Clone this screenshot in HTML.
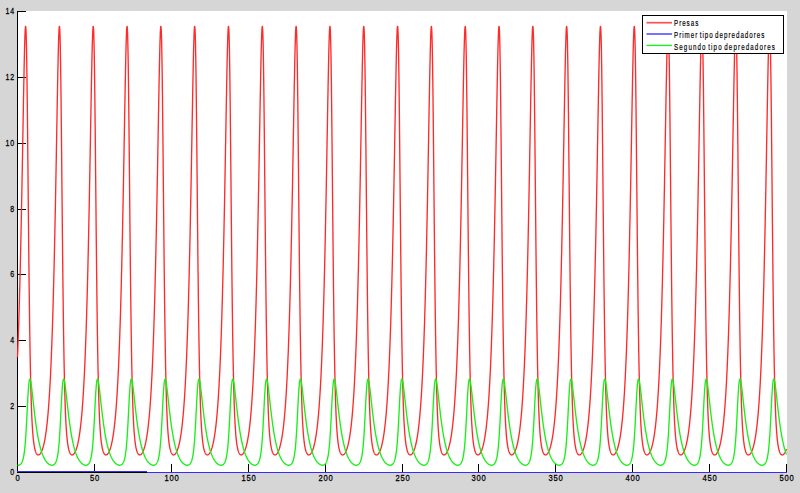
<!DOCTYPE html>
<html><head><meta charset="utf-8"><style>
html,body{margin:0;padding:0;}
body{width:800px;height:493px;background:#d6d6d6;position:relative;overflow:hidden;font-family:"Liberation Sans",sans-serif;}
svg{position:absolute;left:0;top:0;}
.lb{position:absolute;font-size:10px;line-height:10px;color:#000;white-space:nowrap;font-weight:bold;}
.yl{transform-origin:100% 50%;transform:translate(-0.2px,-1px) scale(0.7,0.95);text-align:right;width:30px;font-size:10px;font-weight:normal;letter-spacing:1px;-webkit-text-stroke:0.3px #000;}
.xl{transform-origin:50% 0;transform:translateY(-1.2px) scale(0.76,0.95);text-align:center;width:40px;font-size:10px;font-weight:normal;letter-spacing:1px;-webkit-text-stroke:0.3px #000;}
.lg{transform-origin:0 50%;transform:translateY(-0.8px) scale(0.62,0.92);letter-spacing:1.6px;word-spacing:-2px;font-weight:normal;-webkit-text-stroke:0.2px #000;}
</style></head><body>
<svg width="800" height="493" viewBox="0 0 800 493">
<rect x="17" y="11" width="770" height="461" fill="#fff"/>
<path d="M17.5,11 L17.5,473 M17,472.5 L787,472.5 M18,11.5 L26,11.5 M18,77.5 L26,77.5 M18,143.5 L26,143.5 M18,209.5 L26,209.5 M18,274.5 L26,274.5 M18,340.5 L26,340.5 M18,406.5 L26,406.5 M18,472.5 L26,472.5 M17.5,464 L17.5,472 M94.5,464 L94.5,472 M171.5,464 L171.5,472 M248.5,464 L248.5,472 M325.5,464 L325.5,472 M402.5,464 L402.5,472 M478.5,464 L478.5,472 M555.5,464 L555.5,472 M632.5,464 L632.5,472 M709.5,464 L709.5,472 M786.5,464 L786.5,472" fill="none" stroke="#000" stroke-width="1" shape-rendering="crispEdges"/>
<path d="M17.50,357.28 L17.63,354.13 L17.76,350.90 L17.88,347.58 L18.01,344.16 L18.14,340.66 L18.27,337.05 L18.40,333.35 L18.53,329.55 L18.65,325.65 L18.78,321.64 L18.91,317.52 L19.04,313.30 L19.17,308.97 L19.29,304.53 L19.42,299.98 L19.55,295.31 L19.68,290.52 L19.81,285.62 L19.94,280.60 L20.06,275.46 L20.19,270.20 L20.32,264.83 L20.45,259.32 L20.58,253.70 L20.70,247.96 L20.83,242.10 L20.96,236.12 L21.09,230.02 L21.22,223.80 L21.34,217.47 L21.47,211.04 L21.60,204.49 L21.73,197.84 L21.86,191.09 L21.99,184.26 L22.11,177.34 L22.24,170.34 L22.37,163.27 L22.50,156.15 L22.63,148.98 L22.75,141.77 L22.88,134.55 L23.01,127.33 L23.14,120.12 L23.27,112.95 L23.40,105.84 L23.52,98.81 L23.65,91.89 L23.78,85.10 L23.91,78.49 L24.04,72.07 L24.16,65.90 L24.29,60.00 L24.42,54.42 L24.55,49.21 L24.68,44.40 L24.81,40.05 L24.93,36.20 L25.06,32.91 L25.19,30.23 L25.32,28.21 L25.45,26.90 L25.57,26.35 L25.70,26.60 L25.83,27.69 L25.96,29.66 L26.09,32.55 L26.22,36.37 L26.34,41.13 L26.47,46.84 L26.60,53.50 L26.73,61.07 L26.86,69.53 L26.98,78.82 L27.11,88.91 L27.24,99.71 L27.37,111.15 L27.50,123.14 L27.63,135.59 L27.75,148.40 L27.88,161.47 L28.01,174.71 L28.14,188.01 L28.27,201.28 L28.39,214.43 L28.52,227.39 L28.65,240.08 L28.78,252.44 L28.91,264.43 L29.04,275.98 L29.16,287.08 L29.29,297.70 L29.42,307.82 L29.55,317.44 L29.68,326.54 L29.80,335.14 L29.93,343.25 L30.06,350.87 L30.19,358.02 L30.32,364.72 L30.44,370.99 L30.57,376.84 L30.70,382.31 L30.83,387.41 L30.96,392.16 L31.09,396.58 L31.21,400.70 L31.34,404.53 L31.47,408.10 L31.60,411.41 L31.73,414.50 L31.85,417.37 L31.98,420.04 L32.11,422.53 L32.24,424.84 L32.37,426.99 L32.50,429.00 L32.62,430.86 L32.75,432.60 L32.88,434.22 L33.01,435.73 L33.14,437.14 L33.26,438.46 L33.39,439.68 L33.52,440.83 L33.65,441.90 L33.78,442.90 L33.91,443.83 L34.03,444.70 L34.16,445.51 L34.29,446.27 L34.42,446.98 L34.55,447.65 L34.67,448.27 L34.80,448.85 L34.93,449.39 L35.06,449.89 L35.19,450.36 L35.32,450.80 L35.44,451.21 L35.57,451.59 L35.70,451.94 L35.83,452.27 L35.96,452.57 L36.08,452.85 L36.21,453.11 L36.34,453.35 L36.47,453.57 L36.60,453.77 L36.73,453.95 L36.85,454.11 L36.98,454.26 L37.11,454.39 L37.24,454.51 L37.37,454.61 L37.49,454.70 L37.62,454.78 L37.75,454.84 L37.88,454.88 L38.01,454.92 L38.13,454.94 L38.26,454.95 L38.39,454.95 L38.52,454.94 L38.65,454.92 L38.78,454.88 L38.90,454.83 L39.03,454.78 L39.16,454.71 L39.29,454.63 L39.42,454.54 L39.54,454.44 L39.67,454.33 L39.80,454.21 L39.93,454.08 L40.06,453.94 L40.19,453.78 L40.31,453.62 L40.44,453.45 L40.57,453.26 L40.70,453.07 L40.83,452.86 L40.95,452.64 L41.08,452.41 L41.21,452.17 L41.34,451.92 L41.47,451.65 L41.60,451.38 L41.72,451.09 L41.85,450.79 L41.98,450.48 L42.11,450.15 L42.24,449.81 L42.36,449.46 L42.49,449.10 L42.62,448.72 L42.75,448.32 L42.88,447.92 L43.01,447.49 L43.13,447.06 L43.26,446.60 L43.39,446.13 L43.52,445.65 L43.65,445.14 L43.77,444.62 L43.90,444.09 L44.03,443.53 L44.16,442.96 L44.29,442.36 L44.41,441.75 L44.54,441.12 L44.67,440.47 L44.80,439.79 L44.93,439.09 L45.06,438.38 L45.18,437.63 L45.31,436.87 L45.44,436.08 L45.57,435.27 L45.70,434.43 L45.82,433.56 L45.95,432.67 L46.08,431.75 L46.21,430.80 L46.34,429.82 L46.47,428.81 L46.59,427.77 L46.72,426.69 L46.85,425.59 L46.98,424.45 L47.11,423.27 L47.23,422.06 L47.36,420.81 L47.49,419.53 L47.62,418.20 L47.75,416.84 L47.88,415.43 L48.00,413.98 L48.13,412.49 L48.26,410.95 L48.39,409.37 L48.52,407.74 L48.64,406.06 L48.77,404.33 L48.90,402.54 L49.03,400.71 L49.16,398.82 L49.29,396.87 L49.41,394.87 L49.54,392.81 L49.67,390.69 L49.80,388.50 L49.93,386.25 L50.05,383.94 L50.18,381.56 L50.31,379.10 L50.44,376.58 L50.57,373.99 L50.70,371.32 L50.82,368.57 L50.95,365.75 L51.08,362.84 L51.21,359.85 L51.34,356.78 L51.46,353.62 L51.59,350.38 L51.72,347.04 L51.85,343.61 L51.98,340.09 L52.11,336.47 L52.23,332.75 L52.36,328.93 L52.49,325.01 L52.62,320.99 L52.75,316.86 L52.87,312.62 L53.00,308.27 L53.13,303.81 L53.26,299.24 L53.39,294.55 L53.51,289.75 L53.64,284.83 L53.77,279.79 L53.90,274.63 L54.03,269.36 L54.16,263.96 L54.28,258.44 L54.41,252.80 L54.54,247.04 L54.67,241.15 L54.80,235.15 L54.92,229.04 L55.05,222.80 L55.18,216.46 L55.31,210.00 L55.44,203.44 L55.57,196.77 L55.69,190.01 L55.82,183.16 L55.95,176.23 L56.08,169.22 L56.21,162.14 L56.33,155.01 L56.46,147.83 L56.59,140.62 L56.72,133.40 L56.85,126.18 L56.98,118.98 L57.10,111.82 L57.23,104.71 L57.36,97.70 L57.49,90.80 L57.62,84.04 L57.74,77.45 L57.87,71.07 L58.00,64.94 L58.13,59.09 L58.26,53.57 L58.39,48.41 L58.51,43.67 L58.64,39.40 L58.77,35.64 L58.90,32.45 L59.03,29.87 L59.15,27.96 L59.28,26.76 L59.41,26.33 L59.54,26.71 L59.67,27.94 L59.80,30.06 L59.92,33.10 L60.05,37.06 L60.18,41.98 L60.31,47.84 L60.44,54.64 L60.56,62.36 L60.69,70.95 L60.82,80.38 L60.95,90.58 L61.08,101.49 L61.20,113.02 L61.33,125.09 L61.46,137.61 L61.59,150.47 L61.72,163.57 L61.85,176.82 L61.97,190.12 L62.10,203.38 L62.23,216.51 L62.36,229.43 L62.49,242.07 L62.61,254.38 L62.74,266.30 L62.87,277.78 L63.00,288.81 L63.13,299.35 L63.26,309.39 L63.38,318.92 L63.51,327.95 L63.64,336.47 L63.77,344.49 L63.90,352.04 L64.02,359.12 L64.15,365.75 L64.28,371.95 L64.41,377.74 L64.54,383.15 L64.67,388.19 L64.79,392.88 L64.92,397.26 L65.05,401.33 L65.18,405.12 L65.31,408.64 L65.43,411.92 L65.56,414.97 L65.69,417.81 L65.82,420.45 L65.95,422.91 L66.08,425.19 L66.20,427.32 L66.33,429.30 L66.46,431.15 L66.59,432.87 L66.72,434.47 L66.84,435.97 L66.97,437.36 L67.10,438.66 L67.23,439.87 L67.36,441.00 L67.48,442.06 L67.61,443.05 L67.74,443.97 L67.87,444.83 L68.00,445.64 L68.13,446.39 L68.25,447.09 L68.38,447.75 L68.51,448.36 L68.64,448.93 L68.77,449.47 L68.89,449.97 L69.02,450.43 L69.15,450.87 L69.28,451.27 L69.41,451.65 L69.54,451.99 L69.66,452.32 L69.79,452.62 L69.92,452.89 L70.05,453.15 L70.18,453.39 L70.30,453.60 L70.43,453.80 L70.56,453.98 L70.69,454.14 L70.82,454.28 L70.95,454.41 L71.07,454.53 L71.20,454.63 L71.33,454.71 L71.46,454.79 L71.59,454.85 L71.71,454.89 L71.84,454.92 L71.97,454.95 L72.10,454.95 L72.23,454.95 L72.36,454.94 L72.48,454.91 L72.61,454.87 L72.74,454.83 L72.87,454.77 L73.00,454.70 L73.12,454.62 L73.25,454.53 L73.38,454.42 L73.51,454.31 L73.64,454.19 L73.77,454.06 L73.89,453.91 L74.02,453.76 L74.15,453.59 L74.28,453.42 L74.41,453.23 L74.53,453.03 L74.66,452.82 L74.79,452.60 L74.92,452.37 L75.05,452.13 L75.18,451.88 L75.30,451.61 L75.43,451.33 L75.56,451.04 L75.69,450.74 L75.82,450.43 L75.94,450.10 L76.07,449.76 L76.20,449.41 L76.33,449.04 L76.46,448.66 L76.58,448.26 L76.71,447.85 L76.84,447.42 L76.97,446.98 L77.10,446.53 L77.23,446.06 L77.35,445.57 L77.48,445.06 L77.61,444.54 L77.74,444.00 L77.87,443.44 L77.99,442.86 L78.12,442.27 L78.25,441.65 L78.38,441.02 L78.51,440.36 L78.64,439.68 L78.76,438.98 L78.89,438.26 L79.02,437.51 L79.15,436.75 L79.28,435.95 L79.40,435.13 L79.53,434.29 L79.66,433.42 L79.79,432.52 L79.92,431.60 L80.05,430.64 L80.17,429.66 L80.30,428.64 L80.43,427.60 L80.56,426.52 L80.69,425.41 L80.81,424.26 L80.94,423.08 L81.07,421.86 L81.20,420.61 L81.33,419.32 L81.46,417.99 L81.58,416.62 L81.71,415.20 L81.84,413.75 L81.97,412.25 L82.10,410.70 L82.22,409.11 L82.35,407.47 L82.48,405.78 L82.61,404.05 L82.74,402.26 L82.86,400.41 L82.99,398.51 L83.12,396.56 L83.25,394.55 L83.38,392.47 L83.51,390.34 L83.63,388.15 L83.76,385.89 L83.89,383.56 L84.02,381.17 L84.15,378.71 L84.27,376.17 L84.40,373.57 L84.53,370.88 L84.66,368.13 L84.79,365.29 L84.92,362.37 L85.04,359.37 L85.17,356.28 L85.30,353.11 L85.43,349.85 L85.56,346.50 L85.68,343.06 L85.81,339.52 L85.94,335.88 L86.07,332.15 L86.20,328.32 L86.33,324.38 L86.45,320.34 L86.58,316.19 L86.71,311.94 L86.84,307.57 L86.97,303.09 L87.09,298.50 L87.22,293.80 L87.35,288.98 L87.48,284.04 L87.61,278.98 L87.74,273.80 L87.86,268.51 L87.99,263.09 L88.12,257.55 L88.25,251.89 L88.38,246.11 L88.50,240.21 L88.63,234.19 L88.76,228.05 L88.89,221.80 L89.02,215.44 L89.15,208.96 L89.27,202.38 L89.40,195.70 L89.53,188.93 L89.66,182.06 L89.79,175.11 L89.91,168.09 L90.04,161.01 L90.17,153.87 L90.30,146.69 L90.43,139.48 L90.56,132.25 L90.68,125.03 L90.81,117.84 L90.94,110.68 L91.07,103.59 L91.20,96.59 L91.32,89.71 L91.45,82.98 L91.58,76.42 L91.71,70.08 L91.84,63.99 L91.96,58.19 L92.09,52.72 L92.22,47.63 L92.35,42.96 L92.48,38.77 L92.61,35.09 L92.73,31.99 L92.86,29.52 L92.99,27.72 L93.12,26.64 L93.25,26.34 L93.37,26.85 L93.50,28.22 L93.63,30.48 L93.76,33.66 L93.89,37.78 L94.02,42.85 L94.14,48.86 L94.27,55.81 L94.40,63.67 L94.53,72.40 L94.66,81.95 L94.78,92.27 L94.91,103.29 L95.04,114.91 L95.17,127.06 L95.30,139.63 L95.43,152.54 L95.55,165.67 L95.68,178.94 L95.81,192.24 L95.94,205.48 L96.07,218.58 L96.19,231.46 L96.32,244.06 L96.45,256.30 L96.58,268.15 L96.71,279.57 L96.84,290.52 L96.96,300.98 L97.09,310.94 L97.22,320.39 L97.35,329.34 L97.48,337.78 L97.60,345.73 L97.73,353.20 L97.86,360.20 L97.99,366.76 L98.12,372.90 L98.25,378.63 L98.37,383.97 L98.50,388.96 L98.63,393.60 L98.76,397.92 L98.89,401.95 L99.01,405.70 L99.14,409.18 L99.27,412.42 L99.40,415.44 L99.53,418.24 L99.65,420.85 L99.78,423.28 L99.91,425.54 L100.04,427.65 L100.17,429.61 L100.30,431.43 L100.42,433.13 L100.55,434.72 L100.68,436.19 L100.81,437.57 L100.94,438.86 L101.06,440.06 L101.19,441.18 L101.32,442.22 L101.45,443.20 L101.58,444.11 L101.71,444.97 L101.83,445.76 L101.96,446.51 L102.09,447.20 L102.22,447.85 L102.35,448.46 L102.47,449.02 L102.60,449.55 L102.73,450.04 L102.86,450.50 L102.99,450.93 L103.12,451.33 L103.24,451.70 L103.37,452.05 L103.50,452.37 L103.63,452.66 L103.76,452.94 L103.88,453.19 L104.01,453.42 L104.14,453.63 L104.27,453.83 L104.40,454.00 L104.53,454.16 L104.65,454.31 L104.78,454.43 L104.91,454.55 L105.04,454.64 L105.17,454.73 L105.29,454.80 L105.42,454.85 L105.55,454.90 L105.68,454.93 L105.81,454.95 L105.94,454.95 L106.06,454.95 L106.19,454.93 L106.32,454.91 L106.45,454.87 L106.58,454.82 L106.70,454.76 L106.83,454.69 L106.96,454.60 L107.09,454.51 L107.22,454.41 L107.34,454.29 L107.47,454.17 L107.60,454.03 L107.73,453.89 L107.86,453.73 L107.99,453.57 L108.11,453.39 L108.24,453.20 L108.37,453.00 L108.50,452.79 L108.63,452.57 L108.75,452.34 L108.88,452.09 L109.01,451.84 L109.14,451.57 L109.27,451.29 L109.40,451.00 L109.52,450.69 L109.65,450.38 L109.78,450.05 L109.91,449.70 L110.04,449.35 L110.16,448.98 L110.29,448.59 L110.42,448.20 L110.55,447.78 L110.68,447.36 L110.81,446.91 L110.93,446.45 L111.06,445.98 L111.19,445.49 L111.32,444.98 L111.45,444.45 L111.57,443.91 L111.70,443.35 L111.83,442.77 L111.96,442.17 L112.09,441.55 L112.22,440.91 L112.34,440.25 L112.47,439.57 L112.60,438.87 L112.73,438.14 L112.86,437.39 L112.98,436.62 L113.11,435.82 L113.24,435.00 L113.37,434.15 L113.50,433.28 L113.62,432.38 L113.75,431.45 L113.88,430.49 L114.01,429.50 L114.14,428.48 L114.27,427.43 L114.39,426.34 L114.52,425.23 L114.65,424.08 L114.78,422.89 L114.91,421.67 L115.03,420.41 L115.16,419.11 L115.29,417.77 L115.42,416.39 L115.55,414.97 L115.68,413.51 L115.80,412.00 L115.93,410.45 L116.06,408.85 L116.19,407.21 L116.32,405.51 L116.44,403.76 L116.57,401.97 L116.70,400.11 L116.83,398.21 L116.96,396.24 L117.09,394.22 L117.21,392.14 L117.34,390.00 L117.47,387.79 L117.60,385.52 L117.73,383.19 L117.85,380.78 L117.98,378.31 L118.11,375.76 L118.24,373.14 L118.37,370.45 L118.50,367.68 L118.62,364.83 L118.75,361.90 L118.88,358.88 L119.01,355.79 L119.14,352.60 L119.26,349.33 L119.39,345.96 L119.52,342.50 L119.65,338.95 L119.78,335.30 L119.91,331.55 L120.03,327.70 L120.16,323.74 L120.29,319.69 L120.42,315.52 L120.55,311.25 L120.67,306.87 L120.80,302.37 L120.93,297.76 L121.06,293.04 L121.19,288.20 L121.31,283.24 L121.44,278.16 L121.57,272.97 L121.70,267.65 L121.83,262.21 L121.96,256.66 L122.08,250.98 L122.21,245.18 L122.34,239.26 L122.47,233.22 L122.60,227.06 L122.72,220.79 L122.85,214.41 L122.98,207.92 L123.11,201.33 L123.24,194.63 L123.37,187.84 L123.49,180.96 L123.62,174.00 L123.75,166.97 L123.88,159.87 L124.01,152.73 L124.13,145.54 L124.26,138.33 L124.39,131.10 L124.52,123.88 L124.65,116.69 L124.78,109.55 L124.90,102.47 L125.03,95.49 L125.16,88.63 L125.29,81.92 L125.42,75.40 L125.54,69.09 L125.67,63.04 L125.80,57.29 L125.93,51.88 L126.06,46.86 L126.19,42.26 L126.31,38.15 L126.44,34.56 L126.57,31.56 L126.70,29.18 L126.83,27.49 L126.95,26.54 L127.08,26.36 L127.21,27.01 L127.34,28.52 L127.47,30.93 L127.60,34.26 L127.72,38.53 L127.85,43.74 L127.98,49.91 L128.11,57.00 L128.24,65.00 L128.36,73.86 L128.49,83.55 L128.62,93.98 L128.75,105.10 L128.88,116.81 L129.00,129.03 L129.13,141.67 L129.26,154.62 L129.39,167.78 L129.52,181.06 L129.65,194.35 L129.77,207.58 L129.90,220.65 L130.03,233.49 L130.16,246.03 L130.29,258.22 L130.41,270.00 L130.54,281.34 L130.67,292.22 L130.80,302.60 L130.93,312.48 L131.06,321.85 L131.18,330.71 L131.31,339.08 L131.44,346.95 L131.57,354.34 L131.70,361.27 L131.82,367.77 L131.95,373.83 L132.08,379.50 L132.21,384.79 L132.34,389.72 L132.47,394.31 L132.59,398.58 L132.72,402.56 L132.85,406.27 L132.98,409.71 L133.11,412.92 L133.23,415.90 L133.36,418.67 L133.49,421.25 L133.62,423.65 L133.75,425.89 L133.88,427.97 L134.00,429.90 L134.13,431.71 L134.26,433.39 L134.39,434.96 L134.52,436.42 L134.64,437.78 L134.77,439.05 L134.90,440.24 L135.03,441.35 L135.16,442.38 L135.29,443.35 L135.41,444.25 L135.54,445.10 L135.67,445.88 L135.80,446.62 L135.93,447.31 L136.05,447.95 L136.18,448.55 L136.31,449.11 L136.44,449.63 L136.57,450.12 L136.69,450.57 L136.82,451.00 L136.95,451.39 L137.08,451.76 L137.21,452.10 L137.34,452.42 L137.46,452.71 L137.59,452.98 L137.72,453.23 L137.85,453.46 L137.98,453.67 L138.10,453.86 L138.23,454.03 L138.36,454.19 L138.49,454.33 L138.62,454.45 L138.75,454.56 L138.87,454.66 L139.00,454.74 L139.13,454.81 L139.26,454.86 L139.39,454.90 L139.51,454.93 L139.64,454.95 L139.77,454.95 L139.90,454.95 L140.03,454.93 L140.16,454.90 L140.28,454.86 L140.41,454.81 L140.54,454.75 L140.67,454.67 L140.80,454.59 L140.92,454.50 L141.05,454.39 L141.18,454.27 L141.31,454.15 L141.44,454.01 L141.57,453.86 L141.69,453.71 L141.82,453.54 L141.95,453.36 L142.08,453.17 L142.21,452.97 L142.33,452.76 L142.46,452.53 L142.59,452.30 L142.72,452.05 L142.85,451.79 L142.98,451.52 L143.10,451.24 L143.23,450.95 L143.36,450.64 L143.49,450.32 L143.62,449.99 L143.74,449.65 L143.87,449.29 L144.00,448.92 L144.13,448.53 L144.26,448.13 L144.38,447.72 L144.51,447.29 L144.64,446.84 L144.77,446.38 L144.90,445.90 L145.03,445.41 L145.15,444.90 L145.28,444.37 L145.41,443.82 L145.54,443.26 L145.67,442.68 L145.79,442.07 L145.92,441.45 L146.05,440.81 L146.18,440.15 L146.31,439.46 L146.44,438.75 L146.56,438.03 L146.69,437.27 L146.82,436.50 L146.95,435.69 L147.08,434.87 L147.20,434.02 L147.33,433.14 L147.46,432.23 L147.59,431.30 L147.72,430.33 L147.85,429.34 L147.97,428.31 L148.10,427.26 L148.23,426.17 L148.36,425.05 L148.49,423.89 L148.61,422.70 L148.74,421.47 L148.87,420.20 L149.00,418.90 L149.13,417.55 L149.26,416.17 L149.38,414.74 L149.51,413.27 L149.64,411.76 L149.77,410.20 L149.90,408.59 L150.02,406.94 L150.15,405.24 L150.28,403.48 L150.41,401.67 L150.54,399.81 L150.67,397.90 L150.79,395.92 L150.92,393.89 L151.05,391.80 L151.18,389.65 L151.31,387.43 L151.43,385.15 L151.56,382.81 L151.69,380.39 L151.82,377.91 L151.95,375.35 L152.08,372.72 L152.20,370.01 L152.33,367.23 L152.46,364.37 L152.59,361.42 L152.72,358.40 L152.84,355.28 L152.97,352.08 L153.10,348.80 L153.23,345.42 L153.36,341.94 L153.48,338.37 L153.61,334.71 L153.74,330.94 L153.87,327.08 L154.00,323.11 L154.13,319.03 L154.25,314.85 L154.38,310.56 L154.51,306.16 L154.64,301.64 L154.77,297.02 L154.89,292.28 L155.02,287.42 L155.15,282.44 L155.28,277.34 L155.41,272.13 L155.54,266.79 L155.66,261.34 L155.79,255.76 L155.92,250.06 L156.05,244.24 L156.18,238.30 L156.30,232.25 L156.43,226.07 L156.56,219.79 L156.69,213.39 L156.82,206.88 L156.95,200.27 L157.07,193.56 L157.20,186.75 L157.33,179.86 L157.46,172.89 L157.59,165.84 L157.71,158.74 L157.84,151.58 L157.97,144.39 L158.10,137.18 L158.23,129.95 L158.36,122.74 L158.48,115.55 L158.61,108.41 L158.74,101.35 L158.87,94.39 L159.00,87.55 L159.12,80.87 L159.25,74.38 L159.38,68.11 L159.51,62.11 L159.64,56.41 L159.77,51.06 L159.89,46.09 L160.02,41.57 L160.15,37.54 L160.28,34.04 L160.41,31.13 L160.53,28.87 L160.66,27.29 L160.79,26.46 L160.92,26.41 L161.05,27.19 L161.17,28.84 L161.30,31.40 L161.43,34.87 L161.56,39.29 L161.69,44.66 L161.82,50.97 L161.94,58.21 L162.07,66.35 L162.20,75.35 L162.33,85.16 L162.46,95.71 L162.58,106.92 L162.71,118.73 L162.84,131.02 L162.97,143.71 L163.10,156.70 L163.23,169.89 L163.35,183.18 L163.48,196.47 L163.61,209.67 L163.74,222.71 L163.87,235.51 L163.99,248.00 L164.12,260.12 L164.25,271.84 L164.38,283.11 L164.51,293.90 L164.64,304.21 L164.76,314.00 L164.89,323.29 L165.02,332.08 L165.15,340.36 L165.28,348.16 L165.40,355.48 L165.53,362.34 L165.66,368.76 L165.79,374.76 L165.92,380.37 L166.05,385.60 L166.17,390.47 L166.30,395.01 L166.43,399.24 L166.56,403.17 L166.69,406.83 L166.81,410.24 L166.94,413.41 L167.07,416.35 L167.20,419.09 L167.33,421.64 L167.46,424.02 L167.58,426.23 L167.71,428.28 L167.84,430.20 L167.97,431.98 L168.10,433.65 L168.22,435.20 L168.35,436.64 L168.48,437.99 L168.61,439.25 L168.74,440.42 L168.86,441.52 L168.99,442.54 L169.12,443.50 L169.25,444.39 L169.38,445.22 L169.51,446.00 L169.63,446.73 L169.76,447.41 L169.89,448.05 L170.02,448.64 L170.15,449.19 L170.27,449.71 L170.40,450.19 L170.53,450.64 L170.66,451.06 L170.79,451.45 L170.92,451.82 L171.04,452.15 L171.17,452.46 L171.30,452.75 L171.43,453.02 L171.56,453.27 L171.68,453.49 L171.81,453.70 L171.94,453.89 L172.07,454.06 L172.20,454.21 L172.33,454.35 L172.45,454.47 L172.58,454.58 L172.71,454.67 L172.84,454.75 L172.97,454.82 L173.09,454.87 L173.22,454.91 L173.35,454.94 L173.48,454.95 L173.61,454.95 L173.74,454.95 L173.86,454.93 L173.99,454.89 L174.12,454.85 L174.25,454.80 L174.38,454.74 L174.50,454.66 L174.63,454.58 L174.76,454.48 L174.89,454.37 L175.02,454.26 L175.15,454.13 L175.27,453.99 L175.40,453.84 L175.53,453.68 L175.66,453.51 L175.79,453.33 L175.91,453.14 L176.04,452.93 L176.17,452.72 L176.30,452.50 L176.43,452.26 L176.55,452.01 L176.68,451.75 L176.81,451.48 L176.94,451.20 L177.07,450.90 L177.20,450.59 L177.32,450.27 L177.45,449.94 L177.58,449.59 L177.71,449.23 L177.84,448.86 L177.96,448.47 L178.09,448.07 L178.22,447.65 L178.35,447.22 L178.48,446.77 L178.61,446.30 L178.73,445.82 L178.86,445.33 L178.99,444.81 L179.12,444.28 L179.25,443.73 L179.37,443.17 L179.50,442.58 L179.63,441.98 L179.76,441.35 L179.89,440.71 L180.02,440.04 L180.14,439.35 L180.27,438.64 L180.40,437.91 L180.53,437.15 L180.66,436.37 L180.78,435.56 L180.91,434.73 L181.04,433.88 L181.17,432.99 L181.30,432.08 L181.43,431.14 L181.55,430.18 L181.68,429.18 L181.81,428.15 L181.94,427.09 L182.07,425.99 L182.19,424.86 L182.32,423.70 L182.45,422.50 L182.58,421.27 L182.71,420.00 L182.84,418.69 L182.96,417.34 L183.09,415.95 L183.22,414.51 L183.35,413.04 L183.48,411.51 L183.60,409.95 L183.73,408.33 L183.86,406.67 L183.99,404.96 L184.12,403.20 L184.24,401.38 L184.37,399.51 L184.50,397.59 L184.63,395.60 L184.76,393.56 L184.89,391.46 L185.01,389.30 L185.14,387.08 L185.27,384.79 L185.40,382.43 L185.53,380.00 L185.65,377.51 L185.78,374.94 L185.91,372.29 L186.04,369.58 L186.17,366.78 L186.30,363.91 L186.42,360.95 L186.55,357.91 L186.68,354.78 L186.81,351.57 L186.94,348.26 L187.06,344.87 L187.19,341.38 L187.32,337.80 L187.45,334.11 L187.58,330.33 L187.71,326.45 L187.83,322.46 L187.96,318.37 L188.09,314.17 L188.22,309.87 L188.35,305.45 L188.47,300.92 L188.60,296.27 L188.73,291.51 L188.86,286.63 L188.99,281.64 L189.12,276.52 L189.24,271.29 L189.37,265.93 L189.50,260.46 L189.63,254.86 L189.76,249.14 L189.88,243.30 L190.01,237.35 L190.14,231.27 L190.27,225.08 L190.40,218.77 L190.53,212.36 L190.65,205.83 L190.78,199.21 L190.91,192.48 L191.04,185.66 L191.17,178.75 L191.29,171.77 L191.42,164.72 L191.55,157.60 L191.68,150.44 L191.81,143.24 L191.93,136.03 L192.06,128.80 L192.19,121.59 L192.32,114.41 L192.45,107.28 L192.58,100.24 L192.70,93.29 L192.83,86.47 L192.96,79.82 L193.09,73.36 L193.22,67.14 L193.34,61.18 L193.47,55.53 L193.60,50.24 L193.73,45.34 L193.86,40.90 L193.99,36.94 L194.11,33.54 L194.24,30.73 L194.37,28.57 L194.50,27.11 L194.63,26.40 L194.75,26.48 L194.88,27.40 L195.01,29.19 L195.14,31.89 L195.27,35.51 L195.40,40.08 L195.52,45.60 L195.65,52.06 L195.78,59.45 L195.91,67.73 L196.04,76.86 L196.16,86.79 L196.29,97.45 L196.42,108.77 L196.55,120.65 L196.68,133.02 L196.81,145.76 L196.93,158.79 L197.06,172.00 L197.19,185.29 L197.32,198.58 L197.45,211.76 L197.57,224.77 L197.70,237.52 L197.83,249.95 L197.96,262.02 L198.09,273.66 L198.22,284.86 L198.34,295.58 L198.47,305.80 L198.60,315.52 L198.73,324.73 L198.86,333.43 L198.98,341.64 L199.11,349.35 L199.24,356.60 L199.37,363.39 L199.50,369.74 L199.62,375.68 L199.75,381.23 L199.88,386.40 L200.01,391.22 L200.14,395.70 L200.27,399.88 L200.39,403.77 L200.52,407.39 L200.65,410.76 L200.78,413.89 L200.91,416.80 L201.03,419.51 L201.16,422.03 L201.29,424.38 L201.42,426.57 L201.55,428.60 L201.68,430.49 L201.80,432.26 L201.93,433.90 L202.06,435.43 L202.19,436.86 L202.32,438.20 L202.44,439.44 L202.57,440.60 L202.70,441.69 L202.83,442.70 L202.96,443.64 L203.09,444.53 L203.21,445.35 L203.34,446.12 L203.47,446.84 L203.60,447.52 L203.73,448.14 L203.85,448.73 L203.98,449.28 L204.11,449.79 L204.24,450.27 L204.37,450.71 L204.50,451.13 L204.62,451.51 L204.75,451.87 L204.88,452.20 L205.01,452.51 L205.14,452.80 L205.26,453.06 L205.39,453.30 L205.52,453.52 L205.65,453.73 L205.78,453.91 L205.91,454.08 L206.03,454.23 L206.16,454.37 L206.29,454.49 L206.42,454.59 L206.55,454.68 L206.67,454.76 L206.80,454.83 L206.93,454.88 L207.06,454.91 L207.19,454.94 L207.31,454.95 L207.44,454.95 L207.57,454.94 L207.70,454.92 L207.83,454.89 L207.96,454.84 L208.08,454.79 L208.21,454.72 L208.34,454.65 L208.47,454.56 L208.60,454.46 L208.72,454.35 L208.85,454.24 L208.98,454.11 L209.11,453.97 L209.24,453.82 L209.37,453.65 L209.49,453.48 L209.62,453.30 L209.75,453.11 L209.88,452.90 L210.01,452.69 L210.13,452.46 L210.26,452.22 L210.39,451.97 L210.52,451.71 L210.65,451.44 L210.78,451.15 L210.90,450.85 L211.03,450.54 L211.16,450.22 L211.29,449.88 L211.42,449.54 L211.54,449.17 L211.67,448.80 L211.80,448.41 L211.93,448.00 L212.06,447.58 L212.19,447.15 L212.31,446.70 L212.44,446.23 L212.57,445.75 L212.70,445.25 L212.83,444.73 L212.95,444.20 L213.08,443.65 L213.21,443.08 L213.34,442.49 L213.47,441.88 L213.59,441.25 L213.72,440.60 L213.85,439.93 L213.98,439.24 L214.11,438.52 L214.24,437.79 L214.36,437.03 L214.49,436.24 L214.62,435.43 L214.75,434.60 L214.88,433.74 L215.00,432.85 L215.13,431.94 L215.26,430.99 L215.39,430.02 L215.52,429.01 L215.65,427.98 L215.77,426.91 L215.90,425.81 L216.03,424.68 L216.16,423.51 L216.29,422.31 L216.41,421.07 L216.54,419.79 L216.67,418.48 L216.80,417.12 L216.93,415.72 L217.06,414.28 L217.18,412.80 L217.31,411.27 L217.44,409.69 L217.57,408.07 L217.70,406.40 L217.82,404.68 L217.95,402.91 L218.08,401.09 L218.21,399.21 L218.34,397.28 L218.47,395.28 L218.59,393.23 L218.72,391.12 L218.85,388.95 L218.98,386.72 L219.11,384.41 L219.23,382.05 L219.36,379.61 L219.49,377.10 L219.62,374.52 L219.75,371.87 L219.88,369.14 L220.00,366.33 L220.13,363.44 L220.26,360.47 L220.39,357.42 L220.52,354.27 L220.64,351.05 L220.77,347.73 L220.90,344.32 L221.03,340.82 L221.16,337.22 L221.28,333.52 L221.41,329.72 L221.54,325.82 L221.67,321.82 L221.80,317.71 L221.93,313.49 L222.05,309.17 L222.18,304.73 L222.31,300.18 L222.44,295.52 L222.57,290.74 L222.69,285.84 L222.82,280.83 L222.95,275.70 L223.08,270.44 L223.21,265.07 L223.34,259.57 L223.46,253.96 L223.59,248.22 L223.72,242.36 L223.85,236.39 L223.98,230.29 L224.10,224.08 L224.23,217.76 L224.36,211.33 L224.49,204.78 L224.62,198.14 L224.75,191.40 L224.87,184.57 L225.00,177.65 L225.13,170.65 L225.26,163.59 L225.39,156.47 L225.51,149.30 L225.64,142.10 L225.77,134.88 L225.90,127.65 L226.03,120.45 L226.16,113.27 L226.28,106.16 L226.41,99.12 L226.54,92.19 L226.67,85.40 L226.80,78.78 L226.92,72.36 L227.05,66.17 L227.18,60.26 L227.31,54.66 L227.44,49.43 L227.57,44.60 L227.69,40.23 L227.82,36.36 L227.95,33.05 L228.08,30.34 L228.21,28.29 L228.33,26.94 L228.46,26.35 L228.59,26.57 L228.72,27.62 L228.85,29.56 L228.97,32.40 L229.10,36.18 L229.23,40.90 L229.36,46.57 L229.49,53.18 L229.62,60.71 L229.74,69.13 L229.87,78.39 L230.00,88.44 L230.13,99.21 L230.26,110.62 L230.38,122.59 L230.51,135.02 L230.64,147.82 L230.77,160.88 L230.90,174.11 L231.03,187.41 L231.15,200.69 L231.28,213.85 L231.41,226.82 L231.54,239.52 L231.67,251.90 L231.79,263.90 L231.92,275.48 L232.05,286.60 L232.18,297.24 L232.31,307.38 L232.44,317.02 L232.56,326.15 L232.69,334.77 L232.82,342.90 L232.95,350.54 L233.08,357.71 L233.20,364.43 L233.33,370.72 L233.46,376.59 L233.59,382.07 L233.72,387.19 L233.85,391.95 L233.97,396.39 L234.10,400.52 L234.23,404.37 L234.36,407.94 L234.49,411.27 L234.61,414.37 L234.74,417.25 L234.87,419.93 L235.00,422.42 L235.13,424.74 L235.26,426.90 L235.38,428.91 L235.51,430.78 L235.64,432.53 L235.77,434.15 L235.90,435.67 L236.02,437.08 L236.15,438.40 L236.28,439.63 L236.41,440.78 L236.54,441.85 L236.66,442.85 L236.79,443.79 L236.92,444.66 L237.05,445.48 L237.18,446.24 L237.31,446.95 L237.43,447.62 L237.56,448.24 L237.69,448.82 L237.82,449.36 L237.95,449.87 L238.07,450.34 L238.20,450.78 L238.33,451.19 L238.46,451.57 L238.59,451.93 L238.72,452.25 L238.84,452.56 L238.97,452.84 L239.10,453.10 L239.23,453.34 L239.36,453.56 L239.48,453.76 L239.61,453.94 L239.74,454.11 L239.87,454.26 L240.00,454.39 L240.13,454.51 L240.25,454.61 L240.38,454.70 L240.51,454.77 L240.64,454.83 L240.77,454.88 L240.89,454.92 L241.02,454.94 L241.15,454.95 L241.28,454.95 L241.41,454.94 L241.54,454.92 L241.66,454.88 L241.79,454.84 L241.92,454.78 L242.05,454.71 L242.18,454.63 L242.30,454.55 L242.43,454.45 L242.56,454.34 L242.69,454.22 L242.82,454.08 L242.95,453.94 L243.07,453.79 L243.20,453.63 L243.33,453.45 L243.46,453.27 L243.59,453.07 L243.71,452.87 L243.84,452.65 L243.97,452.42 L244.10,452.18 L244.23,451.93 L244.36,451.67 L244.48,451.39 L244.61,451.10 L244.74,450.80 L244.87,450.49 L245.00,450.17 L245.12,449.83 L245.25,449.48 L245.38,449.11 L245.51,448.73 L245.64,448.34 L245.76,447.93 L245.89,447.51 L246.02,447.08 L246.15,446.62 L246.28,446.15 L246.41,445.67 L246.53,445.17 L246.66,444.65 L246.79,444.11 L246.92,443.56 L247.05,442.98 L247.17,442.39 L247.30,441.78 L247.43,441.15 L247.56,440.50 L247.69,439.82 L247.82,439.13 L247.94,438.41 L248.07,437.67 L248.20,436.90 L248.33,436.12 L248.46,435.30 L248.58,434.46 L248.71,433.60 L248.84,432.71 L248.97,431.79 L249.10,430.84 L249.23,429.86 L249.35,428.85 L249.48,427.81 L249.61,426.74 L249.74,425.64 L249.87,424.50 L249.99,423.32 L250.12,422.12 L250.25,420.87 L250.38,419.58 L250.51,418.26 L250.64,416.90 L250.76,415.49 L250.89,414.05 L251.02,412.56 L251.15,411.02 L251.28,409.44 L251.40,407.81 L251.53,406.13 L251.66,404.40 L251.79,402.62 L251.92,400.79 L252.05,398.90 L252.17,396.96 L252.30,394.96 L252.43,392.90 L252.56,390.78 L252.69,388.60 L252.81,386.35 L252.94,384.04 L253.07,381.66 L253.20,379.21 L253.33,376.70 L253.45,374.10 L253.58,371.44 L253.71,368.69 L253.84,365.87 L253.97,362.97 L254.10,359.99 L254.22,356.92 L254.35,353.77 L254.48,350.52 L254.61,347.19 L254.74,343.77 L254.86,340.25 L254.99,336.63 L255.12,332.92 L255.25,329.11 L255.38,325.19 L255.51,321.17 L255.63,317.05 L255.76,312.81 L255.89,308.47 L256.02,304.02 L256.15,299.45 L256.27,294.77 L256.40,289.97 L256.53,285.05 L256.66,280.02 L256.79,274.87 L256.92,269.60 L257.04,264.20 L257.17,258.69 L257.30,253.05 L257.43,247.30 L257.56,241.42 L257.68,235.43 L257.81,229.31 L257.94,223.08 L258.07,216.74 L258.20,210.29 L258.33,203.73 L258.45,197.07 L258.58,190.32 L258.71,183.47 L258.84,176.54 L258.97,169.53 L259.09,162.46 L259.22,155.33 L259.35,148.15 L259.48,140.95 L259.61,133.73 L259.74,126.50 L259.86,119.30 L259.99,112.14 L260.12,105.03 L260.25,98.01 L260.38,91.10 L260.50,84.34 L260.63,77.74 L260.76,71.35 L260.89,65.21 L261.02,59.35 L261.14,53.81 L261.27,48.63 L261.40,43.88 L261.53,39.58 L261.66,35.80 L261.79,32.58 L261.91,29.97 L262.04,28.03 L262.17,26.80 L262.30,26.33 L262.43,26.68 L262.55,27.87 L262.68,29.95 L262.81,32.94 L262.94,36.87 L263.07,41.74 L263.20,47.56 L263.32,54.32 L263.45,61.99 L263.58,70.55 L263.71,79.94 L263.84,90.11 L263.96,100.99 L264.09,112.49 L264.22,124.54 L264.35,137.04 L264.48,149.88 L264.61,162.98 L264.73,176.23 L264.86,189.53 L264.99,202.79 L265.12,215.93 L265.25,228.86 L265.37,241.51 L265.50,253.84 L265.63,265.77 L265.76,277.28 L265.89,288.32 L266.02,298.89 L266.14,308.95 L266.27,318.50 L266.40,327.55 L266.53,336.10 L266.66,344.15 L266.78,351.71 L266.91,358.81 L267.04,365.46 L267.17,371.68 L267.30,377.49 L267.43,382.91 L267.55,387.97 L267.68,392.68 L267.81,397.07 L267.94,401.15 L268.07,404.95 L268.19,408.49 L268.32,411.78 L268.45,414.84 L268.58,417.69 L268.71,420.34 L268.83,422.80 L268.96,425.09 L269.09,427.23 L269.22,429.22 L269.35,431.07 L269.48,432.79 L269.60,434.40 L269.73,435.90 L269.86,437.30 L269.99,438.60 L270.12,439.82 L270.24,440.96 L270.37,442.02 L270.50,443.01 L270.63,443.93 L270.76,444.80 L270.89,445.60 L271.01,446.36 L271.14,447.06 L271.27,447.72 L271.40,448.34 L271.53,448.91 L271.65,449.45 L271.78,449.95 L271.91,450.41 L272.04,450.85 L272.17,451.25 L272.30,451.63 L272.42,451.98 L272.55,452.30 L272.68,452.60 L272.81,452.88 L272.94,453.14 L273.06,453.38 L273.19,453.59 L273.32,453.79 L273.45,453.97 L273.58,454.13 L273.71,454.28 L273.83,454.41 L273.96,454.52 L274.09,454.62 L274.22,454.71 L274.35,454.78 L274.47,454.84 L274.60,454.89 L274.73,454.92 L274.86,454.94 L274.99,454.95 L275.12,454.95 L275.24,454.94 L275.37,454.91 L275.50,454.88 L275.63,454.83 L275.76,454.77 L275.88,454.70 L276.01,454.62 L276.14,454.53 L276.27,454.43 L276.40,454.32 L276.52,454.20 L276.65,454.06 L276.78,453.92 L276.91,453.77 L277.04,453.60 L277.17,453.43 L277.29,453.24 L277.42,453.04 L277.55,452.83 L277.68,452.61 L277.81,452.38 L277.93,452.14 L278.06,451.89 L278.19,451.62 L278.32,451.35 L278.45,451.06 L278.58,450.76 L278.70,450.44 L278.83,450.11 L278.96,449.77 L279.09,449.42 L279.22,449.05 L279.34,448.67 L279.47,448.28 L279.60,447.87 L279.73,447.44 L279.86,447.00 L279.99,446.55 L280.11,446.08 L280.24,445.59 L280.37,445.08 L280.50,444.56 L280.63,444.02 L280.75,443.47 L280.88,442.89 L281.01,442.29 L281.14,441.68 L281.27,441.04 L281.40,440.39 L281.52,439.71 L281.65,439.01 L281.78,438.29 L281.91,437.55 L282.04,436.78 L282.16,435.99 L282.29,435.17 L282.42,434.33 L282.55,433.46 L282.68,432.56 L282.81,431.64 L282.93,430.68 L283.06,429.70 L283.19,428.69 L283.32,427.64 L283.45,426.57 L283.57,425.46 L283.70,424.31 L283.83,423.13 L283.96,421.92 L284.09,420.67 L284.21,419.38 L284.34,418.05 L284.47,416.68 L284.60,415.27 L284.73,413.81 L284.86,412.31 L284.98,410.77 L285.11,409.18 L285.24,407.55 L285.37,405.86 L285.50,404.12 L285.62,402.34 L285.75,400.50 L285.88,398.60 L286.01,396.65 L286.14,394.64 L286.27,392.57 L286.39,390.44 L286.52,388.25 L286.65,385.99 L286.78,383.67 L286.91,381.28 L287.03,378.82 L287.16,376.29 L287.29,373.68 L287.42,371.01 L287.55,368.25 L287.68,365.42 L287.80,362.50 L287.93,359.51 L288.06,356.42 L288.19,353.26 L288.32,350.00 L288.44,346.65 L288.57,343.21 L288.70,339.68 L288.83,336.05 L288.96,332.32 L289.09,328.49 L289.21,324.56 L289.34,320.52 L289.47,316.38 L289.60,312.13 L289.73,307.77 L289.85,303.30 L289.98,298.71 L290.11,294.01 L290.24,289.19 L290.37,284.26 L290.50,279.21 L290.62,274.04 L290.75,268.74 L290.88,263.33 L291.01,257.80 L291.14,252.14 L291.26,246.37 L291.39,240.47 L291.52,234.46 L291.65,228.33 L291.78,222.08 L291.90,215.72 L292.03,209.25 L292.16,202.68 L292.29,196.00 L292.42,189.23 L292.55,182.37 L292.67,175.43 L292.80,168.41 L292.93,161.33 L293.06,154.19 L293.19,147.01 L293.31,139.80 L293.44,132.58 L293.57,125.36 L293.70,118.16 L293.83,111.00 L293.96,103.91 L294.08,96.90 L294.21,90.02 L294.34,83.27 L294.47,76.71 L294.60,70.36 L294.72,64.26 L294.85,58.44 L294.98,52.96 L295.11,47.85 L295.24,43.16 L295.37,38.94 L295.49,35.25 L295.62,32.12 L295.75,29.61 L295.88,27.78 L296.01,26.67 L296.13,26.33 L296.26,26.81 L296.39,28.14 L296.52,30.36 L296.65,33.50 L296.78,37.58 L296.90,42.60 L297.03,48.57 L297.16,55.48 L297.29,63.30 L297.42,71.99 L297.54,81.51 L297.67,91.80 L297.80,102.78 L297.93,114.38 L298.06,126.50 L298.19,139.06 L298.31,151.96 L298.44,165.08 L298.57,178.34 L298.70,191.64 L298.83,204.89 L298.95,218.00 L299.08,230.89 L299.21,243.50 L299.34,255.76 L299.47,267.63 L299.59,279.07 L299.72,290.04 L299.85,300.52 L299.98,310.50 L300.11,319.98 L300.24,328.95 L300.36,337.41 L300.49,345.38 L300.62,352.87 L300.75,359.90 L300.88,366.48 L301.00,372.63 L301.13,378.38 L301.26,383.74 L301.39,388.74 L301.52,393.40 L301.65,397.74 L301.77,401.78 L301.90,405.53 L302.03,409.03 L302.16,412.28 L302.29,415.31 L302.41,418.12 L302.54,420.74 L302.67,423.18 L302.80,425.44 L302.93,427.55 L303.06,429.52 L303.18,431.35 L303.31,433.06 L303.44,434.65 L303.57,436.13 L303.70,437.51 L303.82,438.80 L303.95,440.01 L304.08,441.13 L304.21,442.18 L304.34,443.16 L304.47,444.07 L304.59,444.93 L304.72,445.73 L304.85,446.47 L304.98,447.17 L305.11,447.82 L305.23,448.43 L305.36,449.00 L305.49,449.53 L305.62,450.02 L305.75,450.48 L305.88,450.91 L306.00,451.31 L306.13,451.69 L306.26,452.03 L306.39,452.35 L306.52,452.65 L306.64,452.93 L306.77,453.18 L306.90,453.41 L307.03,453.62 L307.16,453.82 L307.28,454.00 L307.41,454.16 L307.54,454.30 L307.67,454.43 L307.80,454.54 L307.93,454.64 L308.05,454.72 L308.18,454.79 L308.31,454.85 L308.44,454.90 L308.57,454.93 L308.69,454.95 L308.82,454.95 L308.95,454.95 L309.08,454.93 L309.21,454.91 L309.34,454.87 L309.46,454.82 L309.59,454.76 L309.72,454.69 L309.85,454.61 L309.98,454.52 L310.10,454.41 L310.23,454.30 L310.36,454.18 L310.49,454.04 L310.62,453.90 L310.75,453.74 L310.87,453.57 L311.00,453.40 L311.13,453.21 L311.26,453.01 L311.39,452.80 L311.51,452.58 L311.64,452.35 L311.77,452.10 L311.90,451.85 L312.03,451.58 L312.16,451.30 L312.28,451.01 L312.41,450.71 L312.54,450.39 L312.67,450.06 L312.80,449.72 L312.92,449.36 L313.05,448.99 L313.18,448.61 L313.31,448.21 L313.44,447.80 L313.56,447.37 L313.69,446.93 L313.82,446.47 L313.95,446.00 L314.08,445.51 L314.21,445.00 L314.33,444.48 L314.46,443.94 L314.59,443.38 L314.72,442.80 L314.85,442.20 L314.97,441.58 L315.10,440.94 L315.23,440.28 L315.36,439.60 L315.49,438.90 L315.62,438.18 L315.74,437.43 L315.87,436.66 L316.00,435.86 L316.13,435.04 L316.26,434.19 L316.38,433.32 L316.51,432.42 L316.64,431.49 L316.77,430.53 L316.90,429.54 L317.03,428.52 L317.15,427.47 L317.28,426.39 L317.41,425.28 L317.54,424.13 L317.67,422.94 L317.79,421.72 L317.92,420.46 L318.05,419.17 L318.18,417.83 L318.31,416.46 L318.44,415.04 L318.56,413.58 L318.69,412.07 L318.82,410.52 L318.95,408.93 L319.08,407.28 L319.20,405.59 L319.33,403.84 L319.46,402.05 L319.59,400.20 L319.72,398.29 L319.85,396.33 L319.97,394.31 L320.10,392.23 L320.23,390.09 L320.36,387.89 L320.49,385.63 L320.61,383.29 L320.74,380.89 L320.87,378.42 L321.00,375.88 L321.13,373.26 L321.25,370.57 L321.38,367.81 L321.51,364.96 L321.64,362.03 L321.77,359.02 L321.90,355.93 L322.02,352.74 L322.15,349.47 L322.28,346.11 L322.41,342.66 L322.54,339.11 L322.66,335.46 L322.79,331.72 L322.92,327.87 L323.05,323.92 L323.18,319.87 L323.31,315.71 L323.43,311.44 L323.56,307.06 L323.69,302.57 L323.82,297.97 L323.95,293.25 L324.07,288.42 L324.20,283.46 L324.33,278.39 L324.46,273.20 L324.59,267.89 L324.72,262.46 L324.84,256.91 L324.97,251.23 L325.10,245.44 L325.23,239.52 L325.36,233.49 L325.48,227.34 L325.61,221.08 L325.74,214.70 L325.87,208.21 L326.00,201.62 L326.13,194.93 L326.25,188.15 L326.38,181.27 L326.51,174.31 L326.64,167.29 L326.77,160.19 L326.89,153.05 L327.02,145.86 L327.15,138.65 L327.28,131.43 L327.41,124.21 L327.54,117.01 L327.66,109.87 L327.79,102.79 L327.92,95.80 L328.05,88.93 L328.18,82.22 L328.30,75.68 L328.43,69.37 L328.56,63.31 L328.69,57.54 L328.82,52.12 L328.94,47.07 L329.07,42.46 L329.20,38.32 L329.33,34.71 L329.46,31.68 L329.59,29.28 L329.71,27.55 L329.84,26.57 L329.97,26.35 L330.10,26.96 L330.23,28.43 L330.35,30.80 L330.48,34.09 L330.61,38.31 L330.74,43.49 L330.87,49.61 L331.00,56.66 L331.12,64.62 L331.25,73.45 L331.38,83.10 L331.51,93.50 L331.64,104.59 L331.76,116.28 L331.89,128.48 L332.02,141.09 L332.15,154.03 L332.28,167.19 L332.41,180.46 L332.53,193.76 L332.66,206.99 L332.79,220.07 L332.92,232.92 L333.05,245.48 L333.17,257.68 L333.30,269.48 L333.43,280.85 L333.56,291.74 L333.69,302.14 L333.82,312.05 L333.94,321.44 L334.07,330.33 L334.20,338.71 L334.33,346.61 L334.46,354.02 L334.58,360.97 L334.71,367.48 L334.84,373.57 L334.97,379.26 L335.10,384.56 L335.23,389.50 L335.35,394.11 L335.48,398.40 L335.61,402.39 L335.74,406.11 L335.87,409.56 L335.99,412.78 L336.12,415.77 L336.25,418.55 L336.38,421.14 L336.51,423.55 L336.63,425.79 L336.76,427.88 L336.89,429.82 L337.02,431.63 L337.15,433.32 L337.28,434.89 L337.40,436.36 L337.53,437.72 L337.66,439.00 L337.79,440.19 L337.92,441.30 L338.04,442.34 L338.17,443.31 L338.30,444.21 L338.43,445.06 L338.56,445.85 L338.69,446.59 L338.81,447.28 L338.94,447.92 L339.07,448.52 L339.20,449.08 L339.33,449.61 L339.45,450.10 L339.58,450.55 L339.71,450.98 L339.84,451.38 L339.97,451.74 L340.10,452.09 L340.22,452.40 L340.35,452.70 L340.48,452.97 L340.61,453.22 L340.74,453.45 L340.86,453.66 L340.99,453.85 L341.12,454.02 L341.25,454.18 L341.38,454.32 L341.51,454.45 L341.63,454.56 L341.76,454.65 L341.89,454.74 L342.02,454.80 L342.15,454.86 L342.27,454.90 L342.40,454.93 L342.53,454.95 L342.66,454.95 L342.79,454.95 L342.92,454.93 L343.04,454.90 L343.17,454.86 L343.30,454.81 L343.43,454.75 L343.56,454.68 L343.68,454.59 L343.81,454.50 L343.94,454.40 L344.07,454.28 L344.20,454.15 L344.32,454.02 L344.45,453.87 L344.58,453.71 L344.71,453.55 L344.84,453.37 L344.97,453.18 L345.09,452.98 L345.22,452.77 L345.35,452.54 L345.48,452.31 L345.61,452.06 L345.73,451.81 L345.86,451.54 L345.99,451.26 L346.12,450.96 L346.25,450.66 L346.38,450.34 L346.50,450.01 L346.63,449.66 L346.76,449.31 L346.89,448.93 L347.02,448.55 L347.14,448.15 L347.27,447.73 L347.40,447.31 L347.53,446.86 L347.66,446.40 L347.79,445.92 L347.91,445.43 L348.04,444.92 L348.17,444.39 L348.30,443.85 L348.43,443.28 L348.55,442.70 L348.68,442.10 L348.81,441.48 L348.94,440.84 L349.07,440.18 L349.20,439.49 L349.32,438.79 L349.45,438.06 L349.58,437.31 L349.71,436.53 L349.84,435.73 L349.96,434.91 L350.09,434.05 L350.22,433.18 L350.35,432.27 L350.48,431.34 L350.61,430.38 L350.73,429.38 L350.86,428.36 L350.99,427.30 L351.12,426.22 L351.25,425.10 L351.37,423.94 L351.50,422.75 L351.63,421.52 L351.76,420.26 L351.89,418.96 L352.01,417.62 L352.14,416.23 L352.27,414.81 L352.40,413.34 L352.53,411.83 L352.66,410.27 L352.78,408.67 L352.91,407.01 L353.04,405.31 L353.17,403.56 L353.30,401.76 L353.42,399.90 L353.55,397.98 L353.68,396.01 L353.81,393.99 L353.94,391.90 L354.07,389.75 L354.19,387.54 L354.32,385.26 L354.45,382.91 L354.58,380.50 L354.71,378.02 L354.83,375.47 L354.96,372.84 L355.09,370.14 L355.22,367.36 L355.35,364.50 L355.48,361.56 L355.60,358.53 L355.73,355.43 L355.86,352.23 L355.99,348.94 L356.12,345.57 L356.24,342.10 L356.37,338.53 L356.50,334.87 L356.63,331.11 L356.76,327.25 L356.89,323.29 L357.01,319.22 L357.14,315.04 L357.27,310.75 L357.40,306.36 L357.53,301.85 L357.65,297.23 L357.78,292.49 L357.91,287.64 L358.04,282.66 L358.17,277.57 L358.30,272.36 L358.42,267.03 L358.55,261.58 L358.68,256.01 L358.81,250.32 L358.94,244.50 L359.06,238.57 L359.19,232.52 L359.32,226.35 L359.45,220.07 L359.58,213.68 L359.70,207.17 L359.83,200.57 L359.96,193.86 L360.09,187.06 L360.22,180.17 L360.35,173.20 L360.47,166.16 L360.60,159.06 L360.73,151.91 L360.86,144.71 L360.99,137.50 L361.11,130.28 L361.24,123.06 L361.37,115.87 L361.50,108.73 L361.63,101.67 L361.76,94.70 L361.88,87.85 L362.01,81.16 L362.14,74.66 L362.27,68.39 L362.40,62.37 L362.52,56.66 L362.65,51.29 L362.78,46.31 L362.91,41.76 L363.04,37.71 L363.17,34.19 L363.29,31.25 L363.42,28.95 L363.55,27.35 L363.68,26.48 L363.81,26.39 L363.93,27.14 L364.06,28.75 L364.19,31.26 L364.32,34.70 L364.45,39.07 L364.58,44.40 L364.70,50.67 L364.83,57.87 L364.96,65.97 L365.09,74.93 L365.22,84.70 L365.34,95.22 L365.47,106.41 L365.60,118.19 L365.73,130.46 L365.86,143.14 L365.99,156.11 L366.11,169.30 L366.24,182.58 L366.37,195.87 L366.50,209.08 L366.63,222.13 L366.75,234.94 L366.88,247.44 L367.01,259.59 L367.14,271.32 L367.27,282.61 L367.39,293.43 L367.52,303.75 L367.65,313.58 L367.78,322.89 L367.91,331.70 L368.04,340.00 L368.16,347.82 L368.29,355.16 L368.42,362.04 L368.55,368.48 L368.68,374.50 L368.80,380.13 L368.93,385.37 L369.06,390.26 L369.19,394.81 L369.32,399.05 L369.45,403.00 L369.57,406.67 L369.70,410.09 L369.83,413.27 L369.96,416.23 L370.09,418.98 L370.21,421.53 L370.34,423.92 L370.47,426.13 L370.60,428.20 L370.73,430.12 L370.86,431.91 L370.98,433.58 L371.11,435.13 L371.24,436.58 L371.37,437.93 L371.50,439.19 L371.62,440.37 L371.75,441.47 L371.88,442.50 L372.01,443.46 L372.14,444.35 L372.27,445.19 L372.39,445.97 L372.52,446.70 L372.65,447.38 L372.78,448.02 L372.91,448.61 L373.03,449.17 L373.16,449.69 L373.29,450.17 L373.42,450.62 L373.55,451.04 L373.68,451.44 L373.80,451.80 L373.93,452.14 L374.06,452.45 L374.19,452.74 L374.32,453.01 L374.44,453.25 L374.57,453.48 L374.70,453.69 L374.83,453.88 L374.96,454.05 L375.08,454.20 L375.21,454.34 L375.34,454.47 L375.47,454.57 L375.60,454.67 L375.73,454.75 L375.85,454.81 L375.98,454.87 L376.11,454.91 L376.24,454.93 L376.37,454.95 L376.49,454.95 L376.62,454.95 L376.75,454.93 L376.88,454.90 L377.01,454.85 L377.14,454.80 L377.26,454.74 L377.39,454.66 L377.52,454.58 L377.65,454.48 L377.78,454.38 L377.90,454.26 L378.03,454.13 L378.16,454.00 L378.29,453.85 L378.42,453.69 L378.55,453.52 L378.67,453.34 L378.80,453.15 L378.93,452.94 L379.06,452.73 L379.19,452.51 L379.31,452.27 L379.44,452.02 L379.57,451.76 L379.70,451.49 L379.83,451.21 L379.96,450.91 L380.08,450.61 L380.21,450.29 L380.34,449.95 L380.47,449.61 L380.60,449.25 L380.72,448.87 L380.85,448.49 L380.98,448.08 L381.11,447.67 L381.24,447.24 L381.37,446.79 L381.49,446.33 L381.62,445.85 L381.75,445.35 L381.88,444.84 L382.01,444.31 L382.13,443.76 L382.26,443.19 L382.39,442.61 L382.52,442.00 L382.65,441.38 L382.78,440.73 L382.90,440.07 L383.03,439.38 L383.16,438.67 L383.29,437.94 L383.42,437.18 L383.54,436.41 L383.67,435.60 L383.80,434.77 L383.93,433.92 L384.06,433.03 L384.18,432.12 L384.31,431.19 L384.44,430.22 L384.57,429.22 L384.70,428.19 L384.83,427.13 L384.95,426.04 L385.08,424.92 L385.21,423.75 L385.34,422.56 L385.47,421.33 L385.59,420.06 L385.72,418.75 L385.85,417.40 L385.98,416.01 L386.11,414.58 L386.24,413.10 L386.36,411.58 L386.49,410.02 L386.62,408.41 L386.75,406.75 L386.88,405.04 L387.00,403.28 L387.13,401.46 L387.26,399.60 L387.39,397.67 L387.52,395.69 L387.65,393.66 L387.77,391.56 L387.90,389.40 L388.03,387.18 L388.16,384.89 L388.29,382.54 L388.41,380.11 L388.54,377.62 L388.67,375.05 L388.80,372.41 L388.93,369.70 L389.06,366.91 L389.18,364.04 L389.31,361.08 L389.44,358.04 L389.57,354.92 L389.70,351.71 L389.82,348.41 L389.95,345.02 L390.08,341.54 L390.21,337.96 L390.34,334.28 L390.47,330.50 L390.59,326.63 L390.72,322.64 L390.85,318.56 L390.98,314.36 L391.11,310.06 L391.23,305.65 L391.36,301.12 L391.49,296.48 L391.62,291.72 L391.75,286.85 L391.87,281.86 L392.00,276.75 L392.13,271.52 L392.26,266.17 L392.39,260.70 L392.52,255.11 L392.64,249.40 L392.77,243.57 L392.90,237.62 L393.03,231.55 L393.16,225.36 L393.28,219.06 L393.41,212.65 L393.54,206.13 L393.67,199.50 L393.80,192.78 L393.93,185.97 L394.05,179.06 L394.18,172.08 L394.31,165.03 L394.44,157.92 L394.57,150.76 L394.69,143.57 L394.82,136.35 L394.95,129.13 L395.08,121.91 L395.21,114.73 L395.34,107.60 L395.46,100.55 L395.59,93.60 L395.72,86.78 L395.85,80.11 L395.98,73.65 L396.10,67.41 L396.23,61.44 L396.36,55.78 L396.49,50.47 L396.62,45.55 L396.75,41.08 L396.87,37.11 L397.00,33.68 L397.13,30.84 L397.26,28.65 L397.39,27.16 L397.51,26.41 L397.64,26.46 L397.77,27.34 L397.90,29.09 L398.03,31.75 L398.16,35.33 L398.28,39.86 L398.41,45.34 L398.54,51.76 L398.67,59.10 L398.80,67.34 L398.92,76.44 L399.05,86.33 L399.18,96.96 L399.31,108.25 L399.44,120.11 L399.56,132.45 L399.69,145.18 L399.82,158.20 L399.95,171.41 L400.08,184.70 L400.21,197.98 L400.33,211.18 L400.46,224.19 L400.59,236.95 L400.72,249.40 L400.85,261.48 L400.97,273.15 L401.10,284.37 L401.23,295.11 L401.36,305.35 L401.49,315.09 L401.62,324.33 L401.74,333.05 L401.87,341.28 L402.00,349.02 L402.13,356.28 L402.26,363.09 L402.38,369.47 L402.51,375.42 L402.64,380.99 L402.77,386.17 L402.90,391.01 L403.03,395.51 L403.15,399.70 L403.28,403.60 L403.41,407.23 L403.54,410.61 L403.67,413.75 L403.79,416.68 L403.92,419.40 L404.05,421.93 L404.18,424.28 L404.31,426.47 L404.44,428.51 L404.56,430.41 L404.69,432.18 L404.82,433.83 L404.95,435.37 L405.08,436.80 L405.20,438.14 L405.33,439.39 L405.46,440.55 L405.59,441.64 L405.72,442.65 L405.85,443.60 L405.97,444.49 L406.10,445.32 L406.23,446.09 L406.36,446.81 L406.49,447.49 L406.61,448.12 L406.74,448.71 L406.87,449.26 L407.00,449.77 L407.13,450.25 L407.25,450.69 L407.38,451.11 L407.51,451.50 L407.64,451.86 L407.77,452.19 L407.90,452.50 L408.02,452.78 L408.15,453.05 L408.28,453.29 L408.41,453.52 L408.54,453.72 L408.66,453.91 L408.79,454.07 L408.92,454.23 L409.05,454.36 L409.18,454.48 L409.31,454.59 L409.43,454.68 L409.56,454.76 L409.69,454.82 L409.82,454.87 L409.95,454.91 L410.07,454.94 L410.20,454.95 L410.33,454.95 L410.46,454.94 L410.59,454.92 L410.72,454.89 L410.84,454.85 L410.97,454.79 L411.10,454.73 L411.23,454.65 L411.36,454.56 L411.48,454.47 L411.61,454.36 L411.74,454.24 L411.87,454.11 L412.00,453.97 L412.13,453.82 L412.25,453.66 L412.38,453.49 L412.51,453.31 L412.64,453.11 L412.77,452.91 L412.89,452.70 L413.02,452.47 L413.15,452.23 L413.28,451.98 L413.41,451.72 L413.54,451.45 L413.66,451.16 L413.79,450.87 L413.92,450.56 L414.05,450.23 L414.18,449.90 L414.30,449.55 L414.43,449.19 L414.56,448.81 L414.69,448.42 L414.82,448.02 L414.94,447.60 L415.07,447.17 L415.20,446.72 L415.33,446.25 L415.46,445.77 L415.59,445.27 L415.71,444.75 L415.84,444.22 L415.97,443.67 L416.10,443.10 L416.23,442.51 L416.35,441.91 L416.48,441.28 L416.61,440.63 L416.74,439.96 L416.87,439.27 L417.00,438.56 L417.12,437.82 L417.25,437.06 L417.38,436.28 L417.51,435.47 L417.64,434.64 L417.76,433.78 L417.89,432.89 L418.02,431.98 L418.15,431.03 L418.28,430.06 L418.41,429.06 L418.53,428.03 L418.66,426.96 L418.79,425.86 L418.92,424.73 L419.05,423.57 L419.17,422.36 L419.30,421.13 L419.43,419.85 L419.56,418.53 L419.69,417.18 L419.82,415.78 L419.94,414.35 L420.07,412.86 L420.20,411.34 L420.33,409.77 L420.46,408.15 L420.58,406.48 L420.71,404.76 L420.84,402.99 L420.97,401.17 L421.10,399.29 L421.23,397.36 L421.35,395.37 L421.48,393.33 L421.61,391.22 L421.74,389.05 L421.87,386.82 L421.99,384.52 L422.12,382.15 L422.25,379.72 L422.38,377.22 L422.51,374.64 L422.63,371.99 L422.76,369.26 L422.89,366.46 L423.02,363.57 L423.15,360.60 L423.28,357.55 L423.40,354.42 L423.53,351.19 L423.66,347.88 L423.79,344.47 L423.92,340.97 L424.04,337.38 L424.17,333.69 L424.30,329.89 L424.43,326.00 L424.56,322.00 L424.69,317.90 L424.81,313.69 L424.94,309.37 L425.07,304.93 L425.20,300.39 L425.33,295.73 L425.45,290.96 L425.58,286.07 L425.71,281.06 L425.84,275.93 L425.97,270.68 L426.10,265.31 L426.22,259.82 L426.35,254.21 L426.48,248.48 L426.61,242.63 L426.74,236.66 L426.86,230.57 L426.99,224.36 L427.12,218.05 L427.25,211.62 L427.38,205.08 L427.51,198.44 L427.63,191.70 L427.76,184.87 L427.89,177.96 L428.02,170.97 L428.15,163.90 L428.27,156.79 L428.40,149.62 L428.53,142.42 L428.66,135.20 L428.79,127.98 L428.92,120.77 L429.04,113.59 L429.17,106.47 L429.30,99.43 L429.43,92.50 L429.56,85.70 L429.68,79.07 L429.81,72.64 L429.94,66.44 L430.07,60.52 L430.20,54.91 L430.32,49.66 L430.45,44.81 L430.58,40.42 L430.71,36.53 L430.84,33.19 L430.97,30.45 L431.09,28.37 L431.22,26.99 L431.35,26.36 L431.48,26.54 L431.61,27.56 L431.73,29.45 L431.86,32.25 L431.99,35.99 L432.12,40.67 L432.25,46.30 L432.38,52.86 L432.50,60.35 L432.63,68.73 L432.76,77.96 L432.89,87.97 L433.02,98.71 L433.14,110.10 L433.27,122.04 L433.40,134.46 L433.53,147.24 L433.66,160.29 L433.79,173.52 L433.91,186.82 L434.04,200.09 L434.17,213.26 L434.30,226.24 L434.43,238.96 L434.55,251.35 L434.68,263.37 L434.81,274.97 L434.94,286.11 L435.07,296.77 L435.20,306.94 L435.32,316.60 L435.45,325.75 L435.58,334.39 L435.71,342.54 L435.84,350.21 L435.96,357.40 L436.09,364.14 L436.22,370.44 L436.35,376.34 L436.48,381.84 L436.61,386.96 L436.73,391.75 L436.86,396.20 L436.99,400.34 L437.12,404.20 L437.25,407.79 L437.37,411.13 L437.50,414.23 L437.63,417.12 L437.76,419.81 L437.89,422.31 L438.01,424.64 L438.14,426.81 L438.27,428.82 L438.40,430.70 L438.53,432.45 L438.66,434.08 L438.78,435.60 L438.91,437.02 L439.04,438.34 L439.17,439.58 L439.30,440.73 L439.42,441.81 L439.55,442.81 L439.68,443.75 L439.81,444.62 L439.94,445.44 L440.07,446.21 L440.19,446.92 L440.32,447.59 L440.45,448.21 L440.58,448.80 L440.71,449.34 L440.83,449.85 L440.96,450.32 L441.09,450.76 L441.22,451.17 L441.35,451.55 L441.48,451.91 L441.60,452.24 L441.73,452.55 L441.86,452.83 L441.99,453.09 L442.12,453.33 L442.24,453.55 L442.37,453.75 L442.50,453.93 L442.63,454.10 L442.76,454.25 L442.89,454.38 L443.01,454.50 L443.14,454.61 L443.27,454.69 L443.40,454.77 L443.53,454.83 L443.65,454.88 L443.78,454.92 L443.91,454.94 L444.04,454.95 L444.17,454.95 L444.30,454.94 L444.42,454.92 L444.55,454.88 L444.68,454.84 L444.81,454.78 L444.94,454.72 L445.06,454.64 L445.19,454.55 L445.32,454.45 L445.45,454.34 L445.58,454.22 L445.70,454.09 L445.83,453.95 L445.96,453.80 L446.09,453.64 L446.22,453.46 L446.35,453.28 L446.47,453.08 L446.60,452.88 L446.73,452.66 L446.86,452.43 L446.99,452.19 L447.11,451.94 L447.24,451.68 L447.37,451.40 L447.50,451.12 L447.63,450.82 L447.76,450.51 L447.88,450.18 L448.01,449.85 L448.14,449.49 L448.27,449.13 L448.40,448.75 L448.52,448.36 L448.65,447.95 L448.78,447.53 L448.91,447.10 L449.04,446.64 L449.17,446.17 L449.29,445.69 L449.42,445.19 L449.55,444.67 L449.68,444.14 L449.81,443.58 L449.93,443.01 L450.06,442.42 L450.19,441.81 L450.32,441.18 L450.45,440.52 L450.58,439.85 L450.70,439.16 L450.83,438.44 L450.96,437.70 L451.09,436.94 L451.22,436.15 L451.34,435.34 L451.47,434.50 L451.60,433.64 L451.73,432.75 L451.86,431.83 L451.99,430.88 L452.11,429.90 L452.24,428.90 L452.37,427.86 L452.50,426.79 L452.63,425.69 L452.75,424.55 L452.88,423.38 L453.01,422.17 L453.14,420.93 L453.27,419.64 L453.39,418.32 L453.52,416.96 L453.65,415.56 L453.78,414.11 L453.91,412.62 L454.04,411.09 L454.16,409.51 L454.29,407.88 L454.42,406.21 L454.55,404.48 L454.68,402.71 L454.80,400.88 L454.93,398.99 L455.06,397.05 L455.19,395.05 L455.32,393.00 L455.45,390.88 L455.57,388.70 L455.70,386.46 L455.83,384.15 L455.96,381.77 L456.09,379.33 L456.21,376.81 L456.34,374.22 L456.47,371.56 L456.60,368.82 L456.73,366.00 L456.86,363.10 L456.98,360.12 L457.11,357.06 L457.24,353.91 L457.37,350.67 L457.50,347.34 L457.62,343.92 L457.75,340.41 L457.88,336.80 L458.01,333.09 L458.14,329.28 L458.27,325.37 L458.39,321.35 L458.52,317.23 L458.65,313.01 L458.78,308.67 L458.91,304.22 L459.03,299.66 L459.16,294.98 L459.29,290.19 L459.42,285.28 L459.55,280.25 L459.68,275.10 L459.80,269.83 L459.93,264.45 L460.06,258.94 L460.19,253.31 L460.32,247.56 L460.44,241.69 L460.57,235.70 L460.70,229.59 L460.83,223.37 L460.96,217.03 L461.08,210.58 L461.21,204.03 L461.34,197.37 L461.47,190.62 L461.60,183.78 L461.73,176.85 L461.85,169.85 L461.98,162.77 L462.11,155.65 L462.24,148.47 L462.37,141.27 L462.49,134.05 L462.62,126.83 L462.75,119.62 L462.88,112.45 L463.01,105.35 L463.14,98.32 L463.26,91.41 L463.39,84.64 L463.52,78.03 L463.65,71.63 L463.78,65.48 L463.90,59.60 L464.03,54.05 L464.16,48.86 L464.29,44.08 L464.42,39.76 L464.55,35.96 L464.67,32.71 L464.80,30.07 L464.93,28.10 L465.06,26.84 L465.19,26.34 L465.31,26.64 L465.44,27.80 L465.57,29.84 L465.70,32.79 L465.83,36.67 L465.96,41.50 L466.08,47.28 L466.21,53.99 L466.34,61.63 L466.47,70.15 L466.60,79.50 L466.72,89.64 L466.85,100.49 L466.98,111.97 L467.11,123.99 L467.24,136.47 L467.37,149.30 L467.49,162.39 L467.62,175.63 L467.75,188.93 L467.88,202.20 L468.01,215.34 L468.13,228.28 L468.26,240.95 L468.39,253.29 L468.52,265.25 L468.65,276.77 L468.77,287.84 L468.90,298.42 L469.03,308.51 L469.16,318.09 L469.29,327.16 L469.42,335.72 L469.54,343.80 L469.67,351.38 L469.80,358.50 L469.93,365.17 L470.06,371.41 L470.18,377.24 L470.31,382.68 L470.44,387.75 L470.57,392.48 L470.70,396.88 L470.83,400.98 L470.95,404.79 L471.08,408.34 L471.21,411.64 L471.34,414.71 L471.47,417.56 L471.59,420.22 L471.72,422.69 L471.85,424.99 L471.98,427.14 L472.11,429.13 L472.24,430.99 L472.36,432.72 L472.49,434.33 L472.62,435.84 L472.75,437.24 L472.88,438.55 L473.00,439.77 L473.13,440.91 L473.26,441.97 L473.39,442.96 L473.52,443.89 L473.65,444.76 L473.77,445.57 L473.90,446.32 L474.03,447.03 L474.16,447.69 L474.29,448.31 L474.41,448.89 L474.54,449.42 L474.67,449.92 L474.80,450.39 L474.93,450.83 L475.06,451.24 L475.18,451.61 L475.31,451.96 L475.44,452.29 L475.57,452.59 L475.70,452.87 L475.82,453.13 L475.95,453.37 L476.08,453.58 L476.21,453.78 L476.34,453.96 L476.46,454.13 L476.59,454.27 L476.72,454.40 L476.85,454.52 L476.98,454.62 L477.11,454.71 L477.23,454.78 L477.36,454.84 L477.49,454.89 L477.62,454.92 L477.75,454.94 L477.87,454.95 L478.00,454.95 L478.13,454.94 L478.26,454.91 L478.39,454.88 L478.52,454.83 L478.64,454.77 L478.77,454.70 L478.90,454.62 L479.03,454.53 L479.16,454.43 L479.28,454.32 L479.41,454.20 L479.54,454.07 L479.67,453.93 L479.80,453.77 L479.93,453.61 L480.05,453.43 L480.18,453.25 L480.31,453.05 L480.44,452.84 L480.57,452.62 L480.69,452.39 L480.82,452.15 L480.95,451.90 L481.08,451.64 L481.21,451.36 L481.34,451.07 L481.46,450.77 L481.59,450.46 L481.72,450.13 L481.85,449.79 L481.98,449.44 L482.10,449.07 L482.23,448.69 L482.36,448.30 L482.49,447.89 L482.62,447.46 L482.75,447.02 L482.87,446.57 L483.00,446.10 L483.13,445.61 L483.26,445.11 L483.39,444.59 L483.51,444.05 L483.64,443.49 L483.77,442.92 L483.90,442.32 L484.03,441.71 L484.15,441.07 L484.28,440.42 L484.41,439.74 L484.54,439.05 L484.67,438.33 L484.80,437.58 L484.92,436.82 L485.05,436.02 L485.18,435.21 L485.31,434.37 L485.44,433.50 L485.56,432.60 L485.69,431.68 L485.82,430.73 L485.95,429.75 L486.08,428.73 L486.21,427.69 L486.33,426.62 L486.46,425.51 L486.59,424.37 L486.72,423.19 L486.85,421.97 L486.97,420.72 L487.10,419.44 L487.23,418.11 L487.36,416.74 L487.49,415.33 L487.62,413.88 L487.74,412.38 L487.87,410.84 L488.00,409.26 L488.13,407.62 L488.26,405.94 L488.38,404.20 L488.51,402.42 L488.64,400.58 L488.77,398.69 L488.90,396.74 L489.03,394.73 L489.15,392.66 L489.28,390.54 L489.41,388.35 L489.54,386.09 L489.67,383.77 L489.79,381.39 L489.92,378.93 L490.05,376.40 L490.18,373.80 L490.31,371.13 L490.44,368.38 L490.56,365.55 L490.69,362.64 L490.82,359.64 L490.95,356.56 L491.08,353.40 L491.20,350.15 L491.33,346.81 L491.46,343.37 L491.59,339.84 L491.72,336.21 L491.84,332.49 L491.97,328.66 L492.10,324.74 L492.23,320.71 L492.36,316.57 L492.49,312.32 L492.61,307.97 L492.74,303.50 L492.87,298.92 L493.00,294.22 L493.13,289.41 L493.25,284.48 L493.38,279.44 L493.51,274.27 L493.64,268.98 L493.77,263.58 L493.90,258.05 L494.02,252.40 L494.15,246.63 L494.28,240.74 L494.41,234.73 L494.54,228.61 L494.66,222.36 L494.79,216.01 L494.92,209.55 L495.05,202.98 L495.18,196.31 L495.31,189.54 L495.43,182.68 L495.56,175.74 L495.69,168.72 L495.82,161.64 L495.95,154.51 L496.07,147.33 L496.20,140.12 L496.33,132.90 L496.46,125.68 L496.59,118.48 L496.72,111.32 L496.84,104.22 L496.97,97.21 L497.10,90.32 L497.23,83.57 L497.36,77.00 L497.48,70.64 L497.61,64.52 L497.74,58.69 L497.87,53.19 L498.00,48.07 L498.12,43.36 L498.25,39.12 L498.38,35.40 L498.51,32.25 L498.64,29.71 L498.77,27.85 L498.89,26.71 L499.02,26.33 L499.15,26.77 L499.28,28.06 L499.41,30.24 L499.53,33.34 L499.66,37.38 L499.79,42.36 L499.92,48.29 L500.05,55.15 L500.18,62.93 L500.30,71.58 L500.43,81.07 L500.56,91.32 L500.69,102.27 L500.82,113.85 L500.94,125.95 L501.07,138.49 L501.20,151.37 L501.33,164.49 L501.46,177.75 L501.59,191.05 L501.71,204.30 L501.84,217.42 L501.97,230.32 L502.10,242.94 L502.23,255.22 L502.35,267.11 L502.48,278.57 L502.61,289.56 L502.74,300.06 L502.87,310.07 L503.00,319.57 L503.12,328.56 L503.25,337.04 L503.38,345.04 L503.51,352.55 L503.64,359.59 L503.76,366.19 L503.89,372.36 L504.02,378.13 L504.15,383.51 L504.28,388.52 L504.41,393.20 L504.53,397.55 L504.66,401.60 L504.79,405.37 L504.92,408.88 L505.05,412.14 L505.17,415.18 L505.30,418.00 L505.43,420.63 L505.56,423.07 L505.69,425.35 L505.81,427.46 L505.94,429.44 L506.07,431.27 L506.20,432.98 L506.33,434.58 L506.46,436.07 L506.58,437.45 L506.71,438.75 L506.84,439.95 L506.97,441.08 L507.10,442.13 L507.22,443.12 L507.35,444.03 L507.48,444.89 L507.61,445.69 L507.74,446.44 L507.87,447.14 L507.99,447.79 L508.12,448.40 L508.25,448.97 L508.38,449.51 L508.51,450.00 L508.63,450.46 L508.76,450.90 L508.89,451.30 L509.02,451.67 L509.15,452.02 L509.28,452.34 L509.40,452.64 L509.53,452.91 L509.66,453.17 L509.79,453.40 L509.92,453.62 L510.04,453.81 L510.17,453.99 L510.30,454.15 L510.43,454.29 L510.56,454.42 L510.69,454.54 L510.81,454.64 L510.94,454.72 L511.07,454.79 L511.20,454.85 L511.33,454.89 L511.45,454.93 L511.58,454.95 L511.71,454.95 L511.84,454.95 L511.97,454.94 L512.10,454.91 L512.22,454.87 L512.35,454.82 L512.48,454.76 L512.61,454.69 L512.74,454.61 L512.86,454.52 L512.99,454.42 L513.12,454.30 L513.25,454.18 L513.38,454.05 L513.50,453.90 L513.63,453.75 L513.76,453.58 L513.89,453.40 L514.02,453.22 L514.15,453.02 L514.27,452.81 L514.40,452.59 L514.53,452.36 L514.66,452.11 L514.79,451.86 L514.91,451.59 L515.04,451.31 L515.17,451.02 L515.30,450.72 L515.43,450.40 L515.56,450.08 L515.68,449.73 L515.81,449.38 L515.94,449.01 L516.07,448.63 L516.20,448.23 L516.32,447.82 L516.45,447.39 L516.58,446.95 L516.71,446.50 L516.84,446.02 L516.97,445.53 L517.09,445.03 L517.22,444.50 L517.35,443.96 L517.48,443.40 L517.61,442.82 L517.73,442.23 L517.86,441.61 L517.99,440.97 L518.12,440.31 L518.25,439.63 L518.38,438.93 L518.50,438.21 L518.63,437.46 L518.76,436.69 L518.89,435.90 L519.02,435.08 L519.14,434.23 L519.27,433.36 L519.40,432.46 L519.53,431.53 L519.66,430.57 L519.79,429.59 L519.91,428.57 L520.04,427.52 L520.17,426.44 L520.30,425.33 L520.43,424.18 L520.55,423.00 L520.68,421.78 L520.81,420.52 L520.94,419.23 L521.07,417.89 L521.19,416.52 L521.32,415.10 L521.45,413.64 L521.58,412.14 L521.71,410.59 L521.84,409.00 L521.96,407.36 L522.09,405.66 L522.22,403.92 L522.35,402.13 L522.48,400.28 L522.60,398.38 L522.73,396.42 L522.86,394.40 L522.99,392.33 L523.12,390.19 L523.25,387.99 L523.37,385.73 L523.50,383.40 L523.63,381.00 L523.76,378.53 L523.89,375.99 L524.01,373.38 L524.14,370.69 L524.27,367.93 L524.40,365.09 L524.53,362.16 L524.66,359.16 L524.78,356.07 L524.91,352.89 L525.04,349.62 L525.17,346.26 L525.30,342.81 L525.42,339.27 L525.55,335.63 L525.68,331.89 L525.81,328.05 L525.94,324.10 L526.07,320.05 L526.19,315.90 L526.32,311.64 L526.45,307.26 L526.58,302.78 L526.71,298.18 L526.83,293.47 L526.96,288.64 L527.09,283.69 L527.22,278.62 L527.35,273.44 L527.48,268.13 L527.60,262.71 L527.73,257.16 L527.86,251.49 L527.99,245.70 L528.12,239.79 L528.24,233.76 L528.37,227.62 L528.50,221.36 L528.63,214.99 L528.76,208.51 L528.88,201.92 L529.01,195.23 L529.14,188.45 L529.27,181.58 L529.40,174.63 L529.53,167.60 L529.65,160.51 L529.78,153.37 L529.91,146.18 L530.04,138.97 L530.17,131.75 L530.29,124.53 L530.42,117.33 L530.55,110.18 L530.68,103.10 L530.81,96.11 L530.94,89.24 L531.06,82.51 L531.19,75.97 L531.32,69.65 L531.45,63.57 L531.58,57.80 L531.70,52.35 L531.83,47.29 L531.96,42.65 L532.09,38.49 L532.22,34.86 L532.35,31.80 L532.47,29.37 L532.60,27.62 L532.73,26.59 L532.86,26.35 L532.99,26.92 L533.11,28.35 L533.24,30.67 L533.37,33.92 L533.50,38.10 L533.63,43.24 L533.76,49.32 L533.88,56.33 L534.01,64.25 L534.14,73.04 L534.27,82.65 L534.40,93.02 L534.52,104.08 L534.65,115.74 L534.78,127.92 L534.91,140.52 L535.04,153.45 L535.17,166.59 L535.29,179.87 L535.42,193.17 L535.55,206.40 L535.68,219.49 L535.81,232.35 L535.93,244.92 L536.06,257.14 L536.19,268.96 L536.32,280.35 L536.45,291.26 L536.58,301.69 L536.70,311.61 L536.83,321.03 L536.96,329.94 L537.09,338.35 L537.22,346.26 L537.34,353.70 L537.47,360.67 L537.60,367.20 L537.73,373.31 L537.86,379.01 L537.98,384.33 L538.11,389.29 L538.24,393.91 L538.37,398.21 L538.50,402.22 L538.63,405.95 L538.75,409.41 L538.88,412.64 L539.01,415.64 L539.14,418.43 L539.27,421.03 L539.39,423.44 L539.52,425.69 L539.65,427.79 L539.78,429.74 L539.91,431.55 L540.04,433.25 L540.16,434.82 L540.29,436.29 L540.42,437.66 L540.55,438.94 L540.68,440.14 L540.80,441.25 L540.93,442.29 L541.06,443.27 L541.19,444.17 L541.32,445.02 L541.45,445.81 L541.57,446.56 L541.70,447.25 L541.83,447.89 L541.96,448.50 L542.09,449.06 L542.21,449.59 L542.34,450.08 L542.47,450.53 L542.60,450.96 L542.73,451.36 L542.86,451.73 L542.98,452.07 L543.11,452.39 L543.24,452.68 L543.37,452.96 L543.50,453.21 L543.62,453.44 L543.75,453.65 L543.88,453.84 L544.01,454.02 L544.14,454.17 L544.26,454.32 L544.39,454.44 L544.52,454.55 L544.65,454.65 L544.78,454.73 L544.91,454.80 L545.03,454.86 L545.16,454.90 L545.29,454.93 L545.42,454.95 L545.55,454.95 L545.67,454.95 L545.80,454.93 L545.93,454.90 L546.06,454.86 L546.19,454.81 L546.32,454.75 L546.44,454.68 L546.57,454.60 L546.70,454.50 L546.83,454.40 L546.96,454.29 L547.08,454.16 L547.21,454.02 L547.34,453.88 L547.47,453.72 L547.60,453.55 L547.73,453.38 L547.85,453.19 L547.98,452.99 L548.11,452.78 L548.24,452.55 L548.37,452.32 L548.49,452.07 L548.62,451.82 L548.75,451.55 L548.88,451.27 L549.01,450.98 L549.14,450.67 L549.26,450.35 L549.39,450.02 L549.52,449.68 L549.65,449.32 L549.78,448.95 L549.90,448.57 L550.03,448.17 L550.16,447.75 L550.29,447.33 L550.42,446.88 L550.55,446.42 L550.67,445.95 L550.80,445.45 L550.93,444.94 L551.06,444.42 L551.19,443.87 L551.31,443.31 L551.44,442.73 L551.57,442.13 L551.70,441.51 L551.83,440.87 L551.96,440.21 L552.08,439.52 L552.21,438.82 L552.34,438.09 L552.47,437.34 L552.60,436.57 L552.72,435.77 L552.85,434.94 L552.98,434.09 L553.11,433.22 L553.24,432.31 L553.36,431.38 L553.49,430.42 L553.62,429.43 L553.75,428.41 L553.88,427.35 L554.01,426.27 L554.13,425.15 L554.26,423.99 L554.39,422.81 L554.52,421.58 L554.65,420.32 L554.77,419.02 L554.90,417.68 L555.03,416.30 L555.16,414.87 L555.29,413.41 L555.42,411.90 L555.54,410.34 L555.67,408.74 L555.80,407.09 L555.93,405.39 L556.06,403.64 L556.18,401.84 L556.31,399.98 L556.44,398.07 L556.57,396.10 L556.70,394.08 L556.83,391.99 L556.95,389.85 L557.08,387.64 L557.21,385.36 L557.34,383.02 L557.47,380.61 L557.59,378.13 L557.72,375.58 L557.85,372.96 L557.98,370.26 L558.11,367.48 L558.24,364.63 L558.36,361.69 L558.49,358.67 L558.62,355.57 L558.75,352.37 L558.88,349.09 L559.00,345.72 L559.13,342.26 L559.26,338.70 L559.39,335.04 L559.52,331.28 L559.64,327.43 L559.77,323.47 L559.90,319.40 L560.03,315.23 L560.16,310.95 L560.29,306.56 L560.41,302.05 L560.54,297.44 L560.67,292.70 L560.80,287.86 L560.93,282.89 L561.05,277.81 L561.18,272.60 L561.31,267.28 L561.44,261.83 L561.57,256.26 L561.70,250.58 L561.82,244.77 L561.95,238.84 L562.08,232.79 L562.21,226.63 L562.34,220.35 L562.46,213.96 L562.59,207.47 L562.72,200.86 L562.85,194.16 L562.98,187.36 L563.11,180.48 L563.23,173.51 L563.36,166.48 L563.49,159.38 L563.62,152.23 L563.75,145.04 L563.87,137.82 L564.00,130.60 L564.13,123.38 L564.26,116.19 L564.39,109.05 L564.52,101.98 L564.64,95.01 L564.77,88.16 L564.90,81.46 L565.03,74.95 L565.16,68.66 L565.28,62.63 L565.41,56.91 L565.54,51.52 L565.67,46.52 L565.80,41.96 L565.93,37.88 L566.05,34.33 L566.18,31.37 L566.31,29.04 L566.44,27.40 L566.57,26.50 L566.69,26.38 L566.82,27.09 L566.95,28.66 L567.08,31.13 L567.21,34.52 L567.34,38.86 L567.46,44.14 L567.59,50.37 L567.72,57.53 L567.85,65.59 L567.98,74.51 L568.10,84.25 L568.23,94.73 L568.36,105.90 L568.49,117.65 L568.62,129.90 L568.74,142.56 L568.87,155.53 L569.00,168.70 L569.13,181.98 L569.26,195.28 L569.39,208.50 L569.51,221.55 L569.64,234.37 L569.77,246.89 L569.90,259.05 L570.03,270.81 L570.15,282.12 L570.28,292.96 L570.41,303.30 L570.54,313.15 L570.67,322.48 L570.80,331.31 L570.92,339.64 L571.05,347.48 L571.18,354.84 L571.31,361.74 L571.44,368.20 L571.56,374.24 L571.69,379.88 L571.82,385.14 L571.95,390.05 L572.08,394.62 L572.21,398.87 L572.33,402.83 L572.46,406.52 L572.59,409.94 L572.72,413.13 L572.85,416.10 L572.97,418.86 L573.10,421.42 L573.23,423.81 L573.36,426.04 L573.49,428.11 L573.62,430.03 L573.74,431.83 L573.87,433.50 L574.00,435.06 L574.13,436.52 L574.26,437.87 L574.38,439.14 L574.51,440.32 L574.64,441.42 L574.77,442.45 L574.90,443.42 L575.02,444.31 L575.15,445.15 L575.28,445.94 L575.41,446.67 L575.54,447.35 L575.67,447.99 L575.79,448.59 L575.92,449.15 L576.05,449.67 L576.18,450.15 L576.31,450.60 L576.43,451.03 L576.56,451.42 L576.69,451.78 L576.82,452.12 L576.95,452.44 L577.08,452.73 L577.20,453.00 L577.33,453.24 L577.46,453.47 L577.59,453.68 L577.72,453.87 L577.84,454.04 L577.97,454.20 L578.10,454.34 L578.23,454.46 L578.36,454.57 L578.49,454.66 L578.61,454.74 L578.74,454.81 L578.87,454.86 L579.00,454.91 L579.13,454.93 L579.25,454.95 L579.38,454.95 L579.51,454.95 L579.64,454.93 L579.77,454.90 L579.90,454.86 L580.02,454.80 L580.15,454.74 L580.28,454.67 L580.41,454.58 L580.54,454.49 L580.66,454.38 L580.79,454.27 L580.92,454.14 L581.05,454.00 L581.18,453.85 L581.31,453.70 L581.43,453.53 L581.56,453.35 L581.69,453.16 L581.82,452.95 L581.95,452.74 L582.07,452.52 L582.20,452.28 L582.33,452.03 L582.46,451.78 L582.59,451.51 L582.72,451.22 L582.84,450.93 L582.97,450.62 L583.10,450.30 L583.23,449.97 L583.36,449.62 L583.48,449.26 L583.61,448.89 L583.74,448.50 L583.87,448.10 L584.00,447.69 L584.12,447.26 L584.25,446.81 L584.38,446.35 L584.51,445.87 L584.64,445.37 L584.77,444.86 L584.89,444.33 L585.02,443.78 L585.15,443.22 L585.28,442.63 L585.41,442.03 L585.53,441.41 L585.66,440.76 L585.79,440.10 L585.92,439.41 L586.05,438.70 L586.18,437.97 L586.30,437.22 L586.43,436.44 L586.56,435.64 L586.69,434.81 L586.82,433.96 L586.94,433.07 L587.07,432.17 L587.20,431.23 L587.33,430.26 L587.46,429.27 L587.59,428.24 L587.71,427.18 L587.84,426.09 L587.97,424.97 L588.10,423.81 L588.23,422.61 L588.35,421.38 L588.48,420.11 L588.61,418.81 L588.74,417.46 L588.87,416.07 L589.00,414.64 L589.12,413.17 L589.25,411.65 L589.38,410.09 L589.51,408.48 L589.64,406.82 L589.76,405.12 L589.89,403.36 L590.02,401.55 L590.15,399.68 L590.28,397.76 L590.40,395.78 L590.53,393.75 L590.66,391.65 L590.79,389.50 L590.92,387.28 L591.05,384.99 L591.17,382.64 L591.30,380.22 L591.43,377.73 L591.56,375.17 L591.69,372.53 L591.81,369.82 L591.94,367.03 L592.07,364.17 L592.20,361.22 L592.33,358.18 L592.46,355.06 L592.58,351.86 L592.71,348.56 L592.84,345.18 L592.97,341.70 L593.10,338.12 L593.22,334.45 L593.35,330.68 L593.48,326.80 L593.61,322.82 L593.74,318.74 L593.87,314.55 L593.99,310.26 L594.12,305.85 L594.25,301.33 L594.38,296.69 L594.51,291.94 L594.63,287.07 L594.76,282.09 L594.89,276.98 L595.02,271.76 L595.15,266.42 L595.28,260.95 L595.40,255.37 L595.53,249.66 L595.66,243.83 L595.79,237.89 L595.92,231.82 L596.04,225.64 L596.17,219.34 L596.30,212.94 L596.43,206.42 L596.56,199.80 L596.69,193.08 L596.81,186.27 L596.94,179.37 L597.07,172.40 L597.20,165.35 L597.33,158.24 L597.45,151.08 L597.58,143.89 L597.71,136.67 L597.84,129.45 L597.97,122.24 L598.10,115.05 L598.22,107.92 L598.35,100.86 L598.48,93.91 L598.61,87.08 L598.74,80.41 L598.86,73.93 L598.99,67.68 L599.12,61.70 L599.25,56.02 L599.38,50.70 L599.50,45.76 L599.63,41.27 L599.76,37.28 L599.89,33.82 L600.02,30.95 L600.15,28.73 L600.27,27.21 L600.40,26.43 L600.53,26.44 L600.66,27.28 L600.79,28.99 L600.91,31.61 L601.04,35.15 L601.17,39.64 L601.30,45.07 L601.43,51.45 L601.56,58.75 L601.68,66.95 L601.81,76.01 L601.94,85.87 L602.07,96.47 L602.20,107.73 L602.32,119.57 L602.45,131.89 L602.58,144.61 L602.71,157.61 L602.84,170.81 L602.97,184.10 L603.09,197.39 L603.22,210.59 L603.35,223.61 L603.48,236.39 L603.61,248.85 L603.73,260.95 L603.86,272.64 L603.99,283.87 L604.12,294.64 L604.25,304.90 L604.38,314.67 L604.50,323.92 L604.63,332.67 L604.76,340.92 L604.89,348.68 L605.02,355.97 L605.14,362.80 L605.27,369.19 L605.40,375.17 L605.53,380.74 L605.66,385.95 L605.78,390.80 L605.91,395.32 L606.04,399.52 L606.17,403.44 L606.30,407.08 L606.43,410.47 L606.55,413.62 L606.68,416.55 L606.81,419.28 L606.94,421.82 L607.07,424.18 L607.19,426.38 L607.32,428.42 L607.45,430.33 L607.58,432.10 L607.71,433.76 L607.84,435.30 L607.96,436.74 L608.09,438.08 L608.22,439.33 L608.35,440.50 L608.48,441.59 L608.60,442.61 L608.73,443.56 L608.86,444.45 L608.99,445.28 L609.12,446.06 L609.25,446.78 L609.37,447.46 L609.50,448.09 L609.63,448.68 L609.76,449.23 L609.89,449.75 L610.01,450.23 L610.14,450.67 L610.27,451.09 L610.40,451.48 L610.53,451.84 L610.66,452.17 L610.78,452.48 L610.91,452.77 L611.04,453.04 L611.17,453.28 L611.30,453.51 L611.42,453.71 L611.55,453.90 L611.68,454.07 L611.81,454.22 L611.94,454.36 L612.07,454.48 L612.19,454.59 L612.32,454.68 L612.45,454.76 L612.58,454.82 L612.71,454.87 L612.83,454.91 L612.96,454.94 L613.09,454.95 L613.22,454.95 L613.35,454.94 L613.48,454.92 L613.60,454.89 L613.73,454.85 L613.86,454.80 L613.99,454.73 L614.12,454.65 L614.24,454.57 L614.37,454.47 L614.50,454.36 L614.63,454.25 L614.76,454.12 L614.88,453.98 L615.01,453.83 L615.14,453.67 L615.27,453.50 L615.40,453.32 L615.53,453.12 L615.65,452.92 L615.78,452.71 L615.91,452.48 L616.04,452.24 L616.17,451.99 L616.29,451.73 L616.42,451.46 L616.55,451.18 L616.68,450.88 L616.81,450.57 L616.94,450.25 L617.06,449.91 L617.19,449.57 L617.32,449.21 L617.45,448.83 L617.58,448.44 L617.70,448.04 L617.83,447.62 L617.96,447.19 L618.09,446.74 L618.22,446.27 L618.35,445.79 L618.47,445.29 L618.60,444.78 L618.73,444.25 L618.86,443.70 L618.99,443.13 L619.11,442.54 L619.24,441.93 L619.37,441.31 L619.50,440.66 L619.63,439.99 L619.76,439.30 L619.88,438.59 L620.01,437.86 L620.14,437.10 L620.27,436.31 L620.40,435.51 L620.52,434.68 L620.65,433.82 L620.78,432.93 L620.91,432.02 L621.04,431.08 L621.16,430.11 L621.29,429.11 L621.42,428.07 L621.55,427.01 L621.68,425.91 L621.81,424.78 L621.93,423.62 L622.06,422.42 L622.19,421.18 L622.32,419.91 L622.45,418.59 L622.57,417.24 L622.70,415.85 L622.83,414.41 L622.96,412.93 L623.09,411.41 L623.22,409.84 L623.34,408.22 L623.47,406.55 L623.60,404.84 L623.73,403.07 L623.86,401.25 L623.98,399.38 L624.11,397.45 L624.24,395.46 L624.37,393.42 L624.50,391.32 L624.63,389.15 L624.75,386.92 L624.88,384.62 L625.01,382.26 L625.14,379.83 L625.27,377.33 L625.39,374.76 L625.52,372.11 L625.65,369.38 L625.78,366.58 L625.91,363.70 L626.04,360.74 L626.16,357.69 L626.29,354.56 L626.42,351.34 L626.55,348.03 L626.68,344.63 L626.80,341.13 L626.93,337.54 L627.06,333.85 L627.19,330.07 L627.32,326.18 L627.45,322.18 L627.57,318.08 L627.70,313.88 L627.83,309.56 L627.96,305.13 L628.09,300.60 L628.21,295.94 L628.34,291.17 L628.47,286.29 L628.60,281.28 L628.73,276.16 L628.86,270.92 L628.98,265.55 L629.11,260.07 L629.24,254.47 L629.37,248.74 L629.50,242.89 L629.62,236.93 L629.75,230.84 L629.88,224.64 L630.01,218.33 L630.14,211.91 L630.26,205.37 L630.39,198.74 L630.52,192.01 L630.65,185.18 L630.78,178.27 L630.91,171.28 L631.03,164.22 L631.16,157.11 L631.29,149.94 L631.42,142.74 L631.55,135.52 L631.67,128.30 L631.80,121.09 L631.93,113.91 L632.06,106.79 L632.19,99.75 L632.32,92.81 L632.44,86.00 L632.57,79.36 L632.70,72.92 L632.83,66.71 L632.96,60.78 L633.08,55.15 L633.21,49.88 L633.34,45.02 L633.47,40.60 L633.60,36.69 L633.73,33.32 L633.85,30.56 L633.98,28.44 L634.11,27.03 L634.24,26.38 L634.37,26.51 L634.49,27.49 L634.62,29.35 L634.75,32.11 L634.88,35.80 L635.01,40.44 L635.14,46.02 L635.26,52.55 L635.39,60.00 L635.52,68.34 L635.65,77.53 L635.78,87.51 L635.90,98.22 L636.03,109.58 L636.16,121.50 L636.29,133.89 L636.42,146.66 L636.54,159.71 L636.67,172.92 L636.80,186.22 L636.93,199.50 L637.06,212.67 L637.19,225.66 L637.31,238.40 L637.44,250.81 L637.57,262.84 L637.70,274.46 L637.83,285.62 L637.95,296.30 L638.08,306.49 L638.21,316.18 L638.34,325.35 L638.47,334.02 L638.60,342.19 L638.72,349.87 L638.85,357.09 L638.98,363.85 L639.11,370.17 L639.24,376.08 L639.36,381.60 L639.49,386.74 L639.62,391.54 L639.75,396.01 L639.88,400.16 L640.01,404.03 L640.13,407.63 L640.26,410.98 L640.39,414.10 L640.52,417.00 L640.65,419.69 L640.77,422.20 L640.90,424.54 L641.03,426.71 L641.16,428.74 L641.29,430.62 L641.42,432.38 L641.54,434.01 L641.67,435.54 L641.80,436.96 L641.93,438.29 L642.06,439.53 L642.18,440.68 L642.31,441.76 L642.44,442.77 L642.57,443.71 L642.70,444.59 L642.83,445.41 L642.95,446.17 L643.08,446.89 L643.21,447.56 L643.34,448.19 L643.47,448.77 L643.59,449.32 L643.72,449.83 L643.85,450.30 L643.98,450.74 L644.11,451.15 L644.24,451.54 L644.36,451.89 L644.49,452.23 L644.62,452.53 L644.75,452.82 L644.88,453.08 L645.00,453.32 L645.13,453.54 L645.26,453.74 L645.39,453.93 L645.52,454.09 L645.64,454.24 L645.77,454.38 L645.90,454.50 L646.03,454.60 L646.16,454.69 L646.29,454.77 L646.41,454.83 L646.54,454.88 L646.67,454.92 L646.80,454.94 L646.93,454.95 L647.05,454.95 L647.18,454.94 L647.31,454.92 L647.44,454.89 L647.57,454.84 L647.70,454.79 L647.82,454.72 L647.95,454.64 L648.08,454.55 L648.21,454.46 L648.34,454.35 L648.46,454.23 L648.59,454.10 L648.72,453.96 L648.85,453.80 L648.98,453.64 L649.11,453.47 L649.23,453.29 L649.36,453.09 L649.49,452.89 L649.62,452.67 L649.75,452.44 L649.87,452.20 L650.00,451.95 L650.13,451.69 L650.26,451.42 L650.39,451.13 L650.52,450.83 L650.64,450.52 L650.77,450.20 L650.90,449.86 L651.03,449.51 L651.16,449.15 L651.28,448.77 L651.41,448.38 L651.54,447.97 L651.67,447.55 L651.80,447.11 L651.93,446.66 L652.05,446.20 L652.18,445.71 L652.31,445.21 L652.44,444.69 L652.57,444.16 L652.69,443.61 L652.82,443.04 L652.95,442.44 L653.08,441.83 L653.21,441.20 L653.33,440.55 L653.46,439.88 L653.59,439.19 L653.72,438.47 L653.85,437.74 L653.98,436.97 L654.10,436.19 L654.23,435.38 L654.36,434.54 L654.49,433.68 L654.62,432.79 L654.74,431.87 L654.87,430.92 L655.00,429.95 L655.13,428.94 L655.26,427.91 L655.39,426.84 L655.51,425.74 L655.64,424.60 L655.77,423.43 L655.90,422.22 L656.03,420.98 L656.15,419.70 L656.28,418.38 L656.41,417.02 L656.54,415.62 L656.67,414.18 L656.80,412.69 L656.92,411.16 L657.05,409.58 L657.18,407.96 L657.31,406.28 L657.44,404.56 L657.56,402.79 L657.69,400.96 L657.82,399.08 L657.95,397.14 L658.08,395.14 L658.21,393.09 L658.33,390.97 L658.46,388.80 L658.59,386.56 L658.72,384.25 L658.85,381.88 L658.97,379.44 L659.10,376.92 L659.23,374.34 L659.36,371.68 L659.49,368.94 L659.62,366.13 L659.74,363.24 L659.87,360.26 L660.00,357.20 L660.13,354.05 L660.26,350.82 L660.38,347.49 L660.51,344.08 L660.64,340.57 L660.77,336.96 L660.90,333.26 L661.02,329.45 L661.15,325.55 L661.28,321.54 L661.41,317.42 L661.54,313.20 L661.67,308.86 L661.79,304.42 L661.92,299.86 L662.05,295.19 L662.18,290.40 L662.31,285.50 L662.43,280.48 L662.56,275.33 L662.69,270.07 L662.82,264.69 L662.95,259.19 L663.08,253.56 L663.20,247.82 L663.33,241.95 L663.46,235.97 L663.59,229.86 L663.72,223.65 L663.84,217.32 L663.97,210.87 L664.10,204.33 L664.23,197.67 L664.36,190.93 L664.49,184.09 L664.61,177.16 L664.74,170.16 L664.87,163.09 L665.00,155.97 L665.13,148.80 L665.25,141.59 L665.38,134.37 L665.51,127.15 L665.64,119.94 L665.77,112.77 L665.90,105.66 L666.02,98.64 L666.15,91.72 L666.28,84.94 L666.41,78.32 L666.54,71.92 L666.66,65.75 L666.79,59.86 L666.92,54.29 L667.05,49.08 L667.18,44.28 L667.31,39.95 L667.43,36.11 L667.56,32.84 L667.69,30.18 L667.82,28.17 L667.95,26.88 L668.07,26.34 L668.20,26.61 L668.33,27.73 L668.46,29.73 L668.59,32.63 L668.71,36.48 L668.84,41.26 L668.97,47.00 L669.10,53.67 L669.23,61.27 L669.36,69.75 L669.48,79.07 L669.61,89.17 L669.74,99.99 L669.87,111.44 L670.00,123.44 L670.12,135.90 L670.25,148.72 L670.38,161.80 L670.51,175.04 L670.64,188.34 L670.77,201.61 L670.89,214.76 L671.02,227.71 L671.15,240.39 L671.28,252.75 L671.41,264.72 L671.53,276.27 L671.66,287.35 L671.79,297.96 L671.92,308.07 L672.05,317.67 L672.18,326.76 L672.30,335.35 L672.43,343.44 L672.56,351.05 L672.69,358.19 L672.82,364.88 L672.94,371.14 L673.07,376.98 L673.20,382.44 L673.33,387.53 L673.46,392.27 L673.59,396.69 L673.71,400.80 L673.84,404.62 L673.97,408.18 L674.10,411.49 L674.23,414.57 L674.35,417.44 L674.48,420.11 L674.61,422.59 L674.74,424.89 L674.87,427.04 L675.00,429.04 L675.12,430.91 L675.25,432.64 L675.38,434.26 L675.51,435.77 L675.64,437.18 L675.76,438.49 L675.89,439.71 L676.02,440.86 L676.15,441.92 L676.28,442.92 L676.40,443.85 L676.53,444.72 L676.66,445.53 L676.79,446.29 L676.92,447.00 L677.05,447.66 L677.17,448.28 L677.30,448.86 L677.43,449.40 L677.56,449.90 L677.69,450.37 L677.81,450.81 L677.94,451.22 L678.07,451.60 L678.20,451.95 L678.33,452.28 L678.46,452.58 L678.58,452.86 L678.71,453.12 L678.84,453.36 L678.97,453.57 L679.10,453.77 L679.22,453.95 L679.35,454.12 L679.48,454.27 L679.61,454.40 L679.74,454.51 L679.87,454.62 L679.99,454.70 L680.12,454.78 L680.25,454.84 L680.38,454.89 L680.51,454.92 L680.63,454.94 L680.76,454.95 L680.89,454.95 L681.02,454.94 L681.15,454.92 L681.28,454.88 L681.40,454.83 L681.53,454.78 L681.66,454.71 L681.79,454.63 L681.92,454.54 L682.04,454.44 L682.17,454.33 L682.30,454.21 L682.43,454.08 L682.56,453.93 L682.69,453.78 L682.81,453.62 L682.94,453.44 L683.07,453.26 L683.20,453.06 L683.33,452.85 L683.45,452.63 L683.58,452.41 L683.71,452.16 L683.84,451.91 L683.97,451.65 L684.09,451.37 L684.22,451.08 L684.35,450.78 L684.48,450.47 L684.61,450.14 L684.74,449.81 L684.86,449.45 L684.99,449.09 L685.12,448.71 L685.25,448.31 L685.38,447.91 L685.50,447.48 L685.63,447.04 L685.76,446.59 L685.89,446.12 L686.02,445.63 L686.15,445.13 L686.27,444.61 L686.40,444.07 L686.53,443.52 L686.66,442.94 L686.79,442.35 L686.91,441.74 L687.04,441.10 L687.17,440.45 L687.30,439.77 L687.43,439.08 L687.56,438.36 L687.68,437.62 L687.81,436.85 L687.94,436.06 L688.07,435.25 L688.20,434.41 L688.32,433.54 L688.45,432.64 L688.58,431.72 L688.71,430.77 L688.84,429.79 L688.97,428.78 L689.09,427.74 L689.22,426.66 L689.35,425.56 L689.48,424.42 L689.61,423.24 L689.73,422.03 L689.86,420.78 L689.99,419.49 L690.12,418.17 L690.25,416.80 L690.38,415.39 L690.50,413.94 L690.63,412.45 L690.76,410.91 L690.89,409.33 L691.02,407.69 L691.14,406.01 L691.27,404.28 L691.40,402.50 L691.53,400.66 L691.66,398.77 L691.78,396.82 L691.91,394.82 L692.04,392.76 L692.17,390.63 L692.30,388.45 L692.43,386.20 L692.55,383.88 L692.68,381.49 L692.81,379.04 L692.94,376.52 L693.07,373.92 L693.19,371.25 L693.32,368.50 L693.45,365.67 L693.58,362.77 L693.71,359.78 L693.84,356.70 L693.96,353.54 L694.09,350.30 L694.22,346.96 L694.35,343.53 L694.48,340.00 L694.60,336.38 L694.73,332.66 L694.86,328.84 L694.99,324.92 L695.12,320.89 L695.25,316.76 L695.37,312.51 L695.50,308.16 L695.63,303.70 L695.76,299.13 L695.89,294.44 L696.01,289.63 L696.14,284.71 L696.27,279.67 L696.40,274.50 L696.53,269.22 L696.66,263.82 L696.78,258.30 L696.91,252.66 L697.04,246.89 L697.17,241.01 L697.30,235.00 L697.42,228.88 L697.55,222.65 L697.68,216.30 L697.81,209.84 L697.94,203.27 L698.07,196.61 L698.19,189.84 L698.32,182.99 L698.45,176.05 L698.58,169.04 L698.71,161.96 L698.83,154.83 L698.96,147.65 L699.09,140.44 L699.22,133.22 L699.35,126.00 L699.47,118.80 L699.60,111.64 L699.73,104.54 L699.86,97.53 L699.99,90.63 L700.12,83.87 L700.24,77.29 L700.37,70.92 L700.50,64.79 L700.63,58.95 L700.76,53.43 L700.88,48.29 L701.01,43.56 L701.14,39.30 L701.27,35.55 L701.40,32.37 L701.53,29.81 L701.65,27.92 L701.78,26.74 L701.91,26.33 L702.04,26.73 L702.17,27.99 L702.29,30.13 L702.42,33.18 L702.55,37.17 L702.68,42.11 L702.81,48.00 L702.94,54.82 L703.06,62.56 L703.19,71.18 L703.32,80.62 L703.45,90.84 L703.58,101.77 L703.70,113.32 L703.83,125.40 L703.96,137.92 L704.09,150.79 L704.22,163.90 L704.35,177.15 L704.47,190.45 L704.60,203.71 L704.73,216.83 L704.86,229.75 L704.99,242.38 L705.11,254.68 L705.24,266.59 L705.37,278.06 L705.50,289.08 L705.63,299.60 L705.75,309.63 L705.88,319.15 L706.01,328.16 L706.14,336.67 L706.27,344.69 L706.40,352.22 L706.52,359.29 L706.65,365.91 L706.78,372.10 L706.91,377.88 L707.04,383.28 L707.16,388.31 L707.29,393.00 L707.42,397.36 L707.55,401.43 L707.68,405.21 L707.81,408.73 L707.93,412.00 L708.06,415.04 L708.19,417.88 L708.32,420.51 L708.45,422.96 L708.57,425.25 L708.70,427.37 L708.83,429.35 L708.96,431.19 L709.09,432.91 L709.22,434.51 L709.34,436.00 L709.47,437.39 L709.60,438.69 L709.73,439.90 L709.86,441.03 L709.98,442.09 L710.11,443.07 L710.24,443.99 L710.37,444.85 L710.50,445.66 L710.63,446.41 L710.75,447.11 L710.88,447.76 L711.01,448.38 L711.14,448.95 L711.27,449.48 L711.39,449.98 L711.52,450.44 L711.65,450.88 L711.78,451.28 L711.91,451.65 L712.04,452.00 L712.16,452.33 L712.29,452.62 L712.42,452.90 L712.55,453.16 L712.68,453.39 L712.80,453.61 L712.93,453.80 L713.06,453.98 L713.19,454.14 L713.32,454.29 L713.45,454.42 L713.57,454.53 L713.70,454.63 L713.83,454.72 L713.96,454.79 L714.09,454.85 L714.21,454.89 L714.34,454.92 L714.47,454.95 L714.60,454.95 L714.73,454.95 L714.85,454.94 L714.98,454.91 L715.11,454.87 L715.24,454.82 L715.37,454.77 L715.50,454.70 L715.62,454.62 L715.75,454.52 L715.88,454.42 L716.01,454.31 L716.14,454.19 L716.26,454.05 L716.39,453.91 L716.52,453.75 L716.65,453.59 L716.78,453.41 L716.91,453.23 L717.03,453.03 L717.16,452.82 L717.29,452.60 L717.42,452.37 L717.55,452.13 L717.67,451.87 L717.80,451.60 L717.93,451.33 L718.06,451.04 L718.19,450.73 L718.32,450.42 L718.44,450.09 L718.57,449.75 L718.70,449.40 L718.83,449.03 L718.96,448.65 L719.08,448.25 L719.21,447.84 L719.34,447.41 L719.47,446.97 L719.60,446.52 L719.73,446.04 L719.85,445.55 L719.98,445.05 L720.11,444.53 L720.24,443.99 L720.37,443.43 L720.49,442.85 L720.62,442.25 L720.75,441.64 L720.88,441.00 L721.01,440.34 L721.13,439.66 L721.26,438.96 L721.39,438.24 L721.52,437.50 L721.65,436.73 L721.78,435.93 L721.90,435.11 L722.03,434.27 L722.16,433.40 L722.29,432.50 L722.42,431.57 L722.54,430.62 L722.67,429.63 L722.80,428.62 L722.93,427.57 L723.06,426.49 L723.19,425.38 L723.31,424.23 L723.44,423.05 L723.57,421.83 L723.70,420.58 L723.83,419.29 L723.95,417.95 L724.08,416.58 L724.21,415.17 L724.34,413.71 L724.47,412.21 L724.60,410.66 L724.72,409.07 L724.85,407.43 L724.98,405.74 L725.11,404.00 L725.24,402.21 L725.36,400.36 L725.49,398.47 L725.62,396.51 L725.75,394.50 L725.88,392.42 L726.01,390.29 L726.13,388.09 L726.26,385.83 L726.39,383.50 L726.52,381.11 L726.65,378.64 L726.77,376.11 L726.90,373.50 L727.03,370.82 L727.16,368.06 L727.29,365.22 L727.42,362.30 L727.54,359.29 L727.67,356.21 L727.80,353.03 L727.93,349.77 L728.06,346.42 L728.18,342.97 L728.31,339.43 L728.44,335.79 L728.57,332.06 L728.70,328.22 L728.83,324.28 L728.95,320.24 L729.08,316.09 L729.21,311.83 L729.34,307.46 L729.47,302.98 L729.59,298.39 L729.72,293.68 L729.85,288.85 L729.98,283.91 L730.11,278.85 L730.23,273.67 L730.36,268.37 L730.49,262.95 L730.62,257.41 L730.75,251.75 L730.88,245.96 L731.00,240.06 L731.13,234.04 L731.26,227.90 L731.39,221.64 L731.52,215.28 L731.64,208.80 L731.77,202.22 L731.90,195.54 L732.03,188.76 L732.16,181.89 L732.29,174.94 L732.41,167.92 L732.54,160.83 L732.67,153.69 L732.80,146.51 L732.93,139.30 L733.05,132.07 L733.18,124.85 L733.31,117.66 L733.44,110.50 L733.57,103.42 L733.70,96.42 L733.82,89.54 L733.95,82.81 L734.08,76.26 L734.21,69.92 L734.34,63.84 L734.46,58.05 L734.59,52.59 L734.72,47.51 L734.85,42.85 L734.98,38.67 L735.11,35.01 L735.23,31.92 L735.36,29.46 L735.49,27.68 L735.62,26.62 L735.75,26.34 L735.87,26.87 L736.00,28.27 L736.13,30.55 L736.26,33.76 L736.39,37.90 L736.51,42.99 L736.64,49.02 L736.77,55.99 L736.90,63.87 L737.03,72.63 L737.16,82.20 L737.28,92.54 L737.41,103.57 L737.54,115.21 L737.67,127.37 L737.80,139.95 L737.92,152.86 L738.05,166.00 L738.18,179.27 L738.31,192.57 L738.44,205.81 L738.57,218.91 L738.69,231.78 L738.82,244.37 L738.95,256.60 L739.08,268.44 L739.21,279.85 L739.33,290.78 L739.46,301.23 L739.59,311.18 L739.72,320.62 L739.85,329.55 L739.98,337.98 L740.10,345.92 L740.23,353.38 L740.36,360.37 L740.49,366.92 L740.62,373.04 L740.74,378.76 L740.87,384.10 L741.00,389.08 L741.13,393.71 L741.26,398.03 L741.39,402.05 L741.51,405.79 L741.64,409.26 L741.77,412.50 L741.90,415.51 L742.03,418.31 L742.15,420.91 L742.28,423.34 L742.41,425.60 L742.54,427.70 L742.67,429.65 L742.80,431.47 L742.92,433.17 L743.05,434.75 L743.18,436.23 L743.31,437.61 L743.44,438.89 L743.56,440.09 L743.69,441.21 L743.82,442.25 L743.95,443.22 L744.08,444.13 L744.21,444.99 L744.33,445.78 L744.46,446.52 L744.59,447.22 L744.72,447.87 L744.85,448.47 L744.97,449.04 L745.10,449.56 L745.23,450.06 L745.36,450.52 L745.49,450.94 L745.61,451.34 L745.74,451.71 L745.87,452.06 L746.00,452.37 L746.13,452.67 L746.26,452.94 L746.38,453.20 L746.51,453.43 L746.64,453.64 L746.77,453.83 L746.90,454.01 L747.02,454.17 L747.15,454.31 L747.28,454.44 L747.41,454.55 L747.54,454.65 L747.67,454.73 L747.79,454.80 L747.92,454.85 L748.05,454.90 L748.18,454.93 L748.31,454.95 L748.43,454.95 L748.56,454.95 L748.69,454.93 L748.82,454.90 L748.95,454.87 L749.08,454.82 L749.20,454.76 L749.33,454.68 L749.46,454.60 L749.59,454.51 L749.72,454.40 L749.84,454.29 L749.97,454.17 L750.10,454.03 L750.23,453.89 L750.36,453.73 L750.49,453.56 L750.61,453.38 L750.74,453.20 L750.87,453.00 L751.00,452.78 L751.13,452.56 L751.25,452.33 L751.38,452.09 L751.51,451.83 L751.64,451.56 L751.77,451.28 L751.89,450.99 L752.02,450.69 L752.15,450.37 L752.28,450.04 L752.41,449.69 L752.54,449.34 L752.66,448.97 L752.79,448.58 L752.92,448.19 L753.05,447.77 L753.18,447.34 L753.30,446.90 L753.43,446.44 L753.56,445.97 L753.69,445.48 L753.82,444.97 L753.95,444.44 L754.07,443.90 L754.20,443.34 L754.33,442.76 L754.46,442.16 L754.59,441.54 L754.71,440.90 L754.84,440.24 L754.97,439.55 L755.10,438.85 L755.23,438.12 L755.36,437.38 L755.48,436.60 L755.61,435.80 L755.74,434.98 L755.87,434.13 L756.00,433.26 L756.12,432.35 L756.25,431.42 L756.38,430.46 L756.51,429.47 L756.64,428.45 L756.77,427.40 L756.89,426.32 L757.02,425.20 L757.15,424.05 L757.28,422.86 L757.41,421.64 L757.53,420.38 L757.66,419.08 L757.79,417.74 L757.92,416.36 L758.05,414.94 L758.18,413.47 L758.30,411.97 L758.43,410.41 L758.56,408.81 L758.69,407.16 L758.82,405.47 L758.94,403.72 L759.07,401.92 L759.20,400.07 L759.33,398.16 L759.46,396.19 L759.59,394.17 L759.71,392.09 L759.84,389.94 L759.97,387.74 L760.10,385.46 L760.23,383.13 L760.35,380.72 L760.48,378.25 L760.61,375.70 L760.74,373.08 L760.87,370.38 L760.99,367.61 L761.12,364.76 L761.25,361.82 L761.38,358.81 L761.51,355.71 L761.64,352.52 L761.76,349.24 L761.89,345.87 L762.02,342.41 L762.15,338.86 L762.28,335.20 L762.40,331.45 L762.53,327.60 L762.66,323.64 L762.79,319.58 L762.92,315.42 L763.05,311.14 L763.17,306.75 L763.30,302.26 L763.43,297.65 L763.56,292.92 L763.69,288.08 L763.81,283.11 L763.94,278.04 L764.07,272.84 L764.20,267.52 L764.33,262.08 L764.46,256.52 L764.58,250.83 L764.71,245.03 L764.84,239.11 L764.97,233.07 L765.10,226.91 L765.22,220.64 L765.35,214.25 L765.48,207.76 L765.61,201.16 L765.74,194.46 L765.87,187.67 L765.99,180.79 L766.12,173.83 L766.25,166.79 L766.38,159.70 L766.51,152.55 L766.63,145.36 L766.76,138.15 L766.89,130.92 L767.02,123.71 L767.15,116.51 L767.27,109.37 L767.40,102.29 L767.53,95.32 L767.66,88.46 L767.79,81.75 L767.92,75.24 L768.04,68.94 L768.17,62.90 L768.30,57.15 L768.43,51.75 L768.56,46.74 L768.68,42.15 L768.81,38.05 L768.94,34.48 L769.07,31.49 L769.20,29.13 L769.33,27.46 L769.45,26.52 L769.58,26.37 L769.71,27.04 L769.84,28.57 L769.97,31.00 L770.09,34.35 L770.22,38.64 L770.35,43.89 L770.48,50.07 L770.61,57.19 L770.74,65.21 L770.86,74.10 L770.99,83.80 L771.12,94.25 L771.25,105.38 L771.38,117.11 L771.50,129.34 L771.63,141.99 L771.76,154.94 L771.89,168.11 L772.02,181.39 L772.15,194.68 L772.27,207.91 L772.40,220.97 L772.53,233.81 L772.66,246.34 L772.79,258.52 L772.91,270.29 L773.04,281.62 L773.17,292.48 L773.30,302.85 L773.43,312.72 L773.56,322.08 L773.68,330.93 L773.81,339.28 L773.94,347.14 L774.07,354.52 L774.20,361.44 L774.32,367.92 L774.45,373.98 L774.58,379.64 L774.71,384.92 L774.84,389.84 L774.97,394.42 L775.09,398.69 L775.22,402.66 L775.35,406.36 L775.48,409.79 L775.61,412.99 L775.73,415.97 L775.86,418.74 L775.99,421.31 L776.12,423.71 L776.25,425.94 L776.37,428.02 L776.50,429.95 L776.63,431.75 L776.76,433.43 L776.89,435.00 L777.02,436.46 L777.14,437.82 L777.27,439.09 L777.40,440.27 L777.53,441.38 L777.66,442.41 L777.78,443.37 L777.91,444.27 L778.04,445.12 L778.17,445.90 L778.30,446.64 L778.43,447.32 L778.55,447.96 L778.68,448.56 L778.81,449.12 L778.94,449.64 L779.07,450.13 L779.19,450.59 L779.32,451.01 L779.45,451.40 L779.58,451.77 L779.71,452.11 L779.84,452.42 L779.96,452.72 L780.09,452.98 L780.22,453.23 L780.35,453.46 L780.48,453.67 L780.60,453.86 L780.73,454.03 L780.86,454.19 L780.99,454.33 L781.12,454.46 L781.25,454.56 L781.37,454.66 L781.50,454.74 L781.63,454.81 L781.76,454.86 L781.89,454.90 L782.01,454.93 L782.14,454.95 L782.27,454.95 L782.40,454.95 L782.53,454.93 L782.65,454.90 L782.78,454.86 L782.91,454.81 L783.04,454.74 L783.17,454.67 L783.30,454.59 L783.42,454.49 L783.55,454.39 L783.68,454.27 L783.81,454.15 L783.94,454.01 L784.06,453.86 L784.19,453.70 L784.32,453.53 L784.45,453.35 L784.58,453.16 L784.71,452.96 L784.83,452.75 L784.96,452.53 L785.09,452.29 L785.22,452.05 L785.35,451.79 L785.47,451.52 L785.60,451.24 L785.73,450.94 L785.86,450.64 L785.99,450.32 L786.12,449.98 L786.24,449.64 L786.37,449.28 L786.50,448.91" fill="none" stroke="#ff2a2a" stroke-width="1.35" stroke-linejoin="round"/>
<path d="M17,471.5 L147,471.5 M147,472.5 L787,472.5" fill="none" stroke="#3a2aff" stroke-width="1" shape-rendering="crispEdges"/>
<path d="M17.50,465.18 L17.63,465.20 L17.76,465.22 L17.88,465.23 L18.01,465.24 L18.14,465.24 L18.27,465.24 L18.40,465.23 L18.53,465.22 L18.65,465.21 L18.78,465.19 L18.91,465.16 L19.04,465.13 L19.17,465.09 L19.29,465.05 L19.42,465.00 L19.55,464.95 L19.68,464.89 L19.81,464.82 L19.94,464.75 L20.06,464.67 L20.19,464.58 L20.32,464.48 L20.45,464.37 L20.58,464.26 L20.70,464.13 L20.83,464.00 L20.96,463.85 L21.09,463.69 L21.22,463.52 L21.34,463.34 L21.47,463.15 L21.60,462.93 L21.73,462.71 L21.86,462.46 L21.99,462.20 L22.11,461.92 L22.24,461.62 L22.37,461.30 L22.50,460.95 L22.63,460.58 L22.75,460.18 L22.88,459.75 L23.01,459.30 L23.14,458.80 L23.27,458.28 L23.40,457.71 L23.52,457.11 L23.65,456.46 L23.78,455.76 L23.91,455.02 L24.04,454.22 L24.16,453.36 L24.29,452.44 L24.42,451.46 L24.55,450.41 L24.68,449.29 L24.81,448.09 L24.93,446.82 L25.06,445.46 L25.19,444.01 L25.32,442.48 L25.45,440.85 L25.57,439.13 L25.70,437.31 L25.83,435.40 L25.96,433.40 L26.09,431.31 L26.22,429.12 L26.34,426.86 L26.47,424.52 L26.60,422.11 L26.73,419.65 L26.86,417.14 L26.98,414.59 L27.11,412.03 L27.24,409.47 L27.37,406.92 L27.50,404.41 L27.63,401.94 L27.75,399.54 L27.88,397.22 L28.01,395.01 L28.14,392.90 L28.27,390.92 L28.39,389.08 L28.52,387.39 L28.65,385.85 L28.78,384.46 L28.91,383.24 L29.04,382.18 L29.16,381.29 L29.29,380.55 L29.42,379.97 L29.55,379.54 L29.68,379.26 L29.80,379.12 L29.93,379.10 L30.06,379.21 L30.19,379.44 L30.32,379.78 L30.44,380.21 L30.57,380.74 L30.70,381.35 L30.83,382.04 L30.96,382.79 L31.09,383.61 L31.21,384.49 L31.34,385.42 L31.47,386.38 L31.60,387.39 L31.73,388.43 L31.85,389.51 L31.98,390.60 L32.11,391.72 L32.24,392.85 L32.37,394.00 L32.50,395.15 L32.62,396.32 L32.75,397.49 L32.88,398.66 L33.01,399.84 L33.14,401.01 L33.26,402.18 L33.39,403.35 L33.52,404.51 L33.65,405.66 L33.78,406.81 L33.91,407.94 L34.03,409.07 L34.16,410.19 L34.29,411.29 L34.42,412.38 L34.55,413.46 L34.67,414.53 L34.80,415.58 L34.93,416.62 L35.06,417.64 L35.19,418.65 L35.32,419.65 L35.44,420.63 L35.57,421.60 L35.70,422.55 L35.83,423.48 L35.96,424.41 L36.08,425.31 L36.21,426.20 L36.34,427.08 L36.47,427.94 L36.60,428.79 L36.73,429.62 L36.85,430.44 L36.98,431.24 L37.11,432.03 L37.24,432.80 L37.37,433.56 L37.49,434.31 L37.62,435.04 L37.75,435.76 L37.88,436.47 L38.01,437.16 L38.13,437.84 L38.26,438.50 L38.39,439.16 L38.52,439.80 L38.65,440.43 L38.78,441.04 L38.90,441.65 L39.03,442.24 L39.16,442.82 L39.29,443.39 L39.42,443.95 L39.54,444.49 L39.67,445.03 L39.80,445.55 L39.93,446.07 L40.06,446.57 L40.19,447.06 L40.31,447.55 L40.44,448.02 L40.57,448.49 L40.70,448.94 L40.83,449.39 L40.95,449.82 L41.08,450.25 L41.21,450.67 L41.34,451.07 L41.47,451.47 L41.60,451.87 L41.72,452.25 L41.85,452.63 L41.98,452.99 L42.11,453.35 L42.24,453.71 L42.36,454.05 L42.49,454.39 L42.62,454.72 L42.75,455.04 L42.88,455.36 L43.01,455.67 L43.13,455.97 L43.26,456.26 L43.39,456.55 L43.52,456.83 L43.65,457.11 L43.77,457.38 L43.90,457.64 L44.03,457.90 L44.16,458.15 L44.29,458.40 L44.41,458.64 L44.54,458.88 L44.67,459.11 L44.80,459.33 L44.93,459.55 L45.06,459.76 L45.18,459.97 L45.31,460.18 L45.44,460.38 L45.57,460.57 L45.70,460.76 L45.82,460.95 L45.95,461.13 L46.08,461.30 L46.21,461.47 L46.34,461.64 L46.47,461.80 L46.59,461.96 L46.72,462.11 L46.85,462.26 L46.98,462.41 L47.11,462.55 L47.23,462.69 L47.36,462.82 L47.49,462.95 L47.62,463.08 L47.75,463.20 L47.88,463.32 L48.00,463.44 L48.13,463.55 L48.26,463.65 L48.39,463.76 L48.52,463.86 L48.64,463.96 L48.77,464.05 L48.90,464.14 L49.03,464.23 L49.16,464.31 L49.29,464.39 L49.41,464.46 L49.54,464.54 L49.67,464.61 L49.80,464.67 L49.93,464.73 L50.05,464.79 L50.18,464.85 L50.31,464.90 L50.44,464.95 L50.57,464.99 L50.70,465.04 L50.82,465.07 L50.95,465.11 L51.08,465.14 L51.21,465.16 L51.34,465.19 L51.46,465.21 L51.59,465.22 L51.72,465.23 L51.85,465.24 L51.98,465.24 L52.11,465.24 L52.23,465.23 L52.36,465.22 L52.49,465.20 L52.62,465.18 L52.75,465.16 L52.87,465.12 L53.00,465.09 L53.13,465.04 L53.26,465.00 L53.39,464.94 L53.51,464.88 L53.64,464.81 L53.77,464.74 L53.90,464.65 L54.03,464.56 L54.16,464.46 L54.28,464.36 L54.41,464.24 L54.54,464.11 L54.67,463.98 L54.80,463.83 L54.92,463.67 L55.05,463.50 L55.18,463.31 L55.31,463.11 L55.44,462.90 L55.57,462.67 L55.69,462.42 L55.82,462.16 L55.95,461.87 L56.08,461.57 L56.21,461.24 L56.33,460.89 L56.46,460.52 L56.59,460.12 L56.72,459.68 L56.85,459.22 L56.98,458.72 L57.10,458.19 L57.23,457.62 L57.36,457.01 L57.49,456.35 L57.62,455.65 L57.74,454.89 L57.87,454.08 L58.00,453.22 L58.13,452.29 L58.26,451.30 L58.39,450.24 L58.51,449.11 L58.64,447.90 L58.77,446.61 L58.90,445.23 L59.03,443.77 L59.15,442.22 L59.28,440.58 L59.41,438.85 L59.54,437.02 L59.67,435.09 L59.80,433.07 L59.92,430.96 L60.05,428.77 L60.18,426.49 L60.31,424.14 L60.44,421.72 L60.56,419.25 L60.69,416.73 L60.82,414.19 L60.95,411.62 L61.08,409.06 L61.20,406.52 L61.33,404.01 L61.46,401.55 L61.59,399.17 L61.72,396.86 L61.85,394.66 L61.97,392.58 L62.10,390.62 L62.23,388.80 L62.36,387.13 L62.49,385.62 L62.61,384.26 L62.74,383.06 L62.87,382.03 L63.00,381.16 L63.13,380.45 L63.26,379.89 L63.38,379.49 L63.51,379.23 L63.64,379.11 L63.77,379.11 L63.90,379.24 L64.02,379.49 L64.15,379.84 L64.28,380.29 L64.41,380.83 L64.54,381.45 L64.67,382.15 L64.79,382.92 L64.92,383.75 L65.05,384.63 L65.18,385.57 L65.31,386.54 L65.43,387.56 L65.56,388.60 L65.69,389.68 L65.82,390.78 L65.95,391.90 L66.08,393.03 L66.20,394.18 L66.33,395.34 L66.46,396.51 L66.59,397.68 L66.72,398.85 L66.84,400.02 L66.97,401.20 L67.10,402.37 L67.23,403.53 L67.36,404.69 L67.48,405.84 L67.61,406.99 L67.74,408.12 L67.87,409.25 L68.00,410.36 L68.13,411.46 L68.25,412.55 L68.38,413.63 L68.51,414.69 L68.64,415.75 L68.77,416.78 L68.89,417.80 L69.02,418.81 L69.15,419.81 L69.28,420.78 L69.41,421.75 L69.54,422.70 L69.66,423.63 L69.79,424.55 L69.92,425.45 L70.05,426.34 L70.18,427.22 L70.30,428.08 L70.43,428.92 L70.56,429.75 L70.69,430.57 L70.82,431.37 L70.95,432.15 L71.07,432.93 L71.20,433.68 L71.33,434.43 L71.46,435.16 L71.59,435.87 L71.71,436.58 L71.84,437.27 L71.97,437.95 L72.10,438.61 L72.23,439.26 L72.36,439.90 L72.48,440.53 L72.61,441.14 L72.74,441.74 L72.87,442.33 L73.00,442.91 L73.12,443.48 L73.25,444.03 L73.38,444.58 L73.51,445.11 L73.64,445.64 L73.77,446.15 L73.89,446.65 L74.02,447.14 L74.15,447.62 L74.28,448.10 L74.41,448.56 L74.53,449.01 L74.66,449.46 L74.79,449.89 L74.92,450.31 L75.05,450.73 L75.18,451.14 L75.30,451.54 L75.43,451.93 L75.56,452.31 L75.69,452.69 L75.82,453.05 L75.94,453.41 L76.07,453.76 L76.20,454.10 L76.33,454.44 L76.46,454.77 L76.58,455.09 L76.71,455.41 L76.84,455.71 L76.97,456.01 L77.10,456.31 L77.23,456.60 L77.35,456.88 L77.48,457.15 L77.61,457.42 L77.74,457.69 L77.87,457.94 L77.99,458.19 L78.12,458.44 L78.25,458.68 L78.38,458.91 L78.51,459.14 L78.64,459.37 L78.76,459.59 L78.89,459.80 L79.02,460.01 L79.15,460.21 L79.28,460.41 L79.40,460.60 L79.53,460.79 L79.66,460.97 L79.79,461.15 L79.92,461.33 L80.05,461.50 L80.17,461.67 L80.30,461.83 L80.43,461.98 L80.56,462.14 L80.69,462.29 L80.81,462.43 L80.94,462.57 L81.07,462.71 L81.20,462.84 L81.33,462.97 L81.46,463.10 L81.58,463.22 L81.71,463.34 L81.84,463.45 L81.97,463.56 L82.10,463.67 L82.22,463.78 L82.35,463.87 L82.48,463.97 L82.61,464.06 L82.74,464.15 L82.86,464.24 L82.99,464.32 L83.12,464.40 L83.25,464.48 L83.38,464.55 L83.51,464.62 L83.63,464.68 L83.76,464.74 L83.89,464.80 L84.02,464.86 L84.15,464.91 L84.27,464.96 L84.40,465.00 L84.53,465.04 L84.66,465.08 L84.79,465.11 L84.92,465.14 L85.04,465.17 L85.17,465.19 L85.30,465.21 L85.43,465.22 L85.56,465.23 L85.68,465.24 L85.81,465.24 L85.94,465.24 L86.07,465.23 L86.20,465.22 L86.33,465.20 L86.45,465.18 L86.58,465.15 L86.71,465.12 L86.84,465.08 L86.97,465.04 L87.09,464.99 L87.22,464.93 L87.35,464.87 L87.48,464.80 L87.61,464.72 L87.74,464.64 L87.86,464.55 L87.99,464.45 L88.12,464.34 L88.25,464.22 L88.38,464.09 L88.50,463.95 L88.63,463.80 L88.76,463.64 L88.89,463.47 L89.02,463.28 L89.15,463.08 L89.27,462.86 L89.40,462.63 L89.53,462.38 L89.66,462.11 L89.79,461.83 L89.91,461.52 L90.04,461.19 L90.17,460.84 L90.30,460.46 L90.43,460.05 L90.56,459.61 L90.68,459.14 L90.81,458.64 L90.94,458.10 L91.07,457.52 L91.20,456.91 L91.32,456.24 L91.45,455.53 L91.58,454.77 L91.71,453.95 L91.84,453.07 L91.96,452.14 L92.09,451.14 L92.22,450.06 L92.35,448.92 L92.48,447.70 L92.61,446.39 L92.73,445.01 L92.86,443.53 L92.99,441.97 L93.12,440.31 L93.25,438.56 L93.37,436.72 L93.50,434.78 L93.63,432.74 L93.76,430.62 L93.89,428.41 L94.02,426.12 L94.14,423.76 L94.27,421.33 L94.40,418.85 L94.53,416.33 L94.66,413.78 L94.78,411.22 L94.91,408.66 L95.04,406.12 L95.17,403.62 L95.30,401.17 L95.43,398.79 L95.55,396.51 L95.68,394.32 L95.81,392.26 L95.94,390.32 L96.07,388.53 L96.19,386.88 L96.32,385.39 L96.45,384.06 L96.58,382.89 L96.71,381.88 L96.84,381.04 L96.96,380.35 L97.09,379.82 L97.22,379.44 L97.35,379.20 L97.48,379.10 L97.60,379.13 L97.73,379.27 L97.86,379.54 L97.99,379.90 L98.12,380.37 L98.25,380.92 L98.37,381.56 L98.50,382.27 L98.63,383.05 L98.76,383.89 L98.89,384.78 L99.01,385.72 L99.14,386.70 L99.27,387.72 L99.40,388.77 L99.53,389.85 L99.65,390.95 L99.78,392.08 L99.91,393.21 L100.04,394.36 L100.17,395.52 L100.30,396.69 L100.42,397.86 L100.55,399.04 L100.68,400.21 L100.81,401.38 L100.94,402.55 L101.06,403.72 L101.19,404.88 L101.32,406.03 L101.45,407.17 L101.58,408.30 L101.71,409.43 L101.83,410.54 L101.96,411.64 L102.09,412.73 L102.22,413.80 L102.35,414.86 L102.47,415.91 L102.60,416.95 L102.73,417.97 L102.86,418.97 L102.99,419.96 L103.12,420.94 L103.24,421.90 L103.37,422.85 L103.50,423.78 L103.63,424.70 L103.76,425.60 L103.88,426.48 L104.01,427.36 L104.14,428.21 L104.27,429.05 L104.40,429.88 L104.53,430.69 L104.65,431.49 L104.78,432.28 L104.91,433.05 L105.04,433.80 L105.17,434.54 L105.29,435.27 L105.42,435.99 L105.55,436.69 L105.68,437.38 L105.81,438.05 L105.94,438.71 L106.06,439.36 L106.19,440.00 L106.32,440.62 L106.45,441.24 L106.58,441.84 L106.70,442.42 L106.83,443.00 L106.96,443.57 L107.09,444.12 L107.22,444.66 L107.34,445.20 L107.47,445.72 L107.60,446.23 L107.73,446.73 L107.86,447.22 L107.99,447.70 L108.11,448.17 L108.24,448.63 L108.37,449.08 L108.50,449.52 L108.63,449.96 L108.75,450.38 L108.88,450.80 L109.01,451.20 L109.14,451.60 L109.27,451.99 L109.40,452.37 L109.52,452.74 L109.65,453.11 L109.78,453.47 L109.91,453.82 L110.04,454.16 L110.16,454.49 L110.29,454.82 L110.42,455.14 L110.55,455.46 L110.68,455.76 L110.81,456.06 L110.93,456.36 L111.06,456.64 L111.19,456.92 L111.32,457.20 L111.45,457.47 L111.57,457.73 L111.70,457.98 L111.83,458.23 L111.96,458.48 L112.09,458.72 L112.22,458.95 L112.34,459.18 L112.47,459.40 L112.60,459.62 L112.73,459.83 L112.86,460.04 L112.98,460.24 L113.11,460.44 L113.24,460.63 L113.37,460.82 L113.50,461.00 L113.62,461.18 L113.75,461.36 L113.88,461.53 L114.01,461.69 L114.14,461.85 L114.27,462.01 L114.39,462.16 L114.52,462.31 L114.65,462.46 L114.78,462.60 L114.91,462.73 L115.03,462.86 L115.16,462.99 L115.29,463.12 L115.42,463.24 L115.55,463.36 L115.68,463.47 L115.80,463.58 L115.93,463.69 L116.06,463.79 L116.19,463.89 L116.32,463.99 L116.44,464.08 L116.57,464.17 L116.70,464.25 L116.83,464.34 L116.96,464.41 L117.09,464.49 L117.21,464.56 L117.34,464.63 L117.47,464.69 L117.60,464.75 L117.73,464.81 L117.85,464.87 L117.98,464.92 L118.11,464.96 L118.24,465.01 L118.37,465.05 L118.50,465.08 L118.62,465.12 L118.75,465.15 L118.88,465.17 L119.01,465.19 L119.14,465.21 L119.26,465.22 L119.39,465.23 L119.52,465.24 L119.65,465.24 L119.78,465.24 L119.91,465.23 L120.03,465.21 L120.16,465.20 L120.29,465.17 L120.42,465.15 L120.55,465.11 L120.67,465.07 L120.80,465.03 L120.93,464.98 L121.06,464.92 L121.19,464.86 L121.31,464.79 L121.44,464.71 L121.57,464.63 L121.70,464.53 L121.83,464.43 L121.96,464.32 L122.08,464.20 L122.21,464.07 L122.34,463.93 L122.47,463.78 L122.60,463.62 L122.72,463.44 L122.85,463.25 L122.98,463.05 L123.11,462.83 L123.24,462.59 L123.37,462.34 L123.49,462.07 L123.62,461.78 L123.75,461.47 L123.88,461.13 L124.01,460.78 L124.13,460.39 L124.26,459.98 L124.39,459.54 L124.52,459.07 L124.65,458.56 L124.78,458.01 L124.90,457.43 L125.03,456.80 L125.16,456.13 L125.29,455.41 L125.42,454.64 L125.54,453.81 L125.67,452.93 L125.80,451.98 L125.93,450.97 L126.06,449.89 L126.19,448.73 L126.31,447.49 L126.44,446.18 L126.57,444.78 L126.70,443.29 L126.83,441.71 L126.95,440.04 L127.08,438.27 L127.21,436.41 L127.34,434.46 L127.47,432.41 L127.60,430.27 L127.72,428.05 L127.85,425.75 L127.98,423.38 L128.11,420.94 L128.24,418.45 L128.36,415.92 L128.49,413.37 L128.62,410.81 L128.75,408.25 L128.88,405.72 L129.00,403.22 L129.13,400.79 L129.26,398.42 L129.39,396.15 L129.52,393.99 L129.65,391.94 L129.77,390.03 L129.90,388.25 L130.03,386.63 L130.16,385.17 L130.29,383.86 L130.41,382.72 L130.54,381.74 L130.67,380.92 L130.80,380.26 L130.93,379.75 L131.06,379.39 L131.18,379.17 L131.31,379.09 L131.44,379.14 L131.57,379.31 L131.70,379.59 L131.82,379.97 L131.95,380.45 L132.08,381.02 L132.21,381.67 L132.34,382.39 L132.47,383.18 L132.59,384.03 L132.72,384.93 L132.85,385.87 L132.98,386.86 L133.11,387.89 L133.23,388.94 L133.36,390.03 L133.49,391.13 L133.62,392.26 L133.75,393.40 L133.88,394.55 L134.00,395.71 L134.13,396.88 L134.26,398.05 L134.39,399.22 L134.52,400.40 L134.64,401.57 L134.77,402.74 L134.90,403.90 L135.03,405.06 L135.16,406.21 L135.29,407.35 L135.41,408.48 L135.54,409.60 L135.67,410.71 L135.80,411.81 L135.93,412.90 L136.05,413.97 L136.18,415.03 L136.31,416.08 L136.44,417.11 L136.57,418.13 L136.69,419.13 L136.82,420.12 L136.95,421.09 L137.08,422.05 L137.21,423.00 L137.34,423.93 L137.46,424.84 L137.59,425.74 L137.72,426.62 L137.85,427.49 L137.98,428.35 L138.10,429.19 L138.23,430.01 L138.36,430.82 L138.49,431.62 L138.62,432.40 L138.75,433.17 L138.87,433.92 L139.00,434.66 L139.13,435.39 L139.26,436.10 L139.39,436.80 L139.51,437.49 L139.64,438.16 L139.77,438.82 L139.90,439.47 L140.03,440.10 L140.16,440.72 L140.28,441.33 L140.41,441.93 L140.54,442.52 L140.67,443.09 L140.80,443.66 L140.92,444.21 L141.05,444.75 L141.18,445.28 L141.31,445.80 L141.44,446.31 L141.57,446.81 L141.69,447.30 L141.82,447.78 L141.95,448.24 L142.08,448.70 L142.21,449.15 L142.33,449.59 L142.46,450.03 L142.59,450.45 L142.72,450.86 L142.85,451.27 L142.98,451.66 L143.10,452.05 L143.23,452.43 L143.36,452.80 L143.49,453.17 L143.62,453.52 L143.74,453.87 L143.87,454.21 L144.00,454.55 L144.13,454.87 L144.26,455.19 L144.38,455.50 L144.51,455.81 L144.64,456.11 L144.77,456.40 L144.90,456.69 L145.03,456.97 L145.15,457.24 L145.28,457.51 L145.41,457.77 L145.54,458.02 L145.67,458.27 L145.79,458.52 L145.92,458.76 L146.05,458.99 L146.18,459.21 L146.31,459.44 L146.44,459.65 L146.56,459.87 L146.69,460.07 L146.82,460.27 L146.95,460.47 L147.08,460.66 L147.20,460.85 L147.33,461.03 L147.46,461.21 L147.59,461.38 L147.72,461.55 L147.85,461.72 L147.97,461.88 L148.10,462.03 L148.23,462.19 L148.36,462.33 L148.49,462.48 L148.61,462.62 L148.74,462.75 L148.87,462.89 L149.00,463.01 L149.13,463.14 L149.26,463.26 L149.38,463.38 L149.51,463.49 L149.64,463.60 L149.77,463.70 L149.90,463.81 L150.02,463.91 L150.15,464.00 L150.28,464.09 L150.41,464.18 L150.54,464.27 L150.67,464.35 L150.79,464.43 L150.92,464.50 L151.05,464.57 L151.18,464.64 L151.31,464.70 L151.43,464.76 L151.56,464.82 L151.69,464.87 L151.82,464.92 L151.95,464.97 L152.08,465.01 L152.20,465.05 L152.33,465.09 L152.46,465.12 L152.59,465.15 L152.72,465.17 L152.84,465.20 L152.97,465.21 L153.10,465.23 L153.23,465.23 L153.36,465.24 L153.48,465.24 L153.61,465.23 L153.74,465.23 L153.87,465.21 L154.00,465.19 L154.13,465.17 L154.25,465.14 L154.38,465.11 L154.51,465.07 L154.64,465.02 L154.77,464.97 L154.89,464.91 L155.02,464.85 L155.15,464.78 L155.28,464.70 L155.41,464.61 L155.54,464.52 L155.66,464.41 L155.79,464.30 L155.92,464.18 L156.05,464.05 L156.18,463.91 L156.30,463.75 L156.43,463.59 L156.56,463.41 L156.69,463.22 L156.82,463.01 L156.95,462.79 L157.07,462.55 L157.20,462.30 L157.33,462.03 L157.46,461.73 L157.59,461.42 L157.71,461.08 L157.84,460.72 L157.97,460.33 L158.10,459.91 L158.23,459.47 L158.36,458.99 L158.48,458.47 L158.61,457.92 L158.74,457.33 L158.87,456.70 L159.00,456.02 L159.12,455.29 L159.25,454.51 L159.38,453.68 L159.51,452.78 L159.64,451.83 L159.77,450.80 L159.89,449.71 L160.02,448.54 L160.15,447.29 L160.28,445.96 L160.41,444.55 L160.53,443.04 L160.66,441.45 L160.79,439.76 L160.92,437.98 L161.05,436.11 L161.17,434.14 L161.30,432.08 L161.43,429.93 L161.56,427.69 L161.69,425.38 L161.82,422.99 L161.94,420.55 L162.07,418.05 L162.20,415.52 L162.33,412.96 L162.46,410.40 L162.58,407.85 L162.71,405.32 L162.84,402.83 L162.97,400.40 L163.10,398.05 L163.23,395.80 L163.35,393.65 L163.48,391.63 L163.61,389.73 L163.74,387.99 L163.87,386.39 L163.99,384.95 L164.12,383.67 L164.25,382.55 L164.38,381.59 L164.51,380.80 L164.64,380.16 L164.76,379.68 L164.89,379.35 L165.02,379.15 L165.15,379.09 L165.28,379.16 L165.40,379.35 L165.53,379.64 L165.66,380.04 L165.79,380.54 L165.92,381.12 L166.05,381.78 L166.17,382.51 L166.30,383.31 L166.43,384.17 L166.56,385.07 L166.69,386.03 L166.81,387.02 L166.94,388.05 L167.07,389.11 L167.20,390.20 L167.33,391.31 L167.46,392.44 L167.58,393.58 L167.71,394.73 L167.84,395.90 L167.97,397.06 L168.10,398.24 L168.22,399.41 L168.35,400.59 L168.48,401.76 L168.61,402.92 L168.74,404.09 L168.86,405.24 L168.99,406.39 L169.12,407.53 L169.25,408.66 L169.38,409.78 L169.51,410.89 L169.63,411.99 L169.76,413.07 L169.89,414.14 L170.02,415.20 L170.15,416.24 L170.27,417.27 L170.40,418.29 L170.53,419.29 L170.66,420.28 L170.79,421.25 L170.92,422.20 L171.04,423.15 L171.17,424.07 L171.30,424.98 L171.43,425.88 L171.56,426.76 L171.68,427.63 L171.81,428.48 L171.94,429.32 L172.07,430.14 L172.20,430.95 L172.33,431.74 L172.45,432.52 L172.58,433.29 L172.71,434.04 L172.84,434.78 L172.97,435.50 L173.09,436.21 L173.22,436.91 L173.35,437.59 L173.48,438.26 L173.61,438.92 L173.74,439.57 L173.86,440.20 L173.99,440.82 L174.12,441.43 L174.25,442.03 L174.38,442.61 L174.50,443.18 L174.63,443.74 L174.76,444.30 L174.89,444.83 L175.02,445.36 L175.15,445.88 L175.27,446.39 L175.40,446.89 L175.53,447.37 L175.66,447.85 L175.79,448.32 L175.91,448.78 L176.04,449.22 L176.17,449.66 L176.30,450.09 L176.43,450.51 L176.55,450.93 L176.68,451.33 L176.81,451.73 L176.94,452.11 L177.07,452.49 L177.20,452.86 L177.32,453.22 L177.45,453.58 L177.58,453.93 L177.71,454.27 L177.84,454.60 L177.96,454.92 L178.09,455.24 L178.22,455.55 L178.35,455.86 L178.48,456.16 L178.61,456.45 L178.73,456.73 L178.86,457.01 L178.99,457.28 L179.12,457.55 L179.25,457.81 L179.37,458.06 L179.50,458.31 L179.63,458.56 L179.76,458.79 L179.89,459.02 L180.02,459.25 L180.14,459.47 L180.27,459.69 L180.40,459.90 L180.53,460.10 L180.66,460.30 L180.78,460.50 L180.91,460.69 L181.04,460.88 L181.17,461.06 L181.30,461.24 L181.43,461.41 L181.55,461.58 L181.68,461.74 L181.81,461.90 L181.94,462.06 L182.07,462.21 L182.19,462.36 L182.32,462.50 L182.45,462.64 L182.58,462.77 L182.71,462.91 L182.84,463.03 L182.96,463.16 L183.09,463.28 L183.22,463.39 L183.35,463.51 L183.48,463.62 L183.60,463.72 L183.73,463.82 L183.86,463.92 L183.99,464.02 L184.12,464.11 L184.24,464.20 L184.37,464.28 L184.50,464.36 L184.63,464.44 L184.76,464.51 L184.89,464.58 L185.01,464.65 L185.14,464.71 L185.27,464.77 L185.40,464.83 L185.53,464.88 L185.65,464.93 L185.78,464.98 L185.91,465.02 L186.04,465.06 L186.17,465.10 L186.30,465.13 L186.42,465.15 L186.55,465.18 L186.68,465.20 L186.81,465.21 L186.94,465.23 L187.06,465.24 L187.19,465.24 L187.32,465.24 L187.45,465.23 L187.58,465.22 L187.71,465.21 L187.83,465.19 L187.96,465.17 L188.09,465.14 L188.22,465.10 L188.35,465.06 L188.47,465.01 L188.60,464.96 L188.73,464.90 L188.86,464.84 L188.99,464.76 L189.12,464.68 L189.24,464.60 L189.37,464.50 L189.50,464.40 L189.63,464.28 L189.76,464.16 L189.88,464.03 L190.01,463.88 L190.14,463.73 L190.27,463.56 L190.40,463.38 L190.53,463.19 L190.65,462.98 L190.78,462.75 L190.91,462.51 L191.04,462.26 L191.17,461.98 L191.29,461.68 L191.42,461.37 L191.55,461.02 L191.68,460.66 L191.81,460.26 L191.93,459.84 L192.06,459.39 L192.19,458.91 L192.32,458.39 L192.45,457.83 L192.58,457.23 L192.70,456.59 L192.83,455.91 L192.96,455.17 L193.09,454.38 L193.22,453.54 L193.34,452.64 L193.47,451.67 L193.60,450.63 L193.73,449.53 L193.86,448.34 L193.99,447.08 L194.11,445.74 L194.24,444.31 L194.37,442.80 L194.50,441.19 L194.63,439.49 L194.75,437.69 L194.88,435.80 L195.01,433.82 L195.14,431.74 L195.27,429.58 L195.40,427.33 L195.52,425.00 L195.65,422.61 L195.78,420.15 L195.91,417.65 L196.04,415.11 L196.16,412.56 L196.29,409.99 L196.42,407.44 L196.55,404.92 L196.68,402.44 L196.81,400.02 L196.93,397.69 L197.06,395.45 L197.19,393.32 L197.32,391.32 L197.45,389.45 L197.57,387.72 L197.70,386.15 L197.83,384.73 L197.96,383.48 L198.09,382.39 L198.22,381.46 L198.34,380.69 L198.47,380.08 L198.60,379.62 L198.73,379.31 L198.86,379.13 L198.98,379.10 L199.11,379.18 L199.24,379.39 L199.37,379.70 L199.50,380.12 L199.62,380.62 L199.75,381.22 L199.88,381.89 L200.01,382.63 L200.14,383.44 L200.27,384.31 L200.39,385.22 L200.52,386.18 L200.65,387.18 L200.78,388.22 L200.91,389.28 L201.03,390.38 L201.16,391.49 L201.29,392.62 L201.42,393.76 L201.55,394.92 L201.68,396.08 L201.80,397.25 L201.93,398.42 L202.06,399.60 L202.19,400.77 L202.32,401.94 L202.44,403.11 L202.57,404.27 L202.70,405.43 L202.83,406.57 L202.96,407.71 L203.09,408.84 L203.21,409.96 L203.34,411.06 L203.47,412.16 L203.60,413.24 L203.73,414.31 L203.85,415.37 L203.98,416.41 L204.11,417.43 L204.24,418.45 L204.37,419.45 L204.50,420.43 L204.62,421.40 L204.75,422.35 L204.88,423.29 L205.01,424.22 L205.14,425.13 L205.26,426.02 L205.39,426.90 L205.52,427.77 L205.65,428.62 L205.78,429.45 L205.91,430.27 L206.03,431.08 L206.16,431.87 L206.29,432.65 L206.42,433.41 L206.55,434.16 L206.67,434.89 L206.80,435.62 L206.93,436.32 L207.06,437.02 L207.19,437.70 L207.31,438.37 L207.44,439.03 L207.57,439.67 L207.70,440.30 L207.83,440.92 L207.96,441.52 L208.08,442.12 L208.21,442.70 L208.34,443.27 L208.47,443.83 L208.60,444.38 L208.72,444.92 L208.85,445.45 L208.98,445.96 L209.11,446.47 L209.24,446.96 L209.37,447.45 L209.49,447.93 L209.62,448.39 L209.75,448.85 L209.88,449.30 L210.01,449.73 L210.13,450.16 L210.26,450.58 L210.39,450.99 L210.52,451.39 L210.65,451.79 L210.78,452.17 L210.90,452.55 L211.03,452.92 L211.16,453.28 L211.29,453.63 L211.42,453.98 L211.54,454.32 L211.67,454.65 L211.80,454.98 L211.93,455.29 L212.06,455.60 L212.19,455.91 L212.31,456.20 L212.44,456.49 L212.57,456.78 L212.70,457.05 L212.83,457.33 L212.95,457.59 L213.08,457.85 L213.21,458.10 L213.34,458.35 L213.47,458.59 L213.59,458.83 L213.72,459.06 L213.85,459.29 L213.98,459.51 L214.11,459.72 L214.24,459.93 L214.36,460.14 L214.49,460.34 L214.62,460.53 L214.75,460.72 L214.88,460.91 L215.00,461.09 L215.13,461.27 L215.26,461.44 L215.39,461.61 L215.52,461.77 L215.65,461.93 L215.77,462.08 L215.90,462.23 L216.03,462.38 L216.16,462.52 L216.29,462.66 L216.41,462.80 L216.54,462.93 L216.67,463.05 L216.80,463.18 L216.93,463.30 L217.06,463.41 L217.18,463.52 L217.31,463.63 L217.44,463.74 L217.57,463.84 L217.70,463.94 L217.82,464.03 L217.95,464.12 L218.08,464.21 L218.21,464.29 L218.34,464.37 L218.47,464.45 L218.59,464.52 L218.72,464.59 L218.85,464.66 L218.98,464.72 L219.11,464.78 L219.23,464.84 L219.36,464.89 L219.49,464.94 L219.62,464.99 L219.75,465.03 L219.88,465.07 L220.00,465.10 L220.13,465.13 L220.26,465.16 L220.39,465.18 L220.52,465.20 L220.64,465.22 L220.77,465.23 L220.90,465.24 L221.03,465.24 L221.16,465.24 L221.28,465.23 L221.41,465.22 L221.54,465.21 L221.67,465.19 L221.80,465.16 L221.93,465.13 L222.05,465.10 L222.18,465.05 L222.31,465.01 L222.44,464.95 L222.57,464.89 L222.69,464.83 L222.82,464.75 L222.95,464.67 L223.08,464.58 L223.21,464.48 L223.34,464.38 L223.46,464.26 L223.59,464.14 L223.72,464.00 L223.85,463.86 L223.98,463.70 L224.10,463.53 L224.23,463.35 L224.36,463.15 L224.49,462.94 L224.62,462.72 L224.75,462.47 L224.87,462.21 L225.00,461.93 L225.13,461.63 L225.26,461.31 L225.39,460.97 L225.51,460.60 L225.64,460.20 L225.77,459.77 L225.90,459.32 L226.03,458.83 L226.16,458.30 L226.28,457.74 L226.41,457.14 L226.54,456.49 L226.67,455.79 L226.80,455.05 L226.92,454.25 L227.05,453.40 L227.18,452.49 L227.31,451.51 L227.44,450.46 L227.57,449.34 L227.69,448.15 L227.82,446.88 L227.95,445.52 L228.08,444.08 L228.21,442.55 L228.33,440.92 L228.46,439.21 L228.59,437.40 L228.72,435.49 L228.85,433.49 L228.97,431.40 L229.10,429.22 L229.23,426.96 L229.36,424.63 L229.49,422.22 L229.62,419.76 L229.74,417.25 L229.87,414.71 L230.00,412.15 L230.13,409.58 L230.26,407.04 L230.38,404.52 L230.51,402.05 L230.64,399.65 L230.77,397.33 L230.90,395.10 L231.03,392.99 L231.15,391.01 L231.28,389.16 L231.41,387.46 L231.54,385.91 L231.67,384.52 L231.79,383.29 L231.92,382.23 L232.05,381.32 L232.18,380.58 L232.31,379.99 L232.44,379.56 L232.56,379.27 L232.69,379.12 L232.82,379.10 L232.95,379.21 L233.08,379.43 L233.20,379.76 L233.33,380.19 L233.46,380.71 L233.59,381.32 L233.72,382.01 L233.85,382.76 L233.97,383.58 L234.10,384.45 L234.23,385.37 L234.36,386.34 L234.49,387.35 L234.61,388.39 L234.74,389.46 L234.87,390.55 L235.00,391.67 L235.13,392.80 L235.26,393.94 L235.38,395.10 L235.51,396.27 L235.64,397.44 L235.77,398.61 L235.90,399.79 L236.02,400.96 L236.15,402.13 L236.28,403.30 L236.41,404.46 L236.54,405.61 L236.66,406.76 L236.79,407.89 L236.92,409.02 L237.05,410.14 L237.18,411.24 L237.31,412.33 L237.43,413.41 L237.56,414.48 L237.69,415.53 L237.82,416.57 L237.95,417.60 L238.07,418.61 L238.20,419.60 L238.33,420.59 L238.46,421.55 L238.59,422.51 L238.72,423.44 L238.84,424.36 L238.97,425.27 L239.10,426.16 L239.23,427.04 L239.36,427.90 L239.48,428.75 L239.61,429.58 L239.74,430.40 L239.87,431.20 L240.00,431.99 L240.13,432.77 L240.25,433.53 L240.38,434.28 L240.51,435.01 L240.64,435.73 L240.77,436.44 L240.89,437.13 L241.02,437.81 L241.15,438.47 L241.28,439.13 L241.41,439.77 L241.54,440.40 L241.66,441.02 L241.79,441.62 L241.92,442.21 L242.05,442.79 L242.18,443.36 L242.30,443.92 L242.43,444.47 L242.56,445.00 L242.69,445.53 L242.82,446.04 L242.95,446.55 L243.07,447.04 L243.20,447.53 L243.33,448.00 L243.46,448.47 L243.59,448.92 L243.71,449.37 L243.84,449.80 L243.97,450.23 L244.10,450.65 L244.23,451.06 L244.36,451.46 L244.48,451.85 L244.61,452.23 L244.74,452.61 L244.87,452.98 L245.00,453.34 L245.12,453.69 L245.25,454.04 L245.38,454.37 L245.51,454.70 L245.64,455.03 L245.76,455.34 L245.89,455.65 L246.02,455.95 L246.15,456.25 L246.28,456.54 L246.41,456.82 L246.53,457.10 L246.66,457.37 L246.79,457.63 L246.92,457.89 L247.05,458.14 L247.17,458.39 L247.30,458.63 L247.43,458.87 L247.56,459.10 L247.69,459.32 L247.82,459.54 L247.94,459.76 L248.07,459.96 L248.20,460.17 L248.33,460.37 L248.46,460.56 L248.58,460.75 L248.71,460.94 L248.84,461.12 L248.97,461.29 L249.10,461.46 L249.23,461.63 L249.35,461.79 L249.48,461.95 L249.61,462.11 L249.74,462.26 L249.87,462.40 L249.99,462.55 L250.12,462.68 L250.25,462.82 L250.38,462.95 L250.51,463.07 L250.64,463.20 L250.76,463.32 L250.89,463.43 L251.02,463.54 L251.15,463.65 L251.28,463.75 L251.40,463.85 L251.53,463.95 L251.66,464.05 L251.79,464.14 L251.92,464.22 L252.05,464.31 L252.17,464.39 L252.30,464.46 L252.43,464.53 L252.56,464.60 L252.69,464.67 L252.81,464.73 L252.94,464.79 L253.07,464.85 L253.20,464.90 L253.33,464.95 L253.45,464.99 L253.58,465.03 L253.71,465.07 L253.84,465.11 L253.97,465.14 L254.10,465.16 L254.22,465.19 L254.35,465.20 L254.48,465.22 L254.61,465.23 L254.74,465.24 L254.86,465.24 L254.99,465.24 L255.12,465.23 L255.25,465.22 L255.38,465.20 L255.51,465.18 L255.63,465.16 L255.76,465.13 L255.89,465.09 L256.02,465.05 L256.15,465.00 L256.27,464.94 L256.40,464.88 L256.53,464.81 L256.66,464.74 L256.79,464.66 L256.92,464.57 L257.04,464.47 L257.17,464.36 L257.30,464.24 L257.43,464.12 L257.56,463.98 L257.68,463.83 L257.81,463.68 L257.94,463.50 L258.07,463.32 L258.20,463.12 L258.33,462.91 L258.45,462.68 L258.58,462.43 L258.71,462.17 L258.84,461.89 L258.97,461.58 L259.09,461.26 L259.22,460.91 L259.35,460.54 L259.48,460.13 L259.61,459.70 L259.74,459.24 L259.86,458.75 L259.99,458.22 L260.12,457.65 L260.25,457.04 L260.38,456.38 L260.50,455.68 L260.63,454.93 L260.76,454.12 L260.89,453.26 L261.02,452.33 L261.14,451.35 L261.27,450.29 L261.40,449.16 L261.53,447.95 L261.66,446.67 L261.79,445.30 L261.91,443.84 L262.04,442.29 L262.17,440.66 L262.30,438.93 L262.43,437.10 L262.55,435.18 L262.68,433.17 L262.81,431.06 L262.94,428.87 L263.07,426.60 L263.20,424.25 L263.32,421.83 L263.45,419.36 L263.58,416.85 L263.71,414.30 L263.84,411.74 L263.96,409.18 L264.09,406.63 L264.22,404.12 L264.35,401.66 L264.48,399.27 L264.61,396.96 L264.73,394.76 L264.86,392.67 L264.99,390.71 L265.12,388.88 L265.25,387.20 L265.37,385.68 L265.50,384.32 L265.63,383.11 L265.76,382.07 L265.89,381.20 L266.02,380.48 L266.14,379.92 L266.27,379.50 L266.40,379.24 L266.53,379.11 L266.66,379.11 L266.78,379.23 L266.91,379.47 L267.04,379.82 L267.17,380.27 L267.30,380.80 L267.43,381.42 L267.55,382.12 L267.68,382.89 L267.81,383.71 L267.94,384.59 L268.07,385.52 L268.19,386.50 L268.32,387.51 L268.45,388.56 L268.58,389.63 L268.71,390.73 L268.83,391.85 L268.96,392.98 L269.09,394.13 L269.22,395.29 L269.35,396.45 L269.48,397.62 L269.60,398.80 L269.73,399.97 L269.86,401.15 L269.99,402.32 L270.12,403.48 L270.24,404.64 L270.37,405.79 L270.50,406.94 L270.63,408.07 L270.76,409.20 L270.89,410.31 L271.01,411.41 L271.14,412.51 L271.27,413.58 L271.40,414.65 L271.53,415.70 L271.65,416.74 L271.78,417.76 L271.91,418.77 L272.04,419.76 L272.17,420.74 L272.30,421.71 L272.42,422.66 L272.55,423.59 L272.68,424.51 L272.81,425.41 L272.94,426.30 L273.06,427.18 L273.19,428.04 L273.32,428.88 L273.45,429.71 L273.58,430.53 L273.71,431.33 L273.83,432.12 L273.96,432.89 L274.09,433.65 L274.22,434.39 L274.35,435.13 L274.47,435.84 L274.60,436.55 L274.73,437.24 L274.86,437.92 L274.99,438.58 L275.12,439.23 L275.24,439.87 L275.37,440.50 L275.50,441.11 L275.63,441.72 L275.76,442.31 L275.88,442.89 L276.01,443.45 L276.14,444.01 L276.27,444.55 L276.40,445.09 L276.52,445.61 L276.65,446.13 L276.78,446.63 L276.91,447.12 L277.04,447.60 L277.17,448.08 L277.29,448.54 L277.42,448.99 L277.55,449.44 L277.68,449.87 L277.81,450.30 L277.93,450.71 L278.06,451.12 L278.19,451.52 L278.32,451.91 L278.45,452.29 L278.58,452.67 L278.70,453.04 L278.83,453.39 L278.96,453.75 L279.09,454.09 L279.22,454.43 L279.34,454.76 L279.47,455.08 L279.60,455.39 L279.73,455.70 L279.86,456.00 L279.99,456.30 L280.11,456.58 L280.24,456.87 L280.37,457.14 L280.50,457.41 L280.63,457.67 L280.75,457.93 L280.88,458.18 L281.01,458.43 L281.14,458.67 L281.27,458.90 L281.40,459.13 L281.52,459.36 L281.65,459.58 L281.78,459.79 L281.91,460.00 L282.04,460.20 L282.16,460.40 L282.29,460.59 L282.42,460.78 L282.55,460.97 L282.68,461.15 L282.81,461.32 L282.93,461.49 L283.06,461.66 L283.19,461.82 L283.32,461.98 L283.45,462.13 L283.57,462.28 L283.70,462.43 L283.83,462.57 L283.96,462.70 L284.09,462.84 L284.21,462.97 L284.34,463.09 L284.47,463.22 L284.60,463.33 L284.73,463.45 L284.86,463.56 L284.98,463.67 L285.11,463.77 L285.24,463.87 L285.37,463.97 L285.50,464.06 L285.62,464.15 L285.75,464.24 L285.88,464.32 L286.01,464.40 L286.14,464.47 L286.27,464.55 L286.39,464.61 L286.52,464.68 L286.65,464.74 L286.78,464.80 L286.91,464.86 L287.03,464.91 L287.16,464.95 L287.29,465.00 L287.42,465.04 L287.55,465.08 L287.68,465.11 L287.80,465.14 L287.93,465.17 L288.06,465.19 L288.19,465.21 L288.32,465.22 L288.44,465.23 L288.57,465.24 L288.70,465.24 L288.83,465.24 L288.96,465.23 L289.09,465.22 L289.21,465.20 L289.34,465.18 L289.47,465.15 L289.60,465.12 L289.73,465.08 L289.85,465.04 L289.98,464.99 L290.11,464.93 L290.24,464.87 L290.37,464.80 L290.50,464.73 L290.62,464.64 L290.75,464.55 L290.88,464.45 L291.01,464.34 L291.14,464.23 L291.26,464.10 L291.39,463.96 L291.52,463.81 L291.65,463.65 L291.78,463.48 L291.90,463.29 L292.03,463.09 L292.16,462.87 L292.29,462.64 L292.42,462.39 L292.55,462.13 L292.67,461.84 L292.80,461.53 L292.93,461.20 L293.06,460.85 L293.19,460.47 L293.31,460.07 L293.44,459.63 L293.57,459.16 L293.70,458.66 L293.83,458.13 L293.96,457.55 L294.08,456.93 L294.21,456.27 L294.34,455.56 L294.47,454.80 L294.60,453.99 L294.72,453.12 L294.85,452.18 L294.98,451.18 L295.11,450.11 L295.24,448.97 L295.37,447.75 L295.49,446.45 L295.62,445.07 L295.75,443.60 L295.88,442.04 L296.01,440.39 L296.13,438.64 L296.26,436.80 L296.39,434.86 L296.52,432.84 L296.65,430.72 L296.78,428.51 L296.90,426.23 L297.03,423.87 L297.16,421.44 L297.29,418.96 L297.42,416.44 L297.54,413.89 L297.67,411.33 L297.80,408.77 L297.93,406.23 L298.06,403.73 L298.19,401.28 L298.31,398.90 L298.44,396.61 L298.57,394.42 L298.70,392.35 L298.83,390.41 L298.95,388.60 L299.08,386.95 L299.21,385.45 L299.34,384.11 L299.47,382.94 L299.59,381.92 L299.72,381.07 L299.85,380.38 L299.98,379.84 L300.11,379.45 L300.24,379.21 L300.36,379.10 L300.49,379.12 L300.62,379.27 L300.75,379.52 L300.88,379.89 L301.00,380.35 L301.13,380.90 L301.26,381.53 L301.39,382.24 L301.52,383.01 L301.65,383.85 L301.77,384.74 L301.90,385.68 L302.03,386.66 L302.16,387.67 L302.29,388.72 L302.41,389.80 L302.54,390.90 L302.67,392.03 L302.80,393.16 L302.93,394.31 L303.06,395.47 L303.18,396.64 L303.31,397.81 L303.44,398.98 L303.57,400.16 L303.70,401.33 L303.82,402.50 L303.95,403.67 L304.08,404.82 L304.21,405.98 L304.34,407.12 L304.47,408.25 L304.59,409.38 L304.72,410.49 L304.85,411.59 L304.98,412.68 L305.11,413.75 L305.23,414.82 L305.36,415.86 L305.49,416.90 L305.62,417.92 L305.75,418.93 L305.88,419.92 L306.00,420.90 L306.13,421.86 L306.26,422.81 L306.39,423.74 L306.52,424.65 L306.64,425.56 L306.77,426.44 L306.90,427.32 L307.03,428.17 L307.16,429.02 L307.28,429.85 L307.41,430.66 L307.54,431.46 L307.67,432.24 L307.80,433.01 L307.93,433.77 L308.05,434.51 L308.18,435.24 L308.31,435.96 L308.44,436.66 L308.57,437.35 L308.69,438.02 L308.82,438.68 L308.95,439.33 L309.08,439.97 L309.21,440.60 L309.34,441.21 L309.46,441.81 L309.59,442.40 L309.72,442.98 L309.85,443.54 L309.98,444.10 L310.10,444.64 L310.23,445.17 L310.36,445.69 L310.49,446.21 L310.62,446.71 L310.75,447.20 L310.87,447.68 L311.00,448.15 L311.13,448.61 L311.26,449.06 L311.39,449.51 L311.51,449.94 L311.64,450.36 L311.77,450.78 L311.90,451.18 L312.03,451.58 L312.16,451.97 L312.28,452.35 L312.41,452.73 L312.54,453.09 L312.67,453.45 L312.80,453.80 L312.92,454.14 L313.05,454.48 L313.18,454.81 L313.31,455.13 L313.44,455.44 L313.56,455.75 L313.69,456.05 L313.82,456.34 L313.95,456.63 L314.08,456.91 L314.21,457.19 L314.33,457.45 L314.46,457.72 L314.59,457.97 L314.72,458.22 L314.85,458.47 L314.97,458.71 L315.10,458.94 L315.23,459.17 L315.36,459.39 L315.49,459.61 L315.62,459.82 L315.74,460.03 L315.87,460.23 L316.00,460.43 L316.13,460.62 L316.26,460.81 L316.38,460.99 L316.51,461.17 L316.64,461.35 L316.77,461.52 L316.90,461.68 L317.03,461.85 L317.15,462.00 L317.28,462.16 L317.41,462.30 L317.54,462.45 L317.67,462.59 L317.79,462.73 L317.92,462.86 L318.05,462.99 L318.18,463.11 L318.31,463.23 L318.44,463.35 L318.56,463.47 L318.69,463.58 L318.82,463.68 L318.95,463.79 L319.08,463.89 L319.20,463.98 L319.33,464.07 L319.46,464.16 L319.59,464.25 L319.72,464.33 L319.85,464.41 L319.97,464.49 L320.10,464.56 L320.23,464.63 L320.36,464.69 L320.49,464.75 L320.61,464.81 L320.74,464.86 L320.87,464.91 L321.00,464.96 L321.13,465.01 L321.25,465.05 L321.38,465.08 L321.51,465.12 L321.64,465.14 L321.77,465.17 L321.90,465.19 L322.02,465.21 L322.15,465.22 L322.28,465.23 L322.41,465.24 L322.54,465.24 L322.66,465.24 L322.79,465.23 L322.92,465.22 L323.05,465.20 L323.18,465.18 L323.31,465.15 L323.43,465.11 L323.56,465.08 L323.69,465.03 L323.82,464.98 L323.95,464.93 L324.07,464.86 L324.20,464.79 L324.33,464.71 L324.46,464.63 L324.59,464.54 L324.72,464.44 L324.84,464.33 L324.97,464.21 L325.10,464.08 L325.23,463.94 L325.36,463.79 L325.48,463.62 L325.61,463.45 L325.74,463.26 L325.87,463.06 L326.00,462.84 L326.13,462.60 L326.25,462.35 L326.38,462.08 L326.51,461.79 L326.64,461.48 L326.77,461.15 L326.89,460.79 L327.02,460.41 L327.15,460.00 L327.28,459.56 L327.41,459.09 L327.54,458.58 L327.66,458.04 L327.79,457.46 L327.92,456.83 L328.05,456.16 L328.18,455.45 L328.30,454.68 L328.43,453.85 L328.56,452.97 L328.69,452.03 L328.82,451.02 L328.94,449.94 L329.07,448.78 L329.20,447.55 L329.33,446.24 L329.46,444.84 L329.59,443.36 L329.71,441.78 L329.84,440.12 L329.97,438.35 L330.10,436.50 L330.23,434.55 L330.35,432.50 L330.48,430.37 L330.61,428.15 L330.74,425.86 L330.87,423.48 L331.00,421.05 L331.12,418.56 L331.25,416.04 L331.38,413.49 L331.51,410.92 L331.64,408.36 L331.76,405.83 L331.89,403.33 L332.02,400.89 L332.15,398.53 L332.28,396.25 L332.41,394.08 L332.53,392.03 L332.66,390.11 L332.79,388.33 L332.92,386.70 L333.05,385.23 L333.17,383.91 L333.30,382.76 L333.43,381.78 L333.56,380.95 L333.69,380.28 L333.82,379.77 L333.94,379.40 L334.07,379.18 L334.20,379.09 L334.33,379.14 L334.46,379.30 L334.58,379.57 L334.71,379.95 L334.84,380.43 L334.97,380.99 L335.10,381.64 L335.23,382.36 L335.35,383.14 L335.48,383.99 L335.61,384.88 L335.74,385.83 L335.87,386.82 L335.99,387.84 L336.12,388.89 L336.25,389.98 L336.38,391.08 L336.51,392.21 L336.63,393.34 L336.76,394.50 L336.89,395.66 L337.02,396.83 L337.15,398.00 L337.28,399.17 L337.40,400.35 L337.53,401.52 L337.66,402.69 L337.79,403.85 L337.92,405.01 L338.04,406.16 L338.17,407.30 L338.30,408.43 L338.43,409.55 L338.56,410.66 L338.69,411.76 L338.81,412.85 L338.94,413.92 L339.07,414.98 L339.20,416.03 L339.33,417.06 L339.45,418.08 L339.58,419.09 L339.71,420.08 L339.84,421.05 L339.97,422.01 L340.10,422.95 L340.22,423.88 L340.35,424.80 L340.48,425.70 L340.61,426.58 L340.74,427.45 L340.86,428.31 L340.99,429.15 L341.12,429.98 L341.25,430.79 L341.38,431.58 L341.51,432.37 L341.63,433.13 L341.76,433.89 L341.89,434.63 L342.02,435.36 L342.15,436.07 L342.27,436.77 L342.40,437.45 L342.53,438.13 L342.66,438.79 L342.79,439.44 L342.92,440.07 L343.04,440.69 L343.17,441.31 L343.30,441.90 L343.43,442.49 L343.56,443.07 L343.68,443.63 L343.81,444.18 L343.94,444.73 L344.07,445.26 L344.20,445.78 L344.32,446.29 L344.45,446.79 L344.58,447.28 L344.71,447.75 L344.84,448.22 L344.97,448.68 L345.09,449.13 L345.22,449.57 L345.35,450.01 L345.48,450.43 L345.61,450.84 L345.73,451.25 L345.86,451.65 L345.99,452.03 L346.12,452.41 L346.25,452.79 L346.38,453.15 L346.50,453.51 L346.63,453.86 L346.76,454.20 L346.89,454.53 L347.02,454.86 L347.14,455.18 L347.27,455.49 L347.40,455.80 L347.53,456.10 L347.66,456.39 L347.79,456.67 L347.91,456.95 L348.04,457.23 L348.17,457.50 L348.30,457.76 L348.43,458.01 L348.55,458.26 L348.68,458.51 L348.81,458.74 L348.94,458.98 L349.07,459.20 L349.20,459.43 L349.32,459.64 L349.45,459.86 L349.58,460.06 L349.71,460.26 L349.84,460.46 L349.96,460.65 L350.09,460.84 L350.22,461.02 L350.35,461.20 L350.48,461.38 L350.61,461.54 L350.73,461.71 L350.86,461.87 L350.99,462.03 L351.12,462.18 L351.25,462.33 L351.37,462.47 L351.50,462.61 L351.63,462.75 L351.76,462.88 L351.89,463.01 L352.01,463.13 L352.14,463.25 L352.27,463.37 L352.40,463.48 L352.53,463.59 L352.66,463.70 L352.78,463.80 L352.91,463.90 L353.04,464.00 L353.17,464.09 L353.30,464.18 L353.42,464.26 L353.55,464.34 L353.68,464.42 L353.81,464.50 L353.94,464.57 L354.07,464.64 L354.19,464.70 L354.32,464.76 L354.45,464.82 L354.58,464.87 L354.71,464.92 L354.83,464.97 L354.96,465.01 L355.09,465.05 L355.22,465.09 L355.35,465.12 L355.48,465.15 L355.60,465.17 L355.73,465.19 L355.86,465.21 L355.99,465.22 L356.12,465.23 L356.24,465.24 L356.37,465.24 L356.50,465.23 L356.63,465.23 L356.76,465.21 L356.89,465.19 L357.01,465.17 L357.14,465.14 L357.27,465.11 L357.40,465.07 L357.53,465.02 L357.65,464.97 L357.78,464.92 L357.91,464.85 L358.04,464.78 L358.17,464.70 L358.30,464.62 L358.42,464.52 L358.55,464.42 L358.68,464.31 L358.81,464.19 L358.94,464.05 L359.06,463.91 L359.19,463.76 L359.32,463.60 L359.45,463.42 L359.58,463.23 L359.70,463.02 L359.83,462.80 L359.96,462.57 L360.09,462.31 L360.22,462.04 L360.35,461.75 L360.47,461.43 L360.60,461.10 L360.73,460.73 L360.86,460.35 L360.99,459.93 L361.11,459.49 L361.24,459.01 L361.37,458.50 L361.50,457.95 L361.63,457.36 L361.76,456.73 L361.88,456.05 L362.01,455.33 L362.14,454.55 L362.27,453.72 L362.40,452.82 L362.52,451.87 L362.65,450.85 L362.78,449.76 L362.91,448.59 L363.04,447.35 L363.17,446.02 L363.29,444.61 L363.42,443.11 L363.55,441.52 L363.68,439.84 L363.81,438.06 L363.93,436.19 L364.06,434.23 L364.19,432.17 L364.32,430.02 L364.45,427.79 L364.58,425.48 L364.70,423.10 L364.83,420.66 L364.96,418.17 L365.09,415.63 L365.22,413.08 L365.34,410.51 L365.47,407.96 L365.60,405.43 L365.73,402.94 L365.86,400.51 L365.99,398.16 L366.11,395.90 L366.24,393.75 L366.37,391.71 L366.50,389.82 L366.63,388.06 L366.75,386.46 L366.88,385.01 L367.01,383.72 L367.14,382.60 L367.27,381.63 L367.39,380.83 L367.52,380.19 L367.65,379.70 L367.78,379.36 L367.91,379.16 L368.04,379.09 L368.16,379.15 L368.29,379.34 L368.42,379.63 L368.55,380.02 L368.68,380.51 L368.80,381.09 L368.93,381.75 L369.06,382.48 L369.19,383.27 L369.32,384.13 L369.45,385.03 L369.57,385.98 L369.70,386.98 L369.83,388.01 L369.96,389.07 L370.09,390.15 L370.21,391.26 L370.34,392.39 L370.47,393.53 L370.60,394.68 L370.73,395.84 L370.86,397.01 L370.98,398.18 L371.11,399.36 L371.24,400.53 L371.37,401.70 L371.50,402.87 L371.62,404.04 L371.75,405.19 L371.88,406.34 L372.01,407.48 L372.14,408.61 L372.27,409.73 L372.39,410.84 L372.52,411.94 L372.65,413.02 L372.78,414.09 L372.91,415.15 L373.03,416.20 L373.16,417.23 L373.29,418.24 L373.42,419.24 L373.55,420.23 L373.68,421.20 L373.80,422.16 L373.93,423.10 L374.06,424.03 L374.19,424.94 L374.32,425.84 L374.44,426.72 L374.57,427.59 L374.70,428.44 L374.83,429.28 L374.96,430.11 L375.08,430.91 L375.21,431.71 L375.34,432.49 L375.47,433.26 L375.60,434.01 L375.73,434.75 L375.85,435.47 L375.98,436.18 L376.11,436.88 L376.24,437.56 L376.37,438.23 L376.49,438.89 L376.62,439.54 L376.75,440.17 L376.88,440.79 L377.01,441.40 L377.14,442.00 L377.26,442.58 L377.39,443.16 L377.52,443.72 L377.65,444.27 L377.78,444.81 L377.90,445.34 L378.03,445.86 L378.16,446.37 L378.29,446.86 L378.42,447.35 L378.55,447.83 L378.67,448.30 L378.80,448.76 L378.93,449.20 L379.06,449.64 L379.19,450.07 L379.31,450.50 L379.44,450.91 L379.57,451.31 L379.70,451.71 L379.83,452.10 L379.96,452.47 L380.08,452.85 L380.21,453.21 L380.34,453.56 L380.47,453.91 L380.60,454.25 L380.72,454.58 L380.85,454.91 L380.98,455.23 L381.11,455.54 L381.24,455.84 L381.37,456.14 L381.49,456.43 L381.62,456.72 L381.75,457.00 L381.88,457.27 L382.01,457.54 L382.13,457.80 L382.26,458.05 L382.39,458.30 L382.52,458.54 L382.65,458.78 L382.78,459.01 L382.90,459.24 L383.03,459.46 L383.16,459.68 L383.29,459.89 L383.42,460.10 L383.54,460.30 L383.67,460.49 L383.80,460.68 L383.93,460.87 L384.06,461.05 L384.18,461.23 L384.31,461.40 L384.44,461.57 L384.57,461.74 L384.70,461.90 L384.83,462.05 L384.95,462.20 L385.08,462.35 L385.21,462.49 L385.34,462.63 L385.47,462.77 L385.59,462.90 L385.72,463.03 L385.85,463.15 L385.98,463.27 L386.11,463.39 L386.24,463.50 L386.36,463.61 L386.49,463.72 L386.62,463.82 L386.75,463.92 L386.88,464.01 L387.00,464.10 L387.13,464.19 L387.26,464.28 L387.39,464.36 L387.52,464.43 L387.65,464.51 L387.77,464.58 L387.90,464.65 L388.03,464.71 L388.16,464.77 L388.29,464.83 L388.41,464.88 L388.54,464.93 L388.67,464.98 L388.80,465.02 L388.93,465.06 L389.06,465.09 L389.18,465.13 L389.31,465.15 L389.44,465.18 L389.57,465.20 L389.70,465.21 L389.82,465.23 L389.95,465.23 L390.08,465.24 L390.21,465.24 L390.34,465.23 L390.47,465.22 L390.59,465.21 L390.72,465.19 L390.85,465.17 L390.98,465.14 L391.11,465.10 L391.23,465.06 L391.36,465.02 L391.49,464.96 L391.62,464.91 L391.75,464.84 L391.87,464.77 L392.00,464.69 L392.13,464.60 L392.26,464.51 L392.39,464.40 L392.52,464.29 L392.64,464.17 L392.77,464.03 L392.90,463.89 L393.03,463.73 L393.16,463.57 L393.28,463.39 L393.41,463.20 L393.54,462.99 L393.67,462.77 L393.80,462.53 L393.93,462.27 L394.05,461.99 L394.18,461.70 L394.31,461.38 L394.44,461.04 L394.57,460.67 L394.69,460.28 L394.82,459.86 L394.95,459.41 L395.08,458.93 L395.21,458.41 L395.34,457.86 L395.46,457.26 L395.59,456.62 L395.72,455.94 L395.85,455.21 L395.98,454.42 L396.10,453.58 L396.23,452.68 L396.36,451.71 L396.49,450.68 L396.62,449.58 L396.75,448.40 L396.87,447.14 L397.00,445.80 L397.13,444.38 L397.26,442.87 L397.39,441.26 L397.51,439.56 L397.64,437.77 L397.77,435.89 L397.90,433.91 L398.03,431.84 L398.16,429.67 L398.28,427.43 L398.41,425.11 L398.54,422.72 L398.67,420.26 L398.80,417.76 L398.92,415.23 L399.05,412.67 L399.18,410.11 L399.31,407.55 L399.44,405.03 L399.56,402.55 L399.69,400.13 L399.82,397.79 L399.95,395.55 L400.08,393.41 L400.21,391.40 L400.33,389.53 L400.46,387.79 L400.59,386.21 L400.72,384.79 L400.85,383.53 L400.97,382.43 L401.10,381.50 L401.23,380.72 L401.36,380.10 L401.49,379.64 L401.62,379.32 L401.74,379.14 L401.87,379.09 L402.00,379.18 L402.13,379.37 L402.26,379.68 L402.38,380.09 L402.51,380.60 L402.64,381.19 L402.77,381.86 L402.90,382.60 L403.03,383.40 L403.15,384.27 L403.28,385.18 L403.41,386.14 L403.54,387.14 L403.67,388.17 L403.79,389.24 L403.92,390.33 L404.05,391.44 L404.18,392.57 L404.31,393.71 L404.44,394.87 L404.56,396.03 L404.69,397.20 L404.82,398.37 L404.95,399.55 L405.08,400.72 L405.20,401.89 L405.33,403.06 L405.46,404.22 L405.59,405.38 L405.72,406.52 L405.85,407.66 L405.97,408.79 L406.10,409.91 L406.23,411.02 L406.36,412.11 L406.49,413.19 L406.61,414.26 L406.74,415.32 L406.87,416.36 L407.00,417.39 L407.13,418.40 L407.25,419.40 L407.38,420.39 L407.51,421.36 L407.64,422.31 L407.77,423.25 L407.90,424.18 L408.02,425.09 L408.15,425.98 L408.28,426.86 L408.41,427.73 L408.54,428.58 L408.66,429.41 L408.79,430.24 L408.92,431.04 L409.05,431.83 L409.18,432.61 L409.31,433.38 L409.43,434.13 L409.56,434.86 L409.69,435.58 L409.82,436.29 L409.95,436.99 L410.07,437.67 L410.20,438.34 L410.33,439.00 L410.46,439.64 L410.59,440.27 L410.72,440.89 L410.84,441.50 L410.97,442.09 L411.10,442.68 L411.23,443.25 L411.36,443.81 L411.48,444.36 L411.61,444.90 L411.74,445.42 L411.87,445.94 L412.00,446.45 L412.13,446.94 L412.25,447.43 L412.38,447.90 L412.51,448.37 L412.64,448.83 L412.77,449.28 L412.89,449.71 L413.02,450.14 L413.15,450.56 L413.28,450.97 L413.41,451.38 L413.54,451.77 L413.66,452.16 L413.79,452.53 L413.92,452.90 L414.05,453.27 L414.18,453.62 L414.30,453.97 L414.43,454.30 L414.56,454.64 L414.69,454.96 L414.82,455.28 L414.94,455.59 L415.07,455.89 L415.20,456.19 L415.33,456.48 L415.46,456.76 L415.59,457.04 L415.71,457.31 L415.84,457.58 L415.97,457.84 L416.10,458.09 L416.23,458.34 L416.35,458.58 L416.48,458.82 L416.61,459.05 L416.74,459.28 L416.87,459.50 L417.00,459.71 L417.12,459.92 L417.25,460.13 L417.38,460.33 L417.51,460.52 L417.64,460.71 L417.76,460.90 L417.89,461.08 L418.02,461.26 L418.15,461.43 L418.28,461.60 L418.41,461.76 L418.53,461.92 L418.66,462.08 L418.79,462.23 L418.92,462.37 L419.05,462.52 L419.17,462.66 L419.30,462.79 L419.43,462.92 L419.56,463.05 L419.69,463.17 L419.82,463.29 L419.94,463.41 L420.07,463.52 L420.20,463.63 L420.33,463.73 L420.46,463.83 L420.58,463.93 L420.71,464.03 L420.84,464.12 L420.97,464.21 L421.10,464.29 L421.23,464.37 L421.35,464.45 L421.48,464.52 L421.61,464.59 L421.74,464.66 L421.87,464.72 L421.99,464.78 L422.12,464.84 L422.25,464.89 L422.38,464.94 L422.51,464.98 L422.63,465.03 L422.76,465.06 L422.89,465.10 L423.02,465.13 L423.15,465.16 L423.28,465.18 L423.40,465.20 L423.53,465.22 L423.66,465.23 L423.79,465.24 L423.92,465.24 L424.04,465.24 L424.17,465.23 L424.30,465.22 L424.43,465.21 L424.56,465.19 L424.69,465.16 L424.81,465.13 L424.94,465.10 L425.07,465.06 L425.20,465.01 L425.33,464.96 L425.45,464.90 L425.58,464.83 L425.71,464.76 L425.84,464.68 L425.97,464.59 L426.10,464.49 L426.22,464.38 L426.35,464.27 L426.48,464.15 L426.61,464.01 L426.74,463.87 L426.86,463.71 L426.99,463.54 L427.12,463.36 L427.25,463.16 L427.38,462.95 L427.51,462.73 L427.63,462.49 L427.76,462.23 L427.89,461.95 L428.02,461.65 L428.15,461.33 L428.27,460.98 L428.40,460.61 L428.53,460.22 L428.66,459.79 L428.79,459.34 L428.92,458.85 L429.04,458.33 L429.17,457.77 L429.30,457.16 L429.43,456.52 L429.56,455.83 L429.68,455.08 L429.81,454.29 L429.94,453.44 L430.07,452.53 L430.20,451.55 L430.32,450.51 L430.45,449.39 L430.58,448.20 L430.71,446.93 L430.84,445.58 L430.97,444.14 L431.09,442.62 L431.22,441.00 L431.35,439.29 L431.48,437.48 L431.61,435.58 L431.73,433.58 L431.86,431.50 L431.99,429.32 L432.12,427.07 L432.25,424.73 L432.38,422.33 L432.50,419.87 L432.63,417.36 L432.76,414.82 L432.89,412.26 L433.02,409.70 L433.14,407.15 L433.27,404.63 L433.40,402.16 L433.53,399.75 L433.66,397.43 L433.79,395.20 L433.91,393.09 L434.04,391.09 L434.17,389.24 L434.30,387.53 L434.43,385.98 L434.55,384.58 L434.68,383.35 L434.81,382.27 L434.94,381.36 L435.07,380.61 L435.20,380.02 L435.32,379.58 L435.45,379.28 L435.58,379.12 L435.71,379.10 L435.84,379.20 L435.96,379.42 L436.09,379.74 L436.22,380.17 L436.35,380.69 L436.48,381.29 L436.61,381.97 L436.73,382.72 L436.86,383.54 L436.99,384.41 L437.12,385.33 L437.25,386.30 L437.37,387.30 L437.50,388.34 L437.63,389.41 L437.76,390.50 L437.89,391.62 L438.01,392.75 L438.14,393.89 L438.27,395.05 L438.40,396.21 L438.53,397.38 L438.66,398.56 L438.78,399.73 L438.91,400.91 L439.04,402.08 L439.17,403.24 L439.30,404.40 L439.42,405.56 L439.55,406.70 L439.68,407.84 L439.81,408.97 L439.94,410.09 L440.07,411.19 L440.19,412.28 L440.32,413.36 L440.45,414.43 L440.58,415.49 L440.71,416.53 L440.83,417.55 L440.96,418.56 L441.09,419.56 L441.22,420.54 L441.35,421.51 L441.48,422.46 L441.60,423.40 L441.73,424.32 L441.86,425.23 L441.99,426.12 L442.12,427.00 L442.24,427.86 L442.37,428.71 L442.50,429.55 L442.63,430.36 L442.76,431.17 L442.89,431.96 L443.01,432.73 L443.14,433.50 L443.27,434.24 L443.40,434.98 L443.53,435.70 L443.65,436.40 L443.78,437.10 L443.91,437.78 L444.04,438.45 L444.17,439.10 L444.30,439.74 L444.42,440.37 L444.55,440.99 L444.68,441.59 L444.81,442.19 L444.94,442.77 L445.06,443.34 L445.19,443.90 L445.32,444.44 L445.45,444.98 L445.58,445.51 L445.70,446.02 L445.83,446.53 L445.96,447.02 L446.09,447.51 L446.22,447.98 L446.35,448.44 L446.47,448.90 L446.60,449.35 L446.73,449.78 L446.86,450.21 L446.99,450.63 L447.11,451.04 L447.24,451.44 L447.37,451.83 L447.50,452.22 L447.63,452.59 L447.76,452.96 L447.88,453.32 L448.01,453.67 L448.14,454.02 L448.27,454.36 L448.40,454.69 L448.52,455.01 L448.65,455.33 L448.78,455.64 L448.91,455.94 L449.04,456.24 L449.17,456.53 L449.29,456.81 L449.42,457.09 L449.55,457.36 L449.68,457.62 L449.81,457.88 L449.93,458.13 L450.06,458.38 L450.19,458.62 L450.32,458.86 L450.45,459.09 L450.58,459.31 L450.70,459.53 L450.83,459.75 L450.96,459.96 L451.09,460.16 L451.22,460.36 L451.34,460.55 L451.47,460.74 L451.60,460.93 L451.73,461.11 L451.86,461.29 L451.99,461.46 L452.11,461.62 L452.24,461.79 L452.37,461.95 L452.50,462.10 L452.63,462.25 L452.75,462.40 L452.88,462.54 L453.01,462.68 L453.14,462.81 L453.27,462.94 L453.39,463.07 L453.52,463.19 L453.65,463.31 L453.78,463.43 L453.91,463.54 L454.04,463.65 L454.16,463.75 L454.29,463.85 L454.42,463.95 L454.55,464.04 L454.68,464.13 L454.80,464.22 L454.93,464.30 L455.06,464.38 L455.19,464.46 L455.32,464.53 L455.45,464.60 L455.57,464.67 L455.70,464.73 L455.83,464.79 L455.96,464.84 L456.09,464.90 L456.21,464.95 L456.34,464.99 L456.47,465.03 L456.60,465.07 L456.73,465.10 L456.86,465.13 L456.98,465.16 L457.11,465.18 L457.24,465.20 L457.37,465.22 L457.50,465.23 L457.62,465.24 L457.75,465.24 L457.88,465.24 L458.01,465.23 L458.14,465.22 L458.27,465.20 L458.39,465.18 L458.52,465.16 L458.65,465.13 L458.78,465.09 L458.91,465.05 L459.03,465.00 L459.16,464.95 L459.29,464.89 L459.42,464.82 L459.55,464.74 L459.68,464.66 L459.80,464.57 L459.93,464.47 L460.06,464.37 L460.19,464.25 L460.32,464.12 L460.44,463.99 L460.57,463.84 L460.70,463.68 L460.83,463.51 L460.96,463.33 L461.08,463.13 L461.21,462.92 L461.34,462.69 L461.47,462.45 L461.60,462.18 L461.73,461.90 L461.85,461.60 L461.98,461.27 L462.11,460.93 L462.24,460.55 L462.37,460.15 L462.49,459.72 L462.62,459.26 L462.75,458.77 L462.88,458.24 L463.01,457.67 L463.14,457.06 L463.26,456.41 L463.39,455.71 L463.52,454.96 L463.65,454.16 L463.78,453.30 L463.90,452.38 L464.03,451.39 L464.16,450.34 L464.29,449.21 L464.42,448.01 L464.55,446.73 L464.67,445.36 L464.80,443.91 L464.93,442.37 L465.06,440.73 L465.19,439.00 L465.31,437.18 L465.44,435.27 L465.57,433.26 L465.70,431.16 L465.83,428.97 L465.96,426.70 L466.08,424.35 L466.21,421.94 L466.34,419.47 L466.47,416.96 L466.60,414.42 L466.72,411.85 L466.85,409.29 L466.98,406.75 L467.11,404.23 L467.24,401.77 L467.37,399.38 L467.49,397.07 L467.62,394.86 L467.75,392.76 L467.88,390.79 L468.01,388.96 L468.13,387.27 L468.26,385.74 L468.39,384.37 L468.52,383.16 L468.65,382.12 L468.77,381.23 L468.90,380.51 L469.03,379.94 L469.16,379.52 L469.29,379.25 L469.42,379.11 L469.54,379.11 L469.67,379.23 L469.80,379.46 L469.93,379.80 L470.06,380.25 L470.18,380.78 L470.31,381.40 L470.44,382.09 L470.57,382.85 L470.70,383.67 L470.83,384.55 L470.95,385.48 L471.08,386.45 L471.21,387.46 L471.34,388.51 L471.47,389.58 L471.59,390.68 L471.72,391.79 L471.85,392.93 L471.98,394.08 L472.11,395.23 L472.24,396.40 L472.36,397.57 L472.49,398.75 L472.62,399.92 L472.75,401.09 L472.88,402.26 L473.00,403.43 L473.13,404.59 L473.26,405.74 L473.39,406.89 L473.52,408.02 L473.65,409.15 L473.77,410.26 L473.90,411.37 L474.03,412.46 L474.16,413.53 L474.29,414.60 L474.41,415.65 L474.54,416.69 L474.67,417.71 L474.80,418.72 L474.93,419.72 L475.06,420.70 L475.18,421.66 L475.31,422.61 L475.44,423.55 L475.57,424.47 L475.70,425.37 L475.82,426.26 L475.95,427.14 L476.08,428.00 L476.21,428.85 L476.34,429.68 L476.46,430.49 L476.59,431.30 L476.72,432.08 L476.85,432.86 L476.98,433.62 L477.11,434.36 L477.23,435.09 L477.36,435.81 L477.49,436.52 L477.62,437.21 L477.75,437.89 L477.87,438.55 L478.00,439.20 L478.13,439.84 L478.26,440.47 L478.39,441.09 L478.52,441.69 L478.64,442.28 L478.77,442.86 L478.90,443.43 L479.03,443.98 L479.16,444.53 L479.28,445.07 L479.41,445.59 L479.54,446.10 L479.67,446.61 L479.80,447.10 L479.93,447.58 L480.05,448.05 L480.18,448.52 L480.31,448.97 L480.44,449.42 L480.57,449.85 L480.69,450.28 L480.82,450.69 L480.95,451.10 L481.08,451.50 L481.21,451.89 L481.34,452.28 L481.46,452.65 L481.59,453.02 L481.72,453.38 L481.85,453.73 L481.98,454.07 L482.10,454.41 L482.23,454.74 L482.36,455.06 L482.49,455.38 L482.62,455.69 L482.75,455.99 L482.87,456.28 L483.00,456.57 L483.13,456.85 L483.26,457.13 L483.39,457.40 L483.51,457.66 L483.64,457.92 L483.77,458.17 L483.90,458.42 L484.03,458.66 L484.15,458.89 L484.28,459.12 L484.41,459.35 L484.54,459.57 L484.67,459.78 L484.80,459.99 L484.92,460.19 L485.05,460.39 L485.18,460.58 L485.31,460.77 L485.44,460.96 L485.56,461.14 L485.69,461.31 L485.82,461.48 L485.95,461.65 L486.08,461.81 L486.21,461.97 L486.33,462.12 L486.46,462.27 L486.59,462.42 L486.72,462.56 L486.85,462.70 L486.97,462.83 L487.10,462.96 L487.23,463.09 L487.36,463.21 L487.49,463.33 L487.62,463.44 L487.74,463.55 L487.87,463.66 L488.00,463.77 L488.13,463.87 L488.26,463.96 L488.38,464.06 L488.51,464.15 L488.64,464.23 L488.77,464.31 L488.90,464.39 L489.03,464.47 L489.15,464.54 L489.28,464.61 L489.41,464.68 L489.54,464.74 L489.67,464.80 L489.79,464.85 L489.92,464.90 L490.05,464.95 L490.18,465.00 L490.31,465.04 L490.44,465.08 L490.56,465.11 L490.69,465.14 L490.82,465.17 L490.95,465.19 L491.08,465.21 L491.20,465.22 L491.33,465.23 L491.46,465.24 L491.59,465.24 L491.72,465.24 L491.84,465.23 L491.97,465.22 L492.10,465.20 L492.23,465.18 L492.36,465.15 L492.49,465.12 L492.61,465.08 L492.74,465.04 L492.87,464.99 L493.00,464.94 L493.13,464.88 L493.25,464.81 L493.38,464.73 L493.51,464.65 L493.64,464.56 L493.77,464.46 L493.90,464.35 L494.02,464.23 L494.15,464.10 L494.28,463.97 L494.41,463.82 L494.54,463.66 L494.66,463.48 L494.79,463.30 L494.92,463.10 L495.05,462.88 L495.18,462.65 L495.31,462.41 L495.43,462.14 L495.56,461.85 L495.69,461.55 L495.82,461.22 L495.95,460.87 L496.07,460.49 L496.20,460.09 L496.33,459.65 L496.46,459.19 L496.59,458.69 L496.72,458.15 L496.84,457.58 L496.97,456.96 L497.10,456.30 L497.23,455.60 L497.36,454.84 L497.48,454.03 L497.61,453.16 L497.74,452.22 L497.87,451.23 L498.00,450.16 L498.12,449.02 L498.25,447.81 L498.38,446.51 L498.51,445.13 L498.64,443.67 L498.77,442.11 L498.89,440.46 L499.02,438.72 L499.15,436.88 L499.28,434.95 L499.41,432.93 L499.53,430.81 L499.66,428.61 L499.79,426.33 L499.92,423.97 L500.05,421.55 L500.18,419.08 L500.30,416.56 L500.43,414.01 L500.56,411.45 L500.69,408.89 L500.82,406.34 L500.94,403.84 L501.07,401.38 L501.20,399.00 L501.33,396.71 L501.46,394.51 L501.59,392.44 L501.71,390.49 L501.84,388.68 L501.97,387.02 L502.10,385.52 L502.23,384.17 L502.35,382.99 L502.48,381.96 L502.61,381.11 L502.74,380.41 L502.87,379.86 L503.00,379.47 L503.12,379.22 L503.25,379.10 L503.38,379.12 L503.51,379.26 L503.64,379.51 L503.76,379.87 L503.89,380.32 L504.02,380.87 L504.15,381.50 L504.28,382.20 L504.41,382.98 L504.53,383.81 L504.66,384.70 L504.79,385.63 L504.92,386.61 L505.05,387.63 L505.17,388.68 L505.30,389.75 L505.43,390.85 L505.56,391.97 L505.69,393.11 L505.81,394.26 L505.94,395.42 L506.07,396.59 L506.20,397.76 L506.33,398.93 L506.46,400.11 L506.58,401.28 L506.71,402.45 L506.84,403.61 L506.97,404.77 L507.10,405.92 L507.22,407.07 L507.35,408.20 L507.48,409.33 L507.61,410.44 L507.74,411.54 L507.87,412.63 L507.99,413.71 L508.12,414.77 L508.25,415.82 L508.38,416.85 L508.51,417.88 L508.63,418.88 L508.76,419.87 L508.89,420.85 L509.02,421.82 L509.15,422.76 L509.28,423.70 L509.40,424.61 L509.53,425.52 L509.66,426.40 L509.79,427.28 L509.92,428.14 L510.04,428.98 L510.17,429.81 L510.30,430.62 L510.43,431.42 L510.56,432.21 L510.69,432.98 L510.81,433.74 L510.94,434.48 L511.07,435.21 L511.20,435.92 L511.33,436.63 L511.45,437.32 L511.58,437.99 L511.71,438.65 L511.84,439.31 L511.97,439.94 L512.10,440.57 L512.22,441.18 L512.35,441.78 L512.48,442.37 L512.61,442.95 L512.74,443.52 L512.86,444.07 L512.99,444.62 L513.12,445.15 L513.25,445.67 L513.38,446.18 L513.50,446.68 L513.63,447.18 L513.76,447.66 L513.89,448.13 L514.02,448.59 L514.15,449.04 L514.27,449.49 L514.40,449.92 L514.53,450.34 L514.66,450.76 L514.79,451.17 L514.91,451.57 L515.04,451.96 L515.17,452.34 L515.30,452.71 L515.43,453.08 L515.56,453.44 L515.68,453.79 L515.81,454.13 L515.94,454.46 L516.07,454.79 L516.20,455.11 L516.32,455.43 L516.45,455.74 L516.58,456.04 L516.71,456.33 L516.84,456.62 L516.97,456.90 L517.09,457.17 L517.22,457.44 L517.35,457.70 L517.48,457.96 L517.61,458.21 L517.73,458.46 L517.86,458.70 L517.99,458.93 L518.12,459.16 L518.25,459.38 L518.38,459.60 L518.50,459.81 L518.63,460.02 L518.76,460.22 L518.89,460.42 L519.02,460.61 L519.14,460.80 L519.27,460.99 L519.40,461.17 L519.53,461.34 L519.66,461.51 L519.79,461.68 L519.91,461.84 L520.04,462.00 L520.17,462.15 L520.30,462.30 L520.43,462.44 L520.55,462.58 L520.68,462.72 L520.81,462.85 L520.94,462.98 L521.07,463.11 L521.19,463.23 L521.32,463.35 L521.45,463.46 L521.58,463.57 L521.71,463.68 L521.84,463.78 L521.96,463.88 L522.09,463.98 L522.22,464.07 L522.35,464.16 L522.48,464.25 L522.60,464.33 L522.73,464.41 L522.86,464.48 L522.99,464.55 L523.12,464.62 L523.25,464.69 L523.37,464.75 L523.50,464.81 L523.63,464.86 L523.76,464.91 L523.89,464.96 L524.01,465.00 L524.14,465.04 L524.27,465.08 L524.40,465.11 L524.53,465.14 L524.66,465.17 L524.78,465.19 L524.91,465.21 L525.04,465.22 L525.17,465.23 L525.30,465.24 L525.42,465.24 L525.55,465.24 L525.68,465.23 L525.81,465.22 L525.94,465.20 L526.07,465.18 L526.19,465.15 L526.32,465.12 L526.45,465.08 L526.58,465.03 L526.71,464.98 L526.83,464.93 L526.96,464.86 L527.09,464.80 L527.22,464.72 L527.35,464.63 L527.48,464.54 L527.60,464.44 L527.73,464.33 L527.86,464.21 L527.99,464.08 L528.12,463.94 L528.24,463.79 L528.37,463.63 L528.50,463.46 L528.63,463.27 L528.76,463.07 L528.88,462.85 L529.01,462.61 L529.14,462.36 L529.27,462.10 L529.40,461.81 L529.53,461.50 L529.65,461.17 L529.78,460.81 L529.91,460.43 L530.04,460.02 L530.17,459.58 L530.29,459.11 L530.42,458.60 L530.55,458.06 L530.68,457.48 L530.81,456.86 L530.94,456.19 L531.06,455.48 L531.19,454.71 L531.32,453.89 L531.45,453.01 L531.58,452.07 L531.70,451.06 L531.83,449.99 L531.96,448.84 L532.09,447.61 L532.22,446.30 L532.35,444.91 L532.47,443.43 L532.60,441.86 L532.73,440.19 L532.86,438.43 L532.99,436.58 L533.11,434.64 L533.24,432.60 L533.37,430.47 L533.50,428.25 L533.63,425.96 L533.76,423.59 L533.88,421.16 L534.01,418.68 L534.14,416.15 L534.27,413.60 L534.40,411.04 L534.52,408.48 L534.65,405.94 L534.78,403.44 L534.91,401.00 L535.04,398.63 L535.17,396.35 L535.29,394.18 L535.42,392.12 L535.55,390.19 L535.68,388.41 L535.81,386.77 L535.93,385.29 L536.06,383.97 L536.19,382.81 L536.32,381.82 L536.45,380.98 L536.58,380.31 L536.70,379.79 L536.83,379.42 L536.96,379.19 L537.09,379.10 L537.22,379.13 L537.34,379.29 L537.47,379.56 L537.60,379.93 L537.73,380.41 L537.86,380.97 L537.98,381.61 L538.11,382.32 L538.24,383.11 L538.37,383.95 L538.50,384.84 L538.63,385.79 L538.75,386.77 L538.88,387.79 L539.01,388.85 L539.14,389.93 L539.27,391.03 L539.39,392.15 L539.52,393.29 L539.65,394.44 L539.78,395.61 L539.91,396.77 L540.04,397.94 L540.16,399.12 L540.29,400.29 L540.42,401.47 L540.55,402.63 L540.68,403.80 L540.80,404.96 L540.93,406.11 L541.06,407.25 L541.19,408.38 L541.32,409.50 L541.45,410.61 L541.57,411.71 L541.70,412.80 L541.83,413.88 L541.96,414.94 L542.09,415.98 L542.21,417.02 L542.34,418.04 L542.47,419.04 L542.60,420.03 L542.73,421.01 L542.86,421.97 L542.98,422.91 L543.11,423.84 L543.24,424.76 L543.37,425.66 L543.50,426.54 L543.62,427.42 L543.75,428.27 L543.88,429.11 L544.01,429.94 L544.14,430.75 L544.26,431.55 L544.39,432.33 L544.52,433.10 L544.65,433.86 L544.78,434.60 L544.91,435.32 L545.03,436.04 L545.16,436.74 L545.29,437.42 L545.42,438.10 L545.55,438.76 L545.67,439.41 L545.80,440.04 L545.93,440.67 L546.06,441.28 L546.19,441.88 L546.32,442.47 L546.44,443.04 L546.57,443.61 L546.70,444.16 L546.83,444.70 L546.96,445.23 L547.08,445.75 L547.21,446.26 L547.34,446.76 L547.47,447.25 L547.60,447.73 L547.73,448.20 L547.85,448.66 L547.98,449.11 L548.11,449.56 L548.24,449.99 L548.37,450.41 L548.49,450.83 L548.62,451.23 L548.75,451.63 L548.88,452.02 L549.01,452.40 L549.14,452.77 L549.26,453.13 L549.39,453.49 L549.52,453.84 L549.65,454.18 L549.78,454.52 L549.90,454.84 L550.03,455.16 L550.16,455.48 L550.29,455.78 L550.42,456.08 L550.55,456.38 L550.67,456.66 L550.80,456.94 L550.93,457.22 L551.06,457.48 L551.19,457.75 L551.31,458.00 L551.44,458.25 L551.57,458.50 L551.70,458.73 L551.83,458.97 L551.96,459.19 L552.08,459.42 L552.21,459.63 L552.34,459.85 L552.47,460.05 L552.60,460.26 L552.72,460.45 L552.85,460.64 L552.98,460.83 L553.11,461.02 L553.24,461.19 L553.36,461.37 L553.49,461.54 L553.62,461.70 L553.75,461.86 L553.88,462.02 L554.01,462.17 L554.13,462.32 L554.26,462.47 L554.39,462.61 L554.52,462.74 L554.65,462.87 L554.77,463.00 L554.90,463.13 L555.03,463.25 L555.16,463.37 L555.29,463.48 L555.42,463.59 L555.54,463.70 L555.67,463.80 L555.80,463.90 L555.93,463.99 L556.06,464.09 L556.18,464.17 L556.31,464.26 L556.44,464.34 L556.57,464.42 L556.70,464.49 L556.83,464.56 L556.95,464.63 L557.08,464.70 L557.21,464.76 L557.34,464.82 L557.47,464.87 L557.59,464.92 L557.72,464.97 L557.85,465.01 L557.98,465.05 L558.11,465.09 L558.24,465.12 L558.36,465.15 L558.49,465.17 L558.62,465.19 L558.75,465.21 L558.88,465.22 L559.00,465.23 L559.13,465.24 L559.26,465.24 L559.39,465.23 L559.52,465.23 L559.64,465.21 L559.77,465.20 L559.90,465.17 L560.03,465.14 L560.16,465.11 L560.29,465.07 L560.41,465.03 L560.54,464.98 L560.67,464.92 L560.80,464.85 L560.93,464.78 L561.05,464.71 L561.18,464.62 L561.31,464.53 L561.44,464.42 L561.57,464.31 L561.70,464.19 L561.82,464.06 L561.95,463.92 L562.08,463.77 L562.21,463.60 L562.34,463.43 L562.46,463.24 L562.59,463.03 L562.72,462.81 L562.85,462.58 L562.98,462.32 L563.11,462.05 L563.23,461.76 L563.36,461.45 L563.49,461.11 L563.62,460.75 L563.75,460.36 L563.87,459.95 L564.00,459.51 L564.13,459.03 L564.26,458.52 L564.39,457.97 L564.52,457.39 L564.64,456.76 L564.77,456.08 L564.90,455.36 L565.03,454.59 L565.16,453.75 L565.28,452.87 L565.41,451.91 L565.54,450.90 L565.67,449.81 L565.80,448.65 L565.93,447.41 L566.05,446.08 L566.18,444.68 L566.31,443.18 L566.44,441.60 L566.57,439.92 L566.69,438.15 L566.82,436.28 L566.95,434.32 L567.08,432.27 L567.21,430.12 L567.34,427.89 L567.46,425.59 L567.59,423.21 L567.72,420.77 L567.85,418.28 L567.98,415.75 L568.10,413.19 L568.23,410.63 L568.36,408.07 L568.49,405.54 L568.62,403.05 L568.74,400.62 L568.87,398.26 L569.00,396.00 L569.13,393.84 L569.26,391.80 L569.39,389.90 L569.51,388.14 L569.64,386.52 L569.77,385.07 L569.90,383.77 L570.03,382.64 L570.15,381.67 L570.28,380.87 L570.41,380.22 L570.54,379.72 L570.67,379.37 L570.80,379.16 L570.92,379.09 L571.05,379.15 L571.18,379.32 L571.31,379.61 L571.44,380.00 L571.56,380.49 L571.69,381.06 L571.82,381.72 L571.95,382.44 L572.08,383.24 L572.21,384.09 L572.33,384.99 L572.46,385.94 L572.59,386.93 L572.72,387.96 L572.85,389.02 L572.97,390.10 L573.10,391.21 L573.23,392.33 L573.36,393.48 L573.49,394.63 L573.62,395.79 L573.74,396.96 L573.87,398.13 L574.00,399.31 L574.13,400.48 L574.26,401.65 L574.38,402.82 L574.51,403.98 L574.64,405.14 L574.77,406.29 L574.90,407.43 L575.02,408.56 L575.15,409.68 L575.28,410.79 L575.41,411.89 L575.54,412.97 L575.67,414.05 L575.79,415.10 L575.92,416.15 L576.05,417.18 L576.18,418.20 L576.31,419.20 L576.43,420.19 L576.56,421.16 L576.69,422.12 L576.82,423.06 L576.95,423.99 L577.08,424.90 L577.20,425.80 L577.33,426.68 L577.46,427.55 L577.59,428.41 L577.72,429.25 L577.84,430.07 L577.97,430.88 L578.10,431.67 L578.23,432.45 L578.36,433.22 L578.49,433.97 L578.61,434.71 L578.74,435.44 L578.87,436.15 L579.00,436.85 L579.13,437.53 L579.25,438.20 L579.38,438.86 L579.51,439.51 L579.64,440.14 L579.77,440.77 L579.90,441.37 L580.02,441.97 L580.15,442.56 L580.28,443.13 L580.41,443.69 L580.54,444.25 L580.66,444.79 L580.79,445.32 L580.92,445.84 L581.05,446.34 L581.18,446.84 L581.31,447.33 L581.43,447.81 L581.56,448.28 L581.69,448.74 L581.82,449.18 L581.95,449.62 L582.07,450.06 L582.20,450.48 L582.33,450.89 L582.46,451.29 L582.59,451.69 L582.72,452.08 L582.84,452.46 L582.97,452.83 L583.10,453.19 L583.23,453.55 L583.36,453.90 L583.48,454.24 L583.61,454.57 L583.74,454.90 L583.87,455.21 L584.00,455.53 L584.12,455.83 L584.25,456.13 L584.38,456.42 L584.51,456.71 L584.64,456.99 L584.77,457.26 L584.89,457.53 L585.02,457.79 L585.15,458.04 L585.28,458.29 L585.41,458.53 L585.53,458.77 L585.66,459.00 L585.79,459.23 L585.92,459.45 L586.05,459.67 L586.18,459.88 L586.30,460.09 L586.43,460.29 L586.56,460.48 L586.69,460.68 L586.82,460.86 L586.94,461.04 L587.07,461.22 L587.20,461.40 L587.33,461.56 L587.46,461.73 L587.59,461.89 L587.71,462.04 L587.84,462.20 L587.97,462.34 L588.10,462.49 L588.23,462.63 L588.35,462.76 L588.48,462.89 L588.61,463.02 L588.74,463.15 L588.87,463.27 L589.00,463.38 L589.12,463.50 L589.25,463.61 L589.38,463.71 L589.51,463.81 L589.64,463.91 L589.76,464.01 L589.89,464.10 L590.02,464.19 L590.15,464.27 L590.28,464.35 L590.40,464.43 L590.53,464.51 L590.66,464.58 L590.79,464.64 L590.92,464.71 L591.05,464.77 L591.17,464.82 L591.30,464.88 L591.43,464.93 L591.56,464.97 L591.69,465.02 L591.81,465.06 L591.94,465.09 L592.07,465.12 L592.20,465.15 L592.33,465.18 L592.46,465.20 L592.58,465.21 L592.71,465.23 L592.84,465.23 L592.97,465.24 L593.10,465.24 L593.22,465.23 L593.35,465.22 L593.48,465.21 L593.61,465.19 L593.74,465.17 L593.87,465.14 L593.99,465.10 L594.12,465.06 L594.25,465.02 L594.38,464.97 L594.51,464.91 L594.63,464.84 L594.76,464.77 L594.89,464.69 L595.02,464.61 L595.15,464.51 L595.28,464.41 L595.40,464.29 L595.53,464.17 L595.66,464.04 L595.79,463.90 L595.92,463.74 L596.04,463.58 L596.17,463.40 L596.30,463.20 L596.43,463.00 L596.56,462.78 L596.69,462.54 L596.81,462.28 L596.94,462.01 L597.07,461.71 L597.20,461.39 L597.33,461.06 L597.45,460.69 L597.58,460.30 L597.71,459.88 L597.84,459.43 L597.97,458.95 L598.10,458.44 L598.22,457.88 L598.35,457.29 L598.48,456.65 L598.61,455.97 L598.74,455.24 L598.86,454.46 L598.99,453.62 L599.12,452.72 L599.25,451.76 L599.38,450.73 L599.50,449.63 L599.63,448.45 L599.76,447.20 L599.89,445.87 L600.02,444.44 L600.15,442.94 L600.27,441.34 L600.40,439.64 L600.53,437.86 L600.66,435.97 L600.79,434.00 L600.91,431.93 L601.04,429.77 L601.17,427.53 L601.30,425.21 L601.43,422.82 L601.56,420.38 L601.68,417.88 L601.81,415.34 L601.94,412.79 L602.07,410.22 L602.20,407.67 L602.32,405.14 L602.45,402.66 L602.58,400.24 L602.71,397.89 L602.84,395.65 L602.97,393.51 L603.09,391.49 L603.22,389.61 L603.35,387.87 L603.48,386.28 L603.61,384.85 L603.73,383.58 L603.86,382.48 L603.99,381.53 L604.12,380.75 L604.25,380.13 L604.38,379.65 L604.50,379.33 L604.63,379.14 L604.76,379.09 L604.89,379.17 L605.02,379.36 L605.14,379.67 L605.27,380.07 L605.40,380.57 L605.53,381.16 L605.66,381.83 L605.78,382.57 L605.91,383.37 L606.04,384.23 L606.17,385.14 L606.30,386.10 L606.43,387.09 L606.55,388.13 L606.68,389.19 L606.81,390.28 L606.94,391.39 L607.07,392.52 L607.19,393.66 L607.32,394.81 L607.45,395.98 L607.58,397.15 L607.71,398.32 L607.84,399.49 L607.96,400.67 L608.09,401.84 L608.22,403.01 L608.35,404.17 L608.48,405.32 L608.60,406.47 L608.73,407.61 L608.86,408.74 L608.99,409.86 L609.12,410.97 L609.25,412.06 L609.37,413.14 L609.50,414.21 L609.63,415.27 L609.76,416.31 L609.89,417.34 L610.01,418.36 L610.14,419.36 L610.27,420.34 L610.40,421.31 L610.53,422.27 L610.66,423.21 L610.78,424.14 L610.91,425.05 L611.04,425.94 L611.17,426.82 L611.30,427.69 L611.42,428.54 L611.55,429.38 L611.68,430.20 L611.81,431.01 L611.94,431.80 L612.07,432.58 L612.19,433.34 L612.32,434.09 L612.45,434.83 L612.58,435.55 L612.71,436.26 L612.83,436.96 L612.96,437.64 L613.09,438.31 L613.22,438.97 L613.35,439.61 L613.48,440.24 L613.60,440.86 L613.73,441.47 L613.86,442.07 L613.99,442.65 L614.12,443.22 L614.24,443.78 L614.37,444.33 L614.50,444.87 L614.63,445.40 L614.76,445.92 L614.88,446.42 L615.01,446.92 L615.14,447.41 L615.27,447.88 L615.40,448.35 L615.53,448.81 L615.65,449.26 L615.78,449.69 L615.91,450.12 L616.04,450.54 L616.17,450.96 L616.29,451.36 L616.42,451.75 L616.55,452.14 L616.68,452.52 L616.81,452.89 L616.94,453.25 L617.06,453.60 L617.19,453.95 L617.32,454.29 L617.45,454.62 L617.58,454.95 L617.70,455.26 L617.83,455.58 L617.96,455.88 L618.09,456.18 L618.22,456.47 L618.35,456.75 L618.47,457.03 L618.60,457.30 L618.73,457.57 L618.86,457.83 L618.99,458.08 L619.11,458.33 L619.24,458.57 L619.37,458.81 L619.50,459.04 L619.63,459.27 L619.76,459.49 L619.88,459.70 L620.01,459.91 L620.14,460.12 L620.27,460.32 L620.40,460.51 L620.52,460.71 L620.65,460.89 L620.78,461.07 L620.91,461.25 L621.04,461.42 L621.16,461.59 L621.29,461.75 L621.42,461.91 L621.55,462.07 L621.68,462.22 L621.81,462.37 L621.93,462.51 L622.06,462.65 L622.19,462.78 L622.32,462.92 L622.45,463.04 L622.57,463.17 L622.70,463.29 L622.83,463.40 L622.96,463.51 L623.09,463.62 L623.22,463.73 L623.34,463.83 L623.47,463.93 L623.60,464.02 L623.73,464.11 L623.86,464.20 L623.98,464.29 L624.11,464.37 L624.24,464.44 L624.37,464.52 L624.50,464.59 L624.63,464.65 L624.75,464.72 L624.88,464.78 L625.01,464.83 L625.14,464.89 L625.27,464.94 L625.39,464.98 L625.52,465.02 L625.65,465.06 L625.78,465.10 L625.91,465.13 L626.04,465.16 L626.16,465.18 L626.29,465.20 L626.42,465.22 L626.55,465.23 L626.68,465.24 L626.80,465.24 L626.93,465.24 L627.06,465.23 L627.19,465.22 L627.32,465.21 L627.45,465.19 L627.57,465.16 L627.70,465.13 L627.83,465.10 L627.96,465.06 L628.09,465.01 L628.21,464.96 L628.34,464.90 L628.47,464.83 L628.60,464.76 L628.73,464.68 L628.86,464.59 L628.98,464.49 L629.11,464.39 L629.24,464.27 L629.37,464.15 L629.50,464.02 L629.62,463.87 L629.75,463.72 L629.88,463.55 L630.01,463.37 L630.14,463.17 L630.26,462.96 L630.39,462.74 L630.52,462.50 L630.65,462.24 L630.78,461.96 L630.91,461.66 L631.03,461.34 L631.16,461.00 L631.29,460.63 L631.42,460.24 L631.55,459.81 L631.67,459.36 L631.80,458.87 L631.93,458.35 L632.06,457.79 L632.19,457.19 L632.32,456.55 L632.44,455.86 L632.57,455.12 L632.70,454.33 L632.83,453.48 L632.96,452.57 L633.08,451.60 L633.21,450.56 L633.34,449.45 L633.47,448.26 L633.60,446.99 L633.73,445.64 L633.85,444.21 L633.98,442.69 L634.11,441.07 L634.24,439.36 L634.37,437.56 L634.49,435.67 L634.62,433.67 L634.75,431.59 L634.88,429.42 L635.01,427.17 L635.14,424.84 L635.26,422.44 L635.39,419.98 L635.52,417.48 L635.65,414.94 L635.78,412.38 L635.90,409.81 L636.03,407.26 L636.16,404.74 L636.29,402.27 L636.42,399.86 L636.54,397.53 L636.67,395.30 L636.80,393.18 L636.93,391.18 L637.06,389.32 L637.19,387.61 L637.31,386.04 L637.44,384.64 L637.57,383.40 L637.70,382.32 L637.83,381.40 L637.95,380.64 L638.08,380.04 L638.21,379.59 L638.34,379.29 L638.47,379.13 L638.60,379.10 L638.72,379.19 L638.85,379.40 L638.98,379.73 L639.11,380.15 L639.24,380.66 L639.36,381.26 L639.49,381.94 L639.62,382.69 L639.75,383.50 L639.88,384.37 L640.01,385.29 L640.13,386.25 L640.26,387.26 L640.39,388.29 L640.52,389.36 L640.65,390.45 L640.77,391.57 L640.90,392.70 L641.03,393.84 L641.16,395.00 L641.29,396.16 L641.42,397.33 L641.54,398.51 L641.67,399.68 L641.80,400.85 L641.93,402.02 L642.06,403.19 L642.18,404.35 L642.31,405.51 L642.44,406.65 L642.57,407.79 L642.70,408.92 L642.83,410.04 L642.95,411.14 L643.08,412.23 L643.21,413.32 L643.34,414.38 L643.47,415.44 L643.59,416.48 L643.72,417.51 L643.85,418.52 L643.98,419.52 L644.11,420.50 L644.24,421.47 L644.36,422.42 L644.49,423.36 L644.62,424.28 L644.75,425.19 L644.88,426.08 L645.00,426.96 L645.13,427.83 L645.26,428.68 L645.39,429.51 L645.52,430.33 L645.64,431.13 L645.77,431.92 L645.90,432.70 L646.03,433.46 L646.16,434.21 L646.29,434.95 L646.41,435.67 L646.54,436.37 L646.67,437.07 L646.80,437.75 L646.93,438.42 L647.05,439.07 L647.18,439.71 L647.31,440.34 L647.44,440.96 L647.57,441.57 L647.70,442.16 L647.82,442.74 L647.95,443.31 L648.08,443.87 L648.21,444.42 L648.34,444.96 L648.46,445.48 L648.59,446.00 L648.72,446.50 L648.85,447.00 L648.98,447.48 L649.11,447.96 L649.23,448.42 L649.36,448.88 L649.49,449.33 L649.62,449.76 L649.75,450.19 L649.87,450.61 L650.00,451.02 L650.13,451.42 L650.26,451.81 L650.39,452.20 L650.52,452.58 L650.64,452.95 L650.77,453.31 L650.90,453.66 L651.03,454.00 L651.16,454.34 L651.28,454.67 L651.41,455.00 L651.54,455.31 L651.67,455.62 L651.80,455.93 L651.93,456.22 L652.05,456.51 L652.18,456.80 L652.31,457.07 L652.44,457.34 L652.57,457.61 L652.69,457.87 L652.82,458.12 L652.95,458.37 L653.08,458.61 L653.21,458.85 L653.33,459.08 L653.46,459.30 L653.59,459.52 L653.72,459.74 L653.85,459.95 L653.98,460.15 L654.10,460.35 L654.23,460.55 L654.36,460.74 L654.49,460.92 L654.62,461.10 L654.74,461.28 L654.87,461.45 L655.00,461.62 L655.13,461.78 L655.26,461.94 L655.39,462.09 L655.51,462.24 L655.64,462.39 L655.77,462.53 L655.90,462.67 L656.03,462.81 L656.15,462.94 L656.28,463.06 L656.41,463.19 L656.54,463.30 L656.67,463.42 L656.80,463.53 L656.92,463.64 L657.05,463.74 L657.18,463.85 L657.31,463.94 L657.44,464.04 L657.56,464.13 L657.69,464.21 L657.82,464.30 L657.95,464.38 L658.08,464.45 L658.21,464.53 L658.33,464.60 L658.46,464.66 L658.59,464.73 L658.72,464.79 L658.85,464.84 L658.97,464.89 L659.10,464.94 L659.23,464.99 L659.36,465.03 L659.49,465.07 L659.62,465.10 L659.74,465.13 L659.87,465.16 L660.00,465.18 L660.13,465.20 L660.26,465.22 L660.38,465.23 L660.51,465.24 L660.64,465.24 L660.77,465.24 L660.90,465.23 L661.02,465.22 L661.15,465.21 L661.28,465.19 L661.41,465.16 L661.54,465.13 L661.67,465.09 L661.79,465.05 L661.92,465.00 L662.05,464.95 L662.18,464.89 L662.31,464.82 L662.43,464.75 L662.56,464.67 L662.69,464.58 L662.82,464.48 L662.95,464.37 L663.08,464.26 L663.20,464.13 L663.33,463.99 L663.46,463.85 L663.59,463.69 L663.72,463.52 L663.84,463.34 L663.97,463.14 L664.10,462.93 L664.23,462.70 L664.36,462.46 L664.49,462.20 L664.61,461.91 L664.74,461.61 L664.87,461.29 L665.00,460.94 L665.13,460.57 L665.25,460.17 L665.38,459.74 L665.51,459.28 L665.64,458.79 L665.77,458.26 L665.90,457.70 L666.02,457.09 L666.15,456.44 L666.28,455.74 L666.41,455.00 L666.54,454.20 L666.66,453.34 L666.79,452.42 L666.92,451.44 L667.05,450.39 L667.18,449.26 L667.31,448.06 L667.43,446.78 L667.56,445.42 L667.69,443.97 L667.82,442.44 L667.95,440.81 L668.07,439.08 L668.20,437.27 L668.33,435.35 L668.46,433.35 L668.59,431.25 L668.71,429.07 L668.84,426.80 L668.97,424.46 L669.10,422.05 L669.23,419.58 L669.36,417.07 L669.48,414.53 L669.61,411.97 L669.74,409.41 L669.87,406.86 L670.00,404.34 L670.12,401.88 L670.25,399.48 L670.38,397.17 L670.51,394.95 L670.64,392.85 L670.77,390.88 L670.89,389.04 L671.02,387.35 L671.15,385.81 L671.28,384.43 L671.41,383.21 L671.53,382.16 L671.66,381.27 L671.79,380.54 L671.92,379.96 L672.05,379.53 L672.18,379.25 L672.30,379.11 L672.43,379.10 L672.56,379.22 L672.69,379.45 L672.82,379.79 L672.94,380.22 L673.07,380.75 L673.20,381.37 L673.33,382.06 L673.46,382.81 L673.59,383.64 L673.71,384.51 L673.84,385.44 L673.97,386.41 L674.10,387.42 L674.23,388.46 L674.35,389.53 L674.48,390.63 L674.61,391.74 L674.74,392.88 L674.87,394.03 L675.00,395.18 L675.12,396.35 L675.25,397.52 L675.38,398.69 L675.51,399.87 L675.64,401.04 L675.76,402.21 L675.89,403.38 L676.02,404.54 L676.15,405.69 L676.28,406.84 L676.40,407.97 L676.53,409.10 L676.66,410.21 L676.79,411.32 L676.92,412.41 L677.05,413.49 L677.17,414.55 L677.30,415.61 L677.43,416.64 L677.56,417.67 L677.69,418.68 L677.81,419.67 L677.94,420.65 L678.07,421.62 L678.20,422.57 L678.33,423.51 L678.46,424.43 L678.58,425.33 L678.71,426.22 L678.84,427.10 L678.97,427.96 L679.10,428.81 L679.22,429.64 L679.35,430.46 L679.48,431.26 L679.61,432.05 L679.74,432.82 L679.87,433.58 L679.99,434.33 L680.12,435.06 L680.25,435.78 L680.38,436.48 L680.51,437.18 L680.63,437.85 L680.76,438.52 L680.89,439.17 L681.02,439.81 L681.15,440.44 L681.28,441.06 L681.40,441.66 L681.53,442.25 L681.66,442.83 L681.79,443.40 L681.92,443.96 L682.04,444.51 L682.17,445.04 L682.30,445.57 L682.43,446.08 L682.56,446.58 L682.69,447.08 L682.81,447.56 L682.94,448.03 L683.07,448.50 L683.20,448.95 L683.33,449.40 L683.45,449.83 L683.58,450.26 L683.71,450.68 L683.84,451.08 L683.97,451.48 L684.09,451.88 L684.22,452.26 L684.35,452.64 L684.48,453.00 L684.61,453.36 L684.74,453.71 L684.86,454.06 L684.99,454.40 L685.12,454.73 L685.25,455.05 L685.38,455.36 L685.50,455.67 L685.63,455.97 L685.76,456.27 L685.89,456.56 L686.02,456.84 L686.15,457.12 L686.27,457.39 L686.40,457.65 L686.53,457.91 L686.66,458.16 L686.79,458.41 L686.91,458.65 L687.04,458.88 L687.17,459.11 L687.30,459.34 L687.43,459.56 L687.56,459.77 L687.68,459.98 L687.81,460.18 L687.94,460.38 L688.07,460.58 L688.20,460.76 L688.32,460.95 L688.45,461.13 L688.58,461.31 L688.71,461.48 L688.84,461.64 L688.97,461.81 L689.09,461.96 L689.22,462.12 L689.35,462.27 L689.48,462.41 L689.61,462.55 L689.73,462.69 L689.86,462.83 L689.99,462.96 L690.12,463.08 L690.25,463.20 L690.38,463.32 L690.50,463.44 L690.63,463.55 L690.76,463.66 L690.89,463.76 L691.02,463.86 L691.14,463.96 L691.27,464.05 L691.40,464.14 L691.53,464.23 L691.66,464.31 L691.78,464.39 L691.91,464.47 L692.04,464.54 L692.17,464.61 L692.30,464.67 L692.43,464.74 L692.55,464.80 L692.68,464.85 L692.81,464.90 L692.94,464.95 L693.07,465.00 L693.19,465.04 L693.32,465.07 L693.45,465.11 L693.58,465.14 L693.71,465.16 L693.84,465.19 L693.96,465.21 L694.09,465.22 L694.22,465.23 L694.35,465.24 L694.48,465.24 L694.60,465.24 L694.73,465.23 L694.86,465.22 L694.99,465.20 L695.12,465.18 L695.25,465.16 L695.37,465.12 L695.50,465.09 L695.63,465.04 L695.76,464.99 L695.89,464.94 L696.01,464.88 L696.14,464.81 L696.27,464.73 L696.40,464.65 L696.53,464.56 L696.66,464.46 L696.78,464.35 L696.91,464.24 L697.04,464.11 L697.17,463.97 L697.30,463.82 L697.42,463.66 L697.55,463.49 L697.68,463.31 L697.81,463.11 L697.94,462.89 L698.07,462.66 L698.19,462.42 L698.32,462.15 L698.45,461.87 L698.58,461.56 L698.71,461.24 L698.83,460.88 L698.96,460.51 L699.09,460.10 L699.22,459.67 L699.35,459.21 L699.47,458.71 L699.60,458.18 L699.73,457.60 L699.86,456.99 L699.99,456.33 L700.12,455.63 L700.24,454.87 L700.37,454.06 L700.50,453.20 L700.63,452.27 L700.76,451.27 L700.88,450.21 L701.01,449.08 L701.14,447.86 L701.27,446.57 L701.40,445.20 L701.53,443.74 L701.65,442.18 L701.78,440.54 L701.91,438.80 L702.04,436.97 L702.17,435.04 L702.29,433.02 L702.42,430.91 L702.55,428.71 L702.68,426.43 L702.81,424.08 L702.94,421.66 L703.06,419.19 L703.19,416.67 L703.32,414.12 L703.45,411.56 L703.58,409.00 L703.70,406.46 L703.83,403.95 L703.96,401.49 L704.09,399.11 L704.22,396.81 L704.35,394.61 L704.47,392.53 L704.60,390.57 L704.73,388.76 L704.86,387.09 L704.99,385.58 L705.11,384.23 L705.24,383.04 L705.37,382.01 L705.50,381.14 L705.63,380.43 L705.75,379.88 L705.88,379.48 L706.01,379.22 L706.14,379.10 L706.27,379.11 L706.40,379.25 L706.52,379.50 L706.65,379.85 L706.78,380.30 L706.91,380.85 L707.04,381.47 L707.16,382.17 L707.29,382.94 L707.42,383.77 L707.55,384.66 L707.68,385.59 L707.81,386.57 L707.93,387.58 L708.06,388.63 L708.19,389.70 L708.32,390.80 L708.45,391.92 L708.57,393.06 L708.70,394.21 L708.83,395.37 L708.96,396.53 L709.09,397.71 L709.22,398.88 L709.34,400.05 L709.47,401.23 L709.60,402.40 L709.73,403.56 L709.86,404.72 L709.98,405.87 L710.11,407.02 L710.24,408.15 L710.37,409.28 L710.50,410.39 L710.63,411.49 L710.75,412.58 L710.88,413.66 L711.01,414.72 L711.14,415.77 L711.27,416.81 L711.39,417.83 L711.52,418.84 L711.65,419.83 L711.78,420.81 L711.91,421.77 L712.04,422.72 L712.16,423.65 L712.29,424.57 L712.42,425.48 L712.55,426.37 L712.68,427.24 L712.80,428.10 L712.93,428.94 L713.06,429.77 L713.19,430.59 L713.32,431.39 L713.45,432.17 L713.57,432.94 L713.70,433.70 L713.83,434.45 L713.96,435.18 L714.09,435.89 L714.21,436.60 L714.34,437.29 L714.47,437.96 L714.60,438.63 L714.73,439.28 L714.85,439.91 L714.98,440.54 L715.11,441.15 L715.24,441.76 L715.37,442.35 L715.50,442.92 L715.62,443.49 L715.75,444.05 L715.88,444.59 L716.01,445.13 L716.14,445.65 L716.26,446.16 L716.39,446.66 L716.52,447.15 L716.65,447.64 L716.78,448.11 L716.91,448.57 L717.03,449.02 L717.16,449.47 L717.29,449.90 L717.42,450.33 L717.55,450.74 L717.67,451.15 L717.80,451.55 L717.93,451.94 L718.06,452.32 L718.19,452.69 L718.32,453.06 L718.44,453.42 L718.57,453.77 L718.70,454.11 L718.83,454.45 L718.96,454.78 L719.08,455.10 L719.21,455.41 L719.34,455.72 L719.47,456.02 L719.60,456.32 L719.73,456.60 L719.85,456.89 L719.98,457.16 L720.11,457.43 L720.24,457.69 L720.37,457.95 L720.49,458.20 L720.62,458.45 L720.75,458.69 L720.88,458.92 L721.01,459.15 L721.13,459.37 L721.26,459.59 L721.39,459.80 L721.52,460.01 L721.65,460.21 L721.78,460.41 L721.90,460.61 L722.03,460.79 L722.16,460.98 L722.29,461.16 L722.42,461.33 L722.54,461.50 L722.67,461.67 L722.80,461.83 L722.93,461.99 L723.06,462.14 L723.19,462.29 L723.31,462.44 L723.44,462.58 L723.57,462.71 L723.70,462.85 L723.83,462.98 L723.95,463.10 L724.08,463.22 L724.21,463.34 L724.34,463.46 L724.47,463.57 L724.60,463.67 L724.72,463.78 L724.85,463.88 L724.98,463.97 L725.11,464.07 L725.24,464.16 L725.36,464.24 L725.49,464.32 L725.62,464.40 L725.75,464.48 L725.88,464.55 L726.01,464.62 L726.13,464.68 L726.26,464.75 L726.39,464.80 L726.52,464.86 L726.65,464.91 L726.77,464.96 L726.90,465.00 L727.03,465.04 L727.16,465.08 L727.29,465.11 L727.42,465.14 L727.54,465.17 L727.67,465.19 L727.80,465.21 L727.93,465.22 L728.06,465.23 L728.18,465.24 L728.31,465.24 L728.44,465.24 L728.57,465.23 L728.70,465.22 L728.83,465.20 L728.95,465.18 L729.08,465.15 L729.21,465.12 L729.34,465.08 L729.47,465.04 L729.59,464.99 L729.72,464.93 L729.85,464.87 L729.98,464.80 L730.11,464.72 L730.23,464.64 L730.36,464.55 L730.49,464.44 L730.62,464.34 L730.75,464.22 L730.88,464.09 L731.00,463.95 L731.13,463.80 L731.26,463.64 L731.39,463.46 L731.52,463.28 L731.64,463.07 L731.77,462.86 L731.90,462.63 L732.03,462.38 L732.16,462.11 L732.29,461.82 L732.41,461.51 L732.54,461.18 L732.67,460.83 L732.80,460.45 L732.93,460.04 L733.05,459.60 L733.18,459.13 L733.31,458.63 L733.44,458.09 L733.57,457.51 L733.70,456.89 L733.82,456.22 L733.95,455.51 L734.08,454.75 L734.21,453.93 L734.34,453.05 L734.46,452.11 L734.59,451.11 L734.72,450.04 L734.85,448.89 L734.98,447.66 L735.11,446.36 L735.23,444.97 L735.36,443.49 L735.49,441.93 L735.62,440.27 L735.75,438.52 L735.87,436.67 L736.00,434.73 L736.13,432.69 L736.26,430.57 L736.39,428.36 L736.51,426.06 L736.64,423.70 L736.77,421.27 L736.90,418.79 L737.03,416.27 L737.16,413.72 L737.28,411.15 L737.41,408.59 L737.54,406.05 L737.67,403.55 L737.80,401.11 L737.92,398.74 L738.05,396.45 L738.18,394.27 L738.31,392.21 L738.44,390.28 L738.57,388.48 L738.69,386.84 L738.82,385.35 L738.95,384.03 L739.08,382.86 L739.21,381.86 L739.33,381.02 L739.46,380.34 L739.59,379.81 L739.72,379.43 L739.85,379.20 L739.98,379.10 L740.10,379.13 L740.23,379.28 L740.36,379.54 L740.49,379.92 L740.62,380.38 L740.74,380.94 L740.87,381.58 L741.00,382.29 L741.13,383.07 L741.26,383.91 L741.39,384.80 L741.51,385.74 L741.64,386.73 L741.77,387.75 L741.90,388.80 L742.03,389.88 L742.15,390.98 L742.28,392.10 L742.41,393.24 L742.54,394.39 L742.67,395.55 L742.80,396.72 L742.92,397.89 L743.05,399.07 L743.18,400.24 L743.31,401.41 L743.44,402.58 L743.56,403.75 L743.69,404.91 L743.82,406.06 L743.95,407.20 L744.08,408.33 L744.21,409.45 L744.33,410.57 L744.46,411.67 L744.59,412.75 L744.72,413.83 L744.85,414.89 L744.97,415.94 L745.10,416.97 L745.23,417.99 L745.36,419.00 L745.49,419.99 L745.61,420.96 L745.74,421.92 L745.87,422.87 L746.00,423.80 L746.13,424.72 L746.26,425.62 L746.38,426.51 L746.51,427.38 L746.64,428.23 L746.77,429.08 L746.90,429.90 L747.02,430.71 L747.15,431.51 L747.28,432.30 L747.41,433.07 L747.54,433.82 L747.67,434.56 L747.79,435.29 L747.92,436.01 L748.05,436.71 L748.18,437.39 L748.31,438.07 L748.43,438.73 L748.56,439.38 L748.69,440.02 L748.82,440.64 L748.95,441.25 L749.08,441.85 L749.20,442.44 L749.33,443.02 L749.46,443.58 L749.59,444.13 L749.72,444.68 L749.84,445.21 L749.97,445.73 L750.10,446.24 L750.23,446.74 L750.36,447.23 L750.49,447.71 L750.61,448.18 L750.74,448.64 L750.87,449.09 L751.00,449.54 L751.13,449.97 L751.25,450.39 L751.38,450.81 L751.51,451.21 L751.64,451.61 L751.77,452.00 L751.89,452.38 L752.02,452.75 L752.15,453.12 L752.28,453.48 L752.41,453.83 L752.54,454.17 L752.66,454.50 L752.79,454.83 L752.92,455.15 L753.05,455.46 L753.18,455.77 L753.30,456.07 L753.43,456.36 L753.56,456.65 L753.69,456.93 L753.82,457.20 L753.95,457.47 L754.07,457.73 L754.20,457.99 L754.33,458.24 L754.46,458.48 L754.59,458.72 L754.71,458.96 L754.84,459.18 L754.97,459.41 L755.10,459.62 L755.23,459.84 L755.36,460.04 L755.48,460.25 L755.61,460.44 L755.74,460.64 L755.87,460.82 L756.00,461.01 L756.12,461.19 L756.25,461.36 L756.38,461.53 L756.51,461.70 L756.64,461.86 L756.77,462.01 L756.89,462.17 L757.02,462.31 L757.15,462.46 L757.28,462.60 L757.41,462.74 L757.53,462.87 L757.66,463.00 L757.79,463.12 L757.92,463.24 L758.05,463.36 L758.18,463.47 L758.30,463.58 L758.43,463.69 L758.56,463.79 L758.69,463.89 L758.82,463.99 L758.94,464.08 L759.07,464.17 L759.20,464.26 L759.33,464.34 L759.46,464.42 L759.59,464.49 L759.71,464.56 L759.84,464.63 L759.97,464.69 L760.10,464.76 L760.23,464.81 L760.35,464.87 L760.48,464.92 L760.61,464.97 L760.74,465.01 L760.87,465.05 L760.99,465.09 L761.12,465.12 L761.25,465.15 L761.38,465.17 L761.51,465.19 L761.64,465.21 L761.76,465.22 L761.89,465.23 L762.02,465.24 L762.15,465.24 L762.28,465.24 L762.40,465.23 L762.53,465.21 L762.66,465.20 L762.79,465.17 L762.92,465.15 L763.05,465.11 L763.17,465.07 L763.30,465.03 L763.43,464.98 L763.56,464.92 L763.69,464.86 L763.81,464.79 L763.94,464.71 L764.07,464.62 L764.20,464.53 L764.33,464.43 L764.46,464.32 L764.58,464.20 L764.71,464.07 L764.84,463.93 L764.97,463.77 L765.10,463.61 L765.22,463.43 L765.35,463.25 L765.48,463.04 L765.61,462.82 L765.74,462.59 L765.87,462.33 L765.99,462.06 L766.12,461.77 L766.25,461.46 L766.38,461.13 L766.51,460.77 L766.63,460.38 L766.76,459.97 L766.89,459.53 L767.02,459.05 L767.15,458.54 L767.27,458.00 L767.40,457.41 L767.53,456.79 L767.66,456.11 L767.79,455.39 L767.92,454.62 L768.04,453.79 L768.17,452.91 L768.30,451.96 L768.43,450.94 L768.56,449.86 L768.68,448.70 L768.81,447.46 L768.94,446.14 L769.07,444.74 L769.20,443.25 L769.33,441.67 L769.45,440.00 L769.58,438.23 L769.71,436.37 L769.84,434.41 L769.97,432.36 L770.09,430.22 L770.22,428.00 L770.35,425.69 L770.48,423.32 L770.61,420.88 L770.74,418.39 L770.86,415.86 L770.99,413.31 L771.12,410.74 L771.25,408.19 L771.38,405.65 L771.50,403.16 L771.63,400.73 L771.76,398.37 L771.89,396.10 L772.02,393.93 L772.15,391.89 L772.27,389.98 L772.40,388.21 L772.53,386.59 L772.66,385.13 L772.79,383.83 L772.91,382.69 L773.04,381.71 L773.17,380.90 L773.30,380.24 L773.43,379.74 L773.56,379.38 L773.68,379.17 L773.81,379.09 L773.94,379.14 L774.07,379.31 L774.20,379.60 L774.32,379.98 L774.45,380.47 L774.58,381.04 L774.71,381.69 L774.84,382.41 L774.97,383.20 L775.09,384.05 L775.22,384.95 L775.35,385.90 L775.48,386.89 L775.61,387.91 L775.73,388.97 L775.86,390.05 L775.99,391.16 L776.12,392.28 L776.25,393.42 L776.37,394.58 L776.50,395.74 L776.63,396.91 L776.76,398.08 L776.89,399.25 L777.02,400.43 L777.14,401.60 L777.27,402.77 L777.40,403.93 L777.53,405.09 L777.66,406.24 L777.78,407.38 L777.91,408.51 L778.04,409.63 L778.17,410.74 L778.30,411.84 L778.43,412.92 L778.55,414.00 L778.68,415.06 L778.81,416.10 L778.94,417.13 L779.07,418.15 L779.19,419.16 L779.32,420.14 L779.45,421.12 L779.58,422.08 L779.71,423.02 L779.84,423.95 L779.96,424.86 L780.09,425.76 L780.22,426.65 L780.35,427.51 L780.48,428.37 L780.60,429.21 L780.73,430.03 L780.86,430.84 L780.99,431.64 L781.12,432.42 L781.25,433.19 L781.37,433.94 L781.50,434.68 L781.63,435.41 L781.76,436.12 L781.89,436.82 L782.01,437.50 L782.14,438.17 L782.27,438.83 L782.40,439.48 L782.53,440.12 L782.65,440.74 L782.78,441.35 L782.91,441.95 L783.04,442.53 L783.17,443.11 L783.30,443.67 L783.42,444.22 L783.55,444.76 L783.68,445.29 L783.81,445.81 L783.94,446.32 L784.06,446.82 L784.19,447.31 L784.32,447.79 L784.45,448.26 L784.58,448.72 L784.71,449.16 L784.83,449.61 L784.96,450.04 L785.09,450.46 L785.22,450.87 L785.35,451.28 L785.47,451.67 L785.60,452.06 L785.73,452.44 L785.86,452.81 L785.99,453.18 L786.12,453.53 L786.24,453.88 L786.37,454.22 L786.50,454.55" fill="none" stroke="#18f018" stroke-width="1.35" stroke-linejoin="round"/>
<rect x="642.5" y="15.5" width="141" height="38" fill="#fff" stroke="#000" stroke-width="1" shape-rendering="crispEdges"/>
<path d="M646.5,22.7 L672,22.7" stroke="#ff5050" stroke-width="1.7"/>
<path d="M646.5,34 L672,34" stroke="#5a5aff" stroke-width="1.7"/>
<path d="M646.5,45.4 L672,45.4" stroke="#22ee22" stroke-width="1.4"/>
</svg>
<div class="lb yl" style="left:-15px;top:7px">14</div>
<div class="lb yl" style="left:-15px;top:73px">12</div>
<div class="lb yl" style="left:-15px;top:139px">10</div>
<div class="lb yl" style="left:-15px;top:205px">8</div>
<div class="lb yl" style="left:-15px;top:270px">6</div>
<div class="lb yl" style="left:-15px;top:336px">4</div>
<div class="lb yl" style="left:-15px;top:402px">2</div>
<div class="lb yl" style="left:-15px;top:468px">0</div>
<div class="lb xl" style="left:-2px;top:475px">0</div>
<div class="lb xl" style="left:75px;top:475px">50</div>
<div class="lb xl" style="left:152px;top:475px">100</div>
<div class="lb xl" style="left:229px;top:475px">150</div>
<div class="lb xl" style="left:306px;top:475px">200</div>
<div class="lb xl" style="left:383px;top:475px">250</div>
<div class="lb xl" style="left:459px;top:475px">300</div>
<div class="lb xl" style="left:536px;top:475px">350</div>
<div class="lb xl" style="left:613px;top:475px">400</div>
<div class="lb xl" style="left:690px;top:475px">450</div>
<div class="lb xl" style="left:767px;top:475px">500</div>
<div class="lb lg" style="left:674px;top:19px;letter-spacing:1.6px">Presas</div>
<div class="lb lg" style="left:674px;top:31px;letter-spacing:1.6px">Primer tipo depredadores</div>
<div class="lb lg" style="left:674px;top:43px;letter-spacing:1.8px">Segundo tipo depredadores</div>
</body></html>
